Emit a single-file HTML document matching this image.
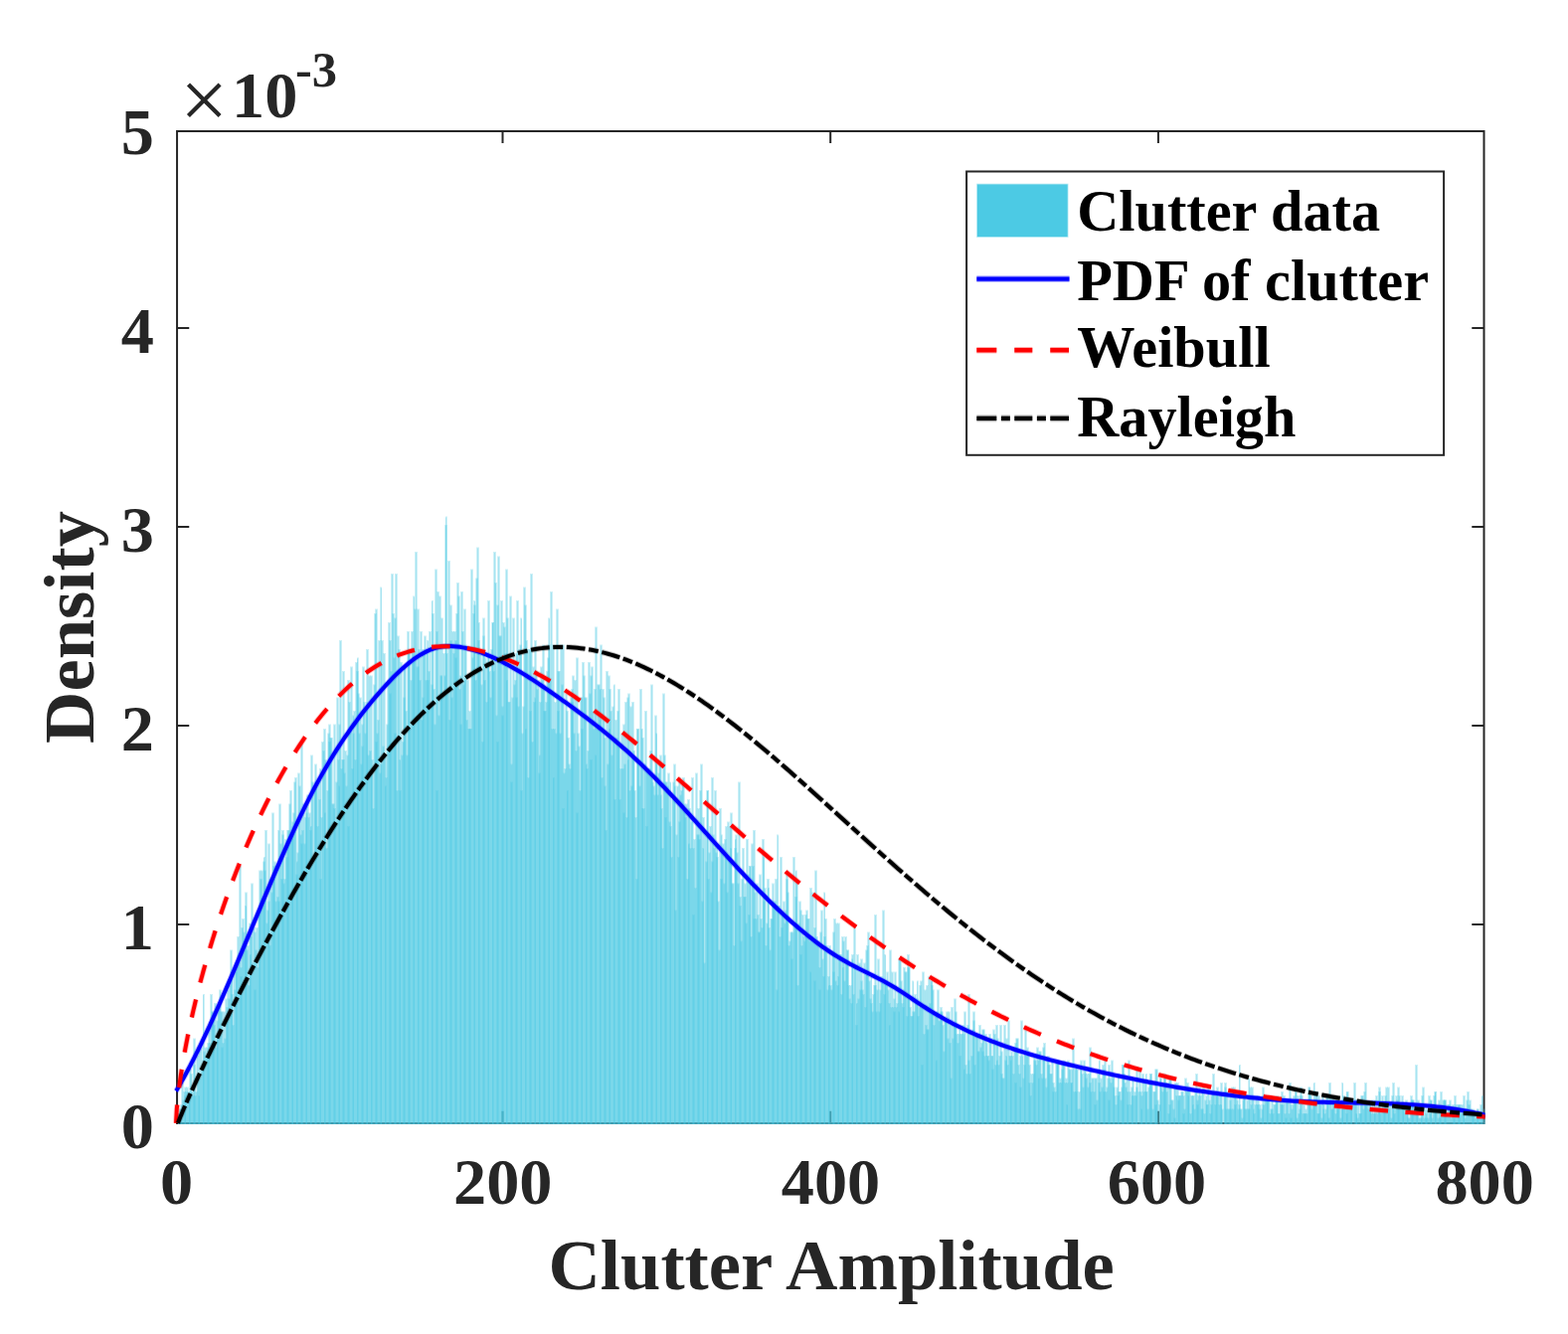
<!DOCTYPE html>
<html lang="en"><head><meta charset="utf-8"><title>Clutter amplitude density: histogram, PDF, Weibull and Rayleigh fits</title>
<style>html,body{margin:0;padding:0;background:#ffffff}svg{display:block}text{font-family:"Liberation Serif",serif;font-weight:bold}</style></head><body>
<svg width="1577" height="1342" viewBox="0 0 1577 1342">
<rect width="1577" height="1342" fill="#ffffff"/>
<g stroke="#262626" stroke-width="2" fill="none">
<path d="M178.05 1130.9V130.9M1492.5 1130.9V130.9M177.05 131.9H1493.5M177.05 1129.9H1493.5"/>
<path d="M505.5 131.9v12.2M505.5 1129.9v-12.2M835.2 131.9v12.2M835.2 1129.9v-12.2M1164.9 131.9v12.2M1164.9 1129.9v-12.2M178.05 329.9h12.2M1492.5 329.9h-12.2M178.05 529.9h12.2M1492.5 529.9h-12.2M178.05 729.9h12.2M1492.5 729.9h-12.2M178.05 929.9h12.2M1492.5 929.9h-12.2"/>
</g>
<clipPath id="c"><rect x="179.0" y="100" width="1314.5" height="1031"/></clipPath>
<g clip-path="url(#c)"><g fill="#4ccae4" fill-opacity="0.28">
<path d="M176 1124.5h2V1134h-2z"/>
<path d="M177 1120h3V1134h-3z"/>
<path d="M178 1120h3V1134h-3z"/>
<path d="M179 1120h3V1134h-3z"/>
<path d="M180 1115.5h3V1134h-3z"/>
<path d="M180 1115.5h3V1134h-3z"/>
<path d="M181 1111h3V1134h-3z"/>
<path d="M182 1089h3V1134h-3z"/>
<path d="M183 1106.5h3V1134h-3z"/>
<path d="M184 1098h3V1134h-3z"/>
<path d="M185 1102h2V1134h-2z"/>
<path d="M185 1093.5h3V1134h-3z"/>
<path d="M186 1098h3V1134h-3z"/>
<path d="M187 1093.5h3V1134h-3z"/>
<path d="M188 1098h3V1134h-3z"/>
<path d="M189 1106.5h3V1134h-3z"/>
<path d="M190 1098h2V1134h-2z"/>
<path d="M190 1075.5h3V1134h-3z"/>
<path d="M191 1080h3V1134h-3z"/>
<path d="M192 1098h3V1134h-3z"/>
<path d="M193 1102h3V1134h-3z"/>
<path d="M194 1071h3V1134h-3z"/>
<path d="M194 1044.5h3V1134h-3z"/>
<path d="M195 1102h3V1134h-3z"/>
<path d="M196 1098h3V1134h-3z"/>
<path d="M197 1062h3V1134h-3z"/>
<path d="M198 1080h3V1134h-3z"/>
<path d="M199 1102h2V1134h-2z"/>
<path d="M199 1053.5h3V1134h-3z"/>
<path d="M200 1084.5h3V1134h-3z"/>
<path d="M201 1053.5h3V1134h-3z"/>
<path d="M202 1071h3V1134h-3z"/>
<path d="M203 1066.5h3V1134h-3z"/>
<path d="M204 1000h2V1134h-2z"/>
<path d="M204 1057.5h3V1134h-3z"/>
<path d="M205 1053.5h3V1134h-3z"/>
<path d="M206 1062h3V1134h-3z"/>
<path d="M207 1053.5h3V1134h-3z"/>
<path d="M208 1062h3V1134h-3z"/>
<path d="M208 1049h3V1134h-3z"/>
<path d="M209 1031h3V1134h-3z"/>
<path d="M210 1049h3V1134h-3z"/>
<path d="M211 1000h3V1134h-3z"/>
<path d="M212 1017.5h3V1134h-3z"/>
<path d="M213 1026.5h3V1134h-3z"/>
<path d="M213 1017.5h3V1134h-3z"/>
<path d="M214 1031h3V1134h-3z"/>
<path d="M215 1009h3V1134h-3z"/>
<path d="M216 1053.5h3V1134h-3z"/>
<path d="M217 1026.5h3V1134h-3z"/>
<path d="M218 1044.5h2V1134h-2z"/>
<path d="M218 1017.5h3V1134h-3z"/>
<path d="M219 1013h3V1134h-3z"/>
<path d="M220 995.5h3V1134h-3z"/>
<path d="M221 1017.5h3V1134h-3z"/>
<path d="M222 1053.5h3V1134h-3z"/>
<path d="M222 1017.5h3V1134h-3z"/>
<path d="M223 1049h3V1134h-3z"/>
<path d="M224 1017.5h3V1134h-3z"/>
<path d="M225 1044.5h3V1134h-3z"/>
<path d="M226 1004.5h3V1134h-3z"/>
<path d="M227 1022h3V1134h-3z"/>
<path d="M227 1013h3V1134h-3z"/>
<path d="M228 995.5h3V1134h-3z"/>
<path d="M229 1004.5h3V1134h-3z"/>
<path d="M230 991h3V1134h-3z"/>
<path d="M231 955.5h3V1134h-3z"/>
<path d="M232 977.5h2V1134h-2z"/>
<path d="M232 1000h3V1134h-3z"/>
<path d="M233 1031h3V1134h-3z"/>
<path d="M234 977.5h3V1134h-3z"/>
<path d="M235 995.5h3V1134h-3z"/>
<path d="M236 968.5h3V1134h-3z"/>
<path d="M237 977.5h2V1134h-2z"/>
<path d="M237 968.5h3V1134h-3z"/>
<path d="M238 942h3V1134h-3z"/>
<path d="M239 968.5h3V1134h-3z"/>
<path d="M240 871h3V1134h-3z"/>
<path d="M241 982h3V1134h-3z"/>
<path d="M241 973h3V1134h-3z"/>
<path d="M242 933h3V1134h-3z"/>
<path d="M243 924h3V1134h-3z"/>
<path d="M244 937.5h3V1134h-3z"/>
<path d="M245 955.5h3V1134h-3z"/>
<path d="M246 911h2V1134h-2z"/>
<path d="M246 897.5h3V1134h-3z"/>
<path d="M247 955.5h3V1134h-3z"/>
<path d="M248 951h3V1134h-3z"/>
<path d="M249 991h3V1134h-3z"/>
<path d="M250 928.5h3V1134h-3z"/>
<path d="M251 960h2V1134h-2z"/>
<path d="M251 942h3V1134h-3z"/>
<path d="M252 888.5h3V1134h-3z"/>
<path d="M253 968.5h3V1134h-3z"/>
<path d="M254 933h3V1134h-3z"/>
<path d="M255 937.5h3V1134h-3z"/>
<path d="M255 995.5h3V1134h-3z"/>
<path d="M256 955.5h3V1134h-3z"/>
<path d="M257 933h3V1134h-3z"/>
<path d="M258 973h3V1134h-3z"/>
<path d="M259 915.5h3V1134h-3z"/>
<path d="M260 920h2V1134h-2z"/>
<path d="M260 875.5h3V1134h-3z"/>
<path d="M261 884h3V1134h-3z"/>
<path d="M262 875.5h3V1134h-3z"/>
<path d="M263 911h3V1134h-3z"/>
<path d="M264 866.5h3V1134h-3z"/>
<path d="M265 862h2V1134h-2z"/>
<path d="M265 875.5h3V1134h-3z"/>
<path d="M266 835h3V1134h-3z"/>
<path d="M267 928.5h3V1134h-3z"/>
<path d="M268 915.5h3V1134h-3z"/>
<path d="M269 848.5h3V1134h-3z"/>
<path d="M269 906.5h3V1134h-3z"/>
<path d="M270 951h3V1134h-3z"/>
<path d="M271 884h3V1134h-3z"/>
<path d="M272 897.5h3V1134h-3z"/>
<path d="M273 817.5h3V1134h-3z"/>
<path d="M274 884h3V1134h-3z"/>
<path d="M274 871h3V1134h-3z"/>
<path d="M275 866.5h3V1134h-3z"/>
<path d="M276 906.5h3V1134h-3z"/>
<path d="M277 871h3V1134h-3z"/>
<path d="M278 902h3V1134h-3z"/>
<path d="M279 835h2V1134h-2z"/>
<path d="M279 906.5h3V1134h-3z"/>
<path d="M280 808.5h3V1134h-3z"/>
<path d="M281 848.5h3V1134h-3z"/>
<path d="M282 884h3V1134h-3z"/>
<path d="M283 835h3V1134h-3z"/>
<path d="M283 839.5h3V1134h-3z"/>
<path d="M284 888.5h3V1134h-3z"/>
<path d="M285 884h3V1134h-3z"/>
<path d="M286 844h3V1134h-3z"/>
<path d="M287 862h3V1134h-3z"/>
<path d="M288 835h3V1134h-3z"/>
<path d="M288 848.5h3V1134h-3z"/>
<path d="M289 835h3V1134h-3z"/>
<path d="M290 808.5h3V1134h-3z"/>
<path d="M291 795h3V1134h-3z"/>
<path d="M292 844h3V1134h-3z"/>
<path d="M293 831h2V1134h-2z"/>
<path d="M293 826.5h3V1134h-3z"/>
<path d="M294 817.5h3V1134h-3z"/>
<path d="M295 786.5h3V1134h-3z"/>
<path d="M296 782h3V1134h-3z"/>
<path d="M297 879.5h3V1134h-3z"/>
<path d="M298 866.5h2V1134h-2z"/>
<path d="M298 857.5h3V1134h-3z"/>
<path d="M299 777.5h3V1134h-3z"/>
<path d="M300 790.5h3V1134h-3z"/>
<path d="M301 839.5h3V1134h-3z"/>
<path d="M302 746h3V1134h-3z"/>
<path d="M302 848.5h3V1134h-3z"/>
<path d="M303 835h3V1134h-3z"/>
<path d="M304 808.5h3V1134h-3z"/>
<path d="M305 848.5h3V1134h-3z"/>
<path d="M306 822h3V1134h-3z"/>
<path d="M307 808.5h2V1134h-2z"/>
<path d="M307 817.5h3V1134h-3z"/>
<path d="M308 799.5h3V1134h-3z"/>
<path d="M309 822h3V1134h-3z"/>
<path d="M310 817.5h3V1134h-3z"/>
<path d="M311 835h3V1134h-3z"/>
<path d="M312 831h2V1134h-2z"/>
<path d="M312 759.5h3V1134h-3z"/>
<path d="M313 786.5h3V1134h-3z"/>
<path d="M314 866.5h3V1134h-3z"/>
<path d="M315 790.5h3V1134h-3z"/>
<path d="M316 768.5h3V1134h-3z"/>
<path d="M316 786.5h3V1134h-3z"/>
<path d="M317 786.5h3V1134h-3z"/>
<path d="M318 831h3V1134h-3z"/>
<path d="M319 786.5h3V1134h-3z"/>
<path d="M320 804h3V1134h-3z"/>
<path d="M321 773h2V1134h-2z"/>
<path d="M321 884h3V1134h-3z"/>
<path d="M322 822h3V1134h-3z"/>
<path d="M323 746h3V1134h-3z"/>
<path d="M324 755h3V1134h-3z"/>
<path d="M325 733h3V1134h-3z"/>
<path d="M326 817.5h2V1134h-2z"/>
<path d="M326 764h3V1134h-3z"/>
<path d="M327 853h3V1134h-3z"/>
<path d="M328 795h3V1134h-3z"/>
<path d="M329 737.5h3V1134h-3z"/>
<path d="M330 728.5h3V1134h-3z"/>
<path d="M330 746h3V1134h-3z"/>
<path d="M331 742h3V1134h-3z"/>
<path d="M332 742h3V1134h-3z"/>
<path d="M333 808.5h3V1134h-3z"/>
<path d="M334 808.5h3V1134h-3z"/>
<path d="M335 813h3V1134h-3z"/>
<path d="M335 728.5h3V1134h-3z"/>
<path d="M336 826.5h3V1134h-3z"/>
<path d="M337 786.5h3V1134h-3z"/>
<path d="M338 701.5h3V1134h-3z"/>
<path d="M339 764h3V1134h-3z"/>
<path d="M340 790.5h2V1134h-2z"/>
<path d="M340 728.5h3V1134h-3z"/>
<path d="M341 644h3V1134h-3z"/>
<path d="M342 773h3V1134h-3z"/>
<path d="M343 764h3V1134h-3z"/>
<path d="M344 764h3V1134h-3z"/>
<path d="M344 675h3V1134h-3z"/>
<path d="M345 777.5h3V1134h-3z"/>
<path d="M346 755h3V1134h-3z"/>
<path d="M347 790.5h3V1134h-3z"/>
<path d="M348 759.5h3V1134h-3z"/>
<path d="M349 684h3V1134h-3z"/>
<path d="M349 831h3V1134h-3z"/>
<path d="M350 706h3V1134h-3z"/>
<path d="M351 733h3V1134h-3z"/>
<path d="M352 670.5h3V1134h-3z"/>
<path d="M353 773h3V1134h-3z"/>
<path d="M354 719.5h2V1134h-2z"/>
<path d="M354 737.5h3V1134h-3z"/>
<path d="M355 715h3V1134h-3z"/>
<path d="M356 764h3V1134h-3z"/>
<path d="M357 666h3V1134h-3z"/>
<path d="M358 675h3V1134h-3z"/>
<path d="M359 661.5h2V1134h-2z"/>
<path d="M359 697.5h3V1134h-3z"/>
<path d="M360 737.5h3V1134h-3z"/>
<path d="M361 701.5h3V1134h-3z"/>
<path d="M362 768.5h3V1134h-3z"/>
<path d="M363 750.5h3V1134h-3z"/>
<path d="M363 728.5h3V1134h-3z"/>
<path d="M364 670.5h3V1134h-3z"/>
<path d="M365 706h3V1134h-3z"/>
<path d="M366 737.5h3V1134h-3z"/>
<path d="M367 710.5h3V1134h-3z"/>
<path d="M368 706h2V1134h-2z"/>
<path d="M368 653h3V1134h-3z"/>
<path d="M369 759.5h3V1134h-3z"/>
<path d="M370 679.5h3V1134h-3z"/>
<path d="M371 755h3V1134h-3z"/>
<path d="M372 679.5h3V1134h-3z"/>
<path d="M373 773h2V1134h-2z"/>
<path d="M373 764h3V1134h-3z"/>
<path d="M374 813h3V1134h-3z"/>
<path d="M375 688.5h3V1134h-3z"/>
<path d="M376 617h3V1134h-3z"/>
<path d="M377 612.5h3V1134h-3z"/>
<path d="M377 746h3V1134h-3z"/>
<path d="M378 737.5h3V1134h-3z"/>
<path d="M379 724h3V1134h-3z"/>
<path d="M380 644h3V1134h-3z"/>
<path d="M381 777.5h3V1134h-3z"/>
<path d="M382 590.5h2V1134h-2z"/>
<path d="M382 768.5h3V1134h-3z"/>
<path d="M383 644h3V1134h-3z"/>
<path d="M384 750.5h3V1134h-3z"/>
<path d="M385 657h3V1134h-3z"/>
<path d="M386 759.5h3V1134h-3z"/>
<path d="M387 790.5h2V1134h-2z"/>
<path d="M387 782h3V1134h-3z"/>
<path d="M388 728.5h3V1134h-3z"/>
<path d="M389 684h3V1134h-3z"/>
<path d="M390 626h3V1134h-3z"/>
<path d="M391 644h3V1134h-3z"/>
<path d="M391 697.5h3V1134h-3z"/>
<path d="M392 675h3V1134h-3z"/>
<path d="M393 577h3V1134h-3z"/>
<path d="M394 617h3V1134h-3z"/>
<path d="M395 661.5h3V1134h-3z"/>
<path d="M396 621.5h3V1134h-3z"/>
<path d="M396 737.5h3V1134h-3z"/>
<path d="M397 577h3V1134h-3z"/>
<path d="M398 795h3V1134h-3z"/>
<path d="M399 639.5h3V1134h-3z"/>
<path d="M400 653h3V1134h-3z"/>
<path d="M401 764h2V1134h-2z"/>
<path d="M401 795h3V1134h-3z"/>
<path d="M402 666h3V1134h-3z"/>
<path d="M403 759.5h3V1134h-3z"/>
<path d="M404 746h3V1134h-3z"/>
<path d="M405 701.5h3V1134h-3z"/>
<path d="M405 670.5h3V1134h-3z"/>
<path d="M406 670.5h3V1134h-3z"/>
<path d="M407 715h3V1134h-3z"/>
<path d="M408 759.5h3V1134h-3z"/>
<path d="M409 635h3V1134h-3z"/>
<path d="M410 653h3V1134h-3z"/>
<path d="M410 653h3V1134h-3z"/>
<path d="M411 733h3V1134h-3z"/>
<path d="M412 684h3V1134h-3z"/>
<path d="M413 635h3V1134h-3z"/>
<path d="M414 657h3V1134h-3z"/>
<path d="M415 599.5h2V1134h-2z"/>
<path d="M415 661.5h3V1134h-3z"/>
<path d="M416 612.5h3V1134h-3z"/>
<path d="M417 555h3V1134h-3z"/>
<path d="M418 670.5h3V1134h-3z"/>
<path d="M419 612.5h3V1134h-3z"/>
<path d="M420 670.5h2V1134h-2z"/>
<path d="M420 653h3V1134h-3z"/>
<path d="M421 684h3V1134h-3z"/>
<path d="M422 635h3V1134h-3z"/>
<path d="M423 724h3V1134h-3z"/>
<path d="M424 701.5h3V1134h-3z"/>
<path d="M424 653h3V1134h-3z"/>
<path d="M425 657h3V1134h-3z"/>
<path d="M426 639.5h3V1134h-3z"/>
<path d="M427 684h3V1134h-3z"/>
<path d="M428 657h3V1134h-3z"/>
<path d="M429 644h2V1134h-2z"/>
<path d="M429 684h3V1134h-3z"/>
<path d="M430 675h3V1134h-3z"/>
<path d="M431 635h3V1134h-3z"/>
<path d="M432 710.5h3V1134h-3z"/>
<path d="M433 688.5h3V1134h-3z"/>
<path d="M434 604h2V1134h-2z"/>
<path d="M434 617h3V1134h-3z"/>
<path d="M435 693h3V1134h-3z"/>
<path d="M436 728.5h3V1134h-3z"/>
<path d="M437 572.5h3V1134h-3z"/>
<path d="M438 795h3V1134h-3z"/>
<path d="M438 635h3V1134h-3z"/>
<path d="M439 595h3V1134h-3z"/>
<path d="M440 719.5h3V1134h-3z"/>
<path d="M441 599.5h3V1134h-3z"/>
<path d="M442 679.5h3V1134h-3z"/>
<path d="M443 679.5h2V1134h-2z"/>
<path d="M443 621.5h3V1134h-3z"/>
<path d="M444 697.5h3V1134h-3z"/>
<path d="M445 657h3V1134h-3z"/>
<path d="M446 679.5h3V1134h-3z"/>
<path d="M447 528h3V1134h-3z"/>
<path d="M448 519.5h2V1134h-2z"/>
<path d="M448 657h3V1134h-3z"/>
<path d="M449 697.5h3V1134h-3z"/>
<path d="M450 564h3V1134h-3z"/>
<path d="M451 724h3V1134h-3z"/>
<path d="M452 644h3V1134h-3z"/>
<path d="M452 608.5h3V1134h-3z"/>
<path d="M453 701.5h3V1134h-3z"/>
<path d="M454 635h3V1134h-3z"/>
<path d="M455 657h3V1134h-3z"/>
<path d="M456 635h3V1134h-3z"/>
<path d="M457 644h3V1134h-3z"/>
<path d="M457 661.5h3V1134h-3z"/>
<path d="M458 617h3V1134h-3z"/>
<path d="M459 586h3V1134h-3z"/>
<path d="M460 599.5h3V1134h-3z"/>
<path d="M461 693h3V1134h-3z"/>
<path d="M462 679.5h2V1134h-2z"/>
<path d="M462 728.5h3V1134h-3z"/>
<path d="M463 595h3V1134h-3z"/>
<path d="M464 635h3V1134h-3z"/>
<path d="M465 688.5h3V1134h-3z"/>
<path d="M466 684h3V1134h-3z"/>
<path d="M466 612.5h3V1134h-3z"/>
<path d="M467 648.5h3V1134h-3z"/>
<path d="M468 724h3V1134h-3z"/>
<path d="M469 684h3V1134h-3z"/>
<path d="M470 733h3V1134h-3z"/>
<path d="M471 715h3V1134h-3z"/>
<path d="M471 733h3V1134h-3z"/>
<path d="M472 733h3V1134h-3z"/>
<path d="M473 572.5h3V1134h-3z"/>
<path d="M474 661.5h3V1134h-3z"/>
<path d="M475 617h3V1134h-3z"/>
<path d="M476 604h2V1134h-2z"/>
<path d="M476 608.5h3V1134h-3z"/>
<path d="M477 684h3V1134h-3z"/>
<path d="M478 581.5h3V1134h-3z"/>
<path d="M479 550.5h3V1134h-3z"/>
<path d="M480 644h3V1134h-3z"/>
<path d="M481 626h2V1134h-2z"/>
<path d="M481 670.5h3V1134h-3z"/>
<path d="M482 657h3V1134h-3z"/>
<path d="M483 688.5h3V1134h-3z"/>
<path d="M484 746h3V1134h-3z"/>
<path d="M485 621.5h3V1134h-3z"/>
<path d="M485 639.5h3V1134h-3z"/>
<path d="M486 684h3V1134h-3z"/>
<path d="M487 661.5h3V1134h-3z"/>
<path d="M488 706h3V1134h-3z"/>
<path d="M489 666h3V1134h-3z"/>
<path d="M490 657h2V1134h-2z"/>
<path d="M490 604h3V1134h-3z"/>
<path d="M491 675h3V1134h-3z"/>
<path d="M492 701.5h3V1134h-3z"/>
<path d="M493 653h3V1134h-3z"/>
<path d="M494 626h3V1134h-3z"/>
<path d="M495 626h2V1134h-2z"/>
<path d="M495 675h3V1134h-3z"/>
<path d="M496 555h3V1134h-3z"/>
<path d="M497 586h3V1134h-3z"/>
<path d="M498 719.5h3V1134h-3z"/>
<path d="M499 746h3V1134h-3z"/>
<path d="M499 608.5h3V1134h-3z"/>
<path d="M500 559.5h3V1134h-3z"/>
<path d="M501 639.5h3V1134h-3z"/>
<path d="M502 639.5h3V1134h-3z"/>
<path d="M503 604h3V1134h-3z"/>
<path d="M504 719.5h3V1134h-3z"/>
<path d="M504 710.5h3V1134h-3z"/>
<path d="M505 626h3V1134h-3z"/>
<path d="M506 630.5h3V1134h-3z"/>
<path d="M507 657h3V1134h-3z"/>
<path d="M508 572.5h3V1134h-3z"/>
<path d="M509 684h2V1134h-2z"/>
<path d="M509 621.5h3V1134h-3z"/>
<path d="M510 706h3V1134h-3z"/>
<path d="M511 706h3V1134h-3z"/>
<path d="M512 599.5h3V1134h-3z"/>
<path d="M513 786.5h3V1134h-3z"/>
<path d="M513 768.5h3V1134h-3z"/>
<path d="M514 701.5h3V1134h-3z"/>
<path d="M515 621.5h3V1134h-3z"/>
<path d="M516 688.5h3V1134h-3z"/>
<path d="M517 684h3V1134h-3z"/>
<path d="M518 657h3V1134h-3z"/>
<path d="M518 701.5h3V1134h-3z"/>
<path d="M519 604h3V1134h-3z"/>
<path d="M520 710.5h3V1134h-3z"/>
<path d="M521 653h3V1134h-3z"/>
<path d="M522 648.5h3V1134h-3z"/>
<path d="M523 621.5h2V1134h-2z"/>
<path d="M523 795h3V1134h-3z"/>
<path d="M524 737.5h3V1134h-3z"/>
<path d="M525 710.5h3V1134h-3z"/>
<path d="M526 590.5h3V1134h-3z"/>
<path d="M527 608.5h3V1134h-3z"/>
<path d="M528 733h2V1134h-2z"/>
<path d="M528 644h3V1134h-3z"/>
<path d="M529 653h3V1134h-3z"/>
<path d="M530 782h3V1134h-3z"/>
<path d="M531 653h3V1134h-3z"/>
<path d="M532 715h3V1134h-3z"/>
<path d="M532 653h3V1134h-3z"/>
<path d="M533 577h3V1134h-3z"/>
<path d="M534 746h3V1134h-3z"/>
<path d="M535 670.5h3V1134h-3z"/>
<path d="M536 706h3V1134h-3z"/>
<path d="M537 701.5h2V1134h-2z"/>
<path d="M537 644h3V1134h-3z"/>
<path d="M538 675h3V1134h-3z"/>
<path d="M539 693h3V1134h-3z"/>
<path d="M540 684h3V1134h-3z"/>
<path d="M541 777.5h3V1134h-3z"/>
<path d="M542 759.5h2V1134h-2z"/>
<path d="M542 706h3V1134h-3z"/>
<path d="M543 670.5h3V1134h-3z"/>
<path d="M544 684h3V1134h-3z"/>
<path d="M545 648.5h3V1134h-3z"/>
<path d="M546 688.5h3V1134h-3z"/>
<path d="M546 715h3V1134h-3z"/>
<path d="M547 715h3V1134h-3z"/>
<path d="M548 706h3V1134h-3z"/>
<path d="M549 675h3V1134h-3z"/>
<path d="M550 661.5h3V1134h-3z"/>
<path d="M551 621.5h2V1134h-2z"/>
<path d="M551 648.5h3V1134h-3z"/>
<path d="M552 684h3V1134h-3z"/>
<path d="M553 595h3V1134h-3z"/>
<path d="M554 733h3V1134h-3z"/>
<path d="M555 648.5h3V1134h-3z"/>
<path d="M556 782h2V1134h-2z"/>
<path d="M556 733h3V1134h-3z"/>
<path d="M557 706h3V1134h-3z"/>
<path d="M558 737.5h3V1134h-3z"/>
<path d="M559 612.5h3V1134h-3z"/>
<path d="M560 715h3V1134h-3z"/>
<path d="M560 675h3V1134h-3z"/>
<path d="M561 675h3V1134h-3z"/>
<path d="M562 737.5h3V1134h-3z"/>
<path d="M563 648.5h3V1134h-3z"/>
<path d="M564 688.5h3V1134h-3z"/>
<path d="M565 813h3V1134h-3z"/>
<path d="M565 648.5h3V1134h-3z"/>
<path d="M566 777.5h3V1134h-3z"/>
<path d="M567 773h3V1134h-3z"/>
<path d="M568 697.5h3V1134h-3z"/>
<path d="M569 715h3V1134h-3z"/>
<path d="M570 795h2V1134h-2z"/>
<path d="M570 742h3V1134h-3z"/>
<path d="M571 768.5h3V1134h-3z"/>
<path d="M572 773h3V1134h-3z"/>
<path d="M573 701.5h3V1134h-3z"/>
<path d="M574 706h3V1134h-3z"/>
<path d="M574 693h3V1134h-3z"/>
<path d="M575 679.5h3V1134h-3z"/>
<path d="M576 737.5h3V1134h-3z"/>
<path d="M577 684h3V1134h-3z"/>
<path d="M578 755h3V1134h-3z"/>
<path d="M579 661.5h3V1134h-3z"/>
<path d="M579 817.5h3V1134h-3z"/>
<path d="M580 737.5h3V1134h-3z"/>
<path d="M581 750.5h3V1134h-3z"/>
<path d="M582 795h3V1134h-3z"/>
<path d="M583 701.5h3V1134h-3z"/>
<path d="M584 701.5h2V1134h-2z"/>
<path d="M584 733h3V1134h-3z"/>
<path d="M585 666h3V1134h-3z"/>
<path d="M586 679.5h3V1134h-3z"/>
<path d="M587 701.5h3V1134h-3z"/>
<path d="M588 701.5h3V1134h-3z"/>
<path d="M589 768.5h2V1134h-2z"/>
<path d="M589 773h3V1134h-3z"/>
<path d="M590 755h3V1134h-3z"/>
<path d="M591 666h3V1134h-3z"/>
<path d="M592 697.5h3V1134h-3z"/>
<path d="M593 679.5h3V1134h-3z"/>
<path d="M593 764h3V1134h-3z"/>
<path d="M594 670.5h3V1134h-3z"/>
<path d="M595 715h3V1134h-3z"/>
<path d="M596 733h3V1134h-3z"/>
<path d="M597 693h3V1134h-3z"/>
<path d="M598 759.5h2V1134h-2z"/>
<path d="M598 630.5h3V1134h-3z"/>
<path d="M599 733h3V1134h-3z"/>
<path d="M600 688.5h3V1134h-3z"/>
<path d="M601 688.5h3V1134h-3z"/>
<path d="M602 724h3V1134h-3z"/>
<path d="M603 693h2V1134h-2z"/>
<path d="M603 648.5h3V1134h-3z"/>
<path d="M604 782h3V1134h-3z"/>
<path d="M605 693h3V1134h-3z"/>
<path d="M606 701.5h3V1134h-3z"/>
<path d="M607 790.5h3V1134h-3z"/>
<path d="M607 742h3V1134h-3z"/>
<path d="M608 835h3V1134h-3z"/>
<path d="M609 675h3V1134h-3z"/>
<path d="M610 768.5h3V1134h-3z"/>
<path d="M611 679.5h3V1134h-3z"/>
<path d="M612 733h2V1134h-2z"/>
<path d="M612 693h3V1134h-3z"/>
<path d="M613 715h3V1134h-3z"/>
<path d="M614 759.5h3V1134h-3z"/>
<path d="M615 710.5h3V1134h-3z"/>
<path d="M616 746h3V1134h-3z"/>
<path d="M617 688.5h2V1134h-2z"/>
<path d="M617 804h3V1134h-3z"/>
<path d="M618 724h3V1134h-3z"/>
<path d="M619 742h3V1134h-3z"/>
<path d="M620 715h3V1134h-3z"/>
<path d="M621 746h3V1134h-3z"/>
<path d="M621 693h3V1134h-3z"/>
<path d="M622 804h3V1134h-3z"/>
<path d="M623 773h3V1134h-3z"/>
<path d="M624 737.5h3V1134h-3z"/>
<path d="M625 773h3V1134h-3z"/>
<path d="M626 817.5h3V1134h-3z"/>
<path d="M626 728.5h3V1134h-3z"/>
<path d="M627 768.5h3V1134h-3z"/>
<path d="M628 706h3V1134h-3z"/>
<path d="M629 822h3V1134h-3z"/>
<path d="M630 701.5h3V1134h-3z"/>
<path d="M631 764h2V1134h-2z"/>
<path d="M631 697.5h3V1134h-3z"/>
<path d="M632 795h3V1134h-3z"/>
<path d="M633 710.5h3V1134h-3z"/>
<path d="M634 790.5h3V1134h-3z"/>
<path d="M635 706h3V1134h-3z"/>
<path d="M635 759.5h3V1134h-3z"/>
<path d="M636 755h3V1134h-3z"/>
<path d="M637 795h3V1134h-3z"/>
<path d="M638 822h3V1134h-3z"/>
<path d="M639 884h3V1134h-3z"/>
<path d="M640 733h3V1134h-3z"/>
<path d="M640 733h3V1134h-3z"/>
<path d="M641 768.5h3V1134h-3z"/>
<path d="M642 790.5h3V1134h-3z"/>
<path d="M643 693h3V1134h-3z"/>
<path d="M644 733h3V1134h-3z"/>
<path d="M645 813h2V1134h-2z"/>
<path d="M645 742h3V1134h-3z"/>
<path d="M646 813h3V1134h-3z"/>
<path d="M647 768.5h3V1134h-3z"/>
<path d="M648 715h3V1134h-3z"/>
<path d="M649 831h3V1134h-3z"/>
<path d="M650 773h2V1134h-2z"/>
<path d="M650 773h3V1134h-3z"/>
<path d="M651 777.5h3V1134h-3z"/>
<path d="M652 773h3V1134h-3z"/>
<path d="M653 755h3V1134h-3z"/>
<path d="M654 688.5h3V1134h-3z"/>
<path d="M654 777.5h3V1134h-3z"/>
<path d="M655 786.5h3V1134h-3z"/>
<path d="M656 790.5h3V1134h-3z"/>
<path d="M657 799.5h3V1134h-3z"/>
<path d="M658 719.5h3V1134h-3z"/>
<path d="M659 737.5h2V1134h-2z"/>
<path d="M659 768.5h3V1134h-3z"/>
<path d="M660 799.5h3V1134h-3z"/>
<path d="M661 777.5h3V1134h-3z"/>
<path d="M662 768.5h3V1134h-3z"/>
<path d="M663 759.5h3V1134h-3z"/>
<path d="M664 799.5h2V1134h-2z"/>
<path d="M664 813h3V1134h-3z"/>
<path d="M665 853h3V1134h-3z"/>
<path d="M666 697.5h3V1134h-3z"/>
<path d="M667 759.5h3V1134h-3z"/>
<path d="M668 786.5h3V1134h-3z"/>
<path d="M668 822h3V1134h-3z"/>
<path d="M669 786.5h3V1134h-3z"/>
<path d="M670 790.5h3V1134h-3z"/>
<path d="M671 777.5h3V1134h-3z"/>
<path d="M672 826.5h3V1134h-3z"/>
<path d="M673 786.5h2V1134h-2z"/>
<path d="M673 831h3V1134h-3z"/>
<path d="M674 862h3V1134h-3z"/>
<path d="M675 804h3V1134h-3z"/>
<path d="M676 786.5h3V1134h-3z"/>
<path d="M677 768.5h3V1134h-3z"/>
<path d="M678 790.5h2V1134h-2z"/>
<path d="M678 915.5h3V1134h-3z"/>
<path d="M679 839.5h3V1134h-3z"/>
<path d="M680 790.5h3V1134h-3z"/>
<path d="M681 862h3V1134h-3z"/>
<path d="M682 782h3V1134h-3z"/>
<path d="M682 826.5h3V1134h-3z"/>
<path d="M683 799.5h3V1134h-3z"/>
<path d="M684 795h3V1134h-3z"/>
<path d="M685 786.5h3V1134h-3z"/>
<path d="M686 782h3V1134h-3z"/>
<path d="M687 808.5h3V1134h-3z"/>
<path d="M687 813h3V1134h-3z"/>
<path d="M688 822h3V1134h-3z"/>
<path d="M689 808.5h3V1134h-3z"/>
<path d="M690 884h3V1134h-3z"/>
<path d="M691 804h3V1134h-3z"/>
<path d="M692 848.5h2V1134h-2z"/>
<path d="M692 813h3V1134h-3z"/>
<path d="M693 853h3V1134h-3z"/>
<path d="M694 826.5h3V1134h-3z"/>
<path d="M695 782h3V1134h-3z"/>
<path d="M696 853h3V1134h-3z"/>
<path d="M696 920h3V1134h-3z"/>
<path d="M697 844h3V1134h-3z"/>
<path d="M698 893h3V1134h-3z"/>
<path d="M699 777.5h3V1134h-3z"/>
<path d="M700 839.5h3V1134h-3z"/>
<path d="M701 839.5h3V1134h-3z"/>
<path d="M701 813h3V1134h-3z"/>
<path d="M702 844h3V1134h-3z"/>
<path d="M703 795h3V1134h-3z"/>
<path d="M704 768.5h3V1134h-3z"/>
<path d="M705 906.5h3V1134h-3z"/>
<path d="M706 853h2V1134h-2z"/>
<path d="M706 822h3V1134h-3z"/>
<path d="M707 968.5h3V1134h-3z"/>
<path d="M708 839.5h3V1134h-3z"/>
<path d="M709 866.5h3V1134h-3z"/>
<path d="M710 795h3V1134h-3z"/>
<path d="M711 795h2V1134h-2z"/>
<path d="M711 884h3V1134h-3z"/>
<path d="M712 857.5h3V1134h-3z"/>
<path d="M713 831h3V1134h-3z"/>
<path d="M714 897.5h3V1134h-3z"/>
<path d="M715 866.5h3V1134h-3z"/>
<path d="M715 782h3V1134h-3z"/>
<path d="M716 839.5h3V1134h-3z"/>
<path d="M717 853h3V1134h-3z"/>
<path d="M718 795h3V1134h-3z"/>
<path d="M719 857.5h3V1134h-3z"/>
<path d="M720 848.5h2V1134h-2z"/>
<path d="M720 862h3V1134h-3z"/>
<path d="M721 906.5h3V1134h-3z"/>
<path d="M722 955.5h3V1134h-3z"/>
<path d="M723 813h3V1134h-3z"/>
<path d="M724 884h3V1134h-3z"/>
<path d="M725 839.5h2V1134h-2z"/>
<path d="M725 857.5h3V1134h-3z"/>
<path d="M726 848.5h3V1134h-3z"/>
<path d="M727 888.5h3V1134h-3z"/>
<path d="M728 844h3V1134h-3z"/>
<path d="M729 831h3V1134h-3z"/>
<path d="M729 857.5h3V1134h-3z"/>
<path d="M730 897.5h3V1134h-3z"/>
<path d="M731 826.5h3V1134h-3z"/>
<path d="M732 862h3V1134h-3z"/>
<path d="M733 831h3V1134h-3z"/>
<path d="M734 853h2V1134h-2z"/>
<path d="M734 817.5h3V1134h-3z"/>
<path d="M735 888.5h3V1134h-3z"/>
<path d="M736 888.5h3V1134h-3z"/>
<path d="M737 951h3V1134h-3z"/>
<path d="M738 853h3V1134h-3z"/>
<path d="M739 844h2V1134h-2z"/>
<path d="M739 839.5h3V1134h-3z"/>
<path d="M740 857.5h3V1134h-3z"/>
<path d="M741 888.5h3V1134h-3z"/>
<path d="M742 786.5h3V1134h-3z"/>
<path d="M743 911h3V1134h-3z"/>
<path d="M743 902h3V1134h-3z"/>
<path d="M744 946.5h3V1134h-3z"/>
<path d="M745 884h3V1134h-3z"/>
<path d="M746 853h3V1134h-3z"/>
<path d="M747 902h3V1134h-3z"/>
<path d="M748 888.5h3V1134h-3z"/>
<path d="M748 902h3V1134h-3z"/>
<path d="M749 928.5h3V1134h-3z"/>
<path d="M750 844h3V1134h-3z"/>
<path d="M751 879.5h3V1134h-3z"/>
<path d="M752 920h3V1134h-3z"/>
<path d="M753 871h2V1134h-2z"/>
<path d="M753 871h3V1134h-3z"/>
<path d="M754 942h3V1134h-3z"/>
<path d="M755 848.5h3V1134h-3z"/>
<path d="M756 871h3V1134h-3z"/>
<path d="M757 924h3V1134h-3z"/>
<path d="M757 835h3V1134h-3z"/>
<path d="M758 897.5h3V1134h-3z"/>
<path d="M759 924h3V1134h-3z"/>
<path d="M760 888.5h3V1134h-3z"/>
<path d="M761 920h3V1134h-3z"/>
<path d="M762 937.5h3V1134h-3z"/>
<path d="M762 937.5h3V1134h-3z"/>
<path d="M763 879.5h3V1134h-3z"/>
<path d="M764 924h3V1134h-3z"/>
<path d="M765 933h3V1134h-3z"/>
<path d="M766 844h3V1134h-3z"/>
<path d="M767 862h2V1134h-2z"/>
<path d="M767 906.5h3V1134h-3z"/>
<path d="M768 893h3V1134h-3z"/>
<path d="M769 951h3V1134h-3z"/>
<path d="M770 928.5h3V1134h-3z"/>
<path d="M771 884h3V1134h-3z"/>
<path d="M772 893h2V1134h-2z"/>
<path d="M772 933h3V1134h-3z"/>
<path d="M773 955.5h3V1134h-3z"/>
<path d="M774 924h3V1134h-3z"/>
<path d="M775 924h3V1134h-3z"/>
<path d="M776 888.5h3V1134h-3z"/>
<path d="M776 906.5h3V1134h-3z"/>
<path d="M777 911h3V1134h-3z"/>
<path d="M778 906.5h3V1134h-3z"/>
<path d="M779 884h3V1134h-3z"/>
<path d="M780 995.5h3V1134h-3z"/>
<path d="M781 839.5h2V1134h-2z"/>
<path d="M781 911h3V1134h-3z"/>
<path d="M782 911h3V1134h-3z"/>
<path d="M783 942h3V1134h-3z"/>
<path d="M784 862h3V1134h-3z"/>
<path d="M785 933h3V1134h-3z"/>
<path d="M786 920h2V1134h-2z"/>
<path d="M786 920h3V1134h-3z"/>
<path d="M787 906.5h3V1134h-3z"/>
<path d="M788 928.5h3V1134h-3z"/>
<path d="M789 915.5h3V1134h-3z"/>
<path d="M790 879.5h3V1134h-3z"/>
<path d="M790 884h3V1134h-3z"/>
<path d="M791 897.5h3V1134h-3z"/>
<path d="M792 951h3V1134h-3z"/>
<path d="M793 946.5h3V1134h-3z"/>
<path d="M794 937.5h3V1134h-3z"/>
<path d="M795 937.5h2V1134h-2z"/>
<path d="M795 964.5h3V1134h-3z"/>
<path d="M796 937.5h3V1134h-3z"/>
<path d="M797 862h3V1134h-3z"/>
<path d="M798 928.5h3V1134h-3z"/>
<path d="M799 902h3V1134h-3z"/>
<path d="M800 875.5h2V1134h-2z"/>
<path d="M800 888.5h3V1134h-3z"/>
<path d="M801 991h3V1134h-3z"/>
<path d="M802 928.5h3V1134h-3z"/>
<path d="M803 906.5h3V1134h-3z"/>
<path d="M804 960h3V1134h-3z"/>
<path d="M804 915.5h3V1134h-3z"/>
<path d="M805 951h3V1134h-3z"/>
<path d="M806 920h3V1134h-3z"/>
<path d="M807 942h3V1134h-3z"/>
<path d="M808 946.5h3V1134h-3z"/>
<path d="M809 920h3V1134h-3z"/>
<path d="M809 937.5h3V1134h-3z"/>
<path d="M810 915.5h3V1134h-3z"/>
<path d="M811 924h3V1134h-3z"/>
<path d="M812 924h3V1134h-3z"/>
<path d="M813 946.5h3V1134h-3z"/>
<path d="M814 977.5h2V1134h-2z"/>
<path d="M814 893h3V1134h-3z"/>
<path d="M815 942h3V1134h-3z"/>
<path d="M816 897.5h3V1134h-3z"/>
<path d="M817 946.5h3V1134h-3z"/>
<path d="M818 986.5h3V1134h-3z"/>
<path d="M818 933h3V1134h-3z"/>
<path d="M819 875.5h3V1134h-3z"/>
<path d="M820 942h3V1134h-3z"/>
<path d="M821 946.5h3V1134h-3z"/>
<path d="M822 946.5h3V1134h-3z"/>
<path d="M823 995.5h3V1134h-3z"/>
<path d="M823 973h3V1134h-3z"/>
<path d="M824 937.5h3V1134h-3z"/>
<path d="M825 915.5h3V1134h-3z"/>
<path d="M826 964.5h3V1134h-3z"/>
<path d="M827 982h3V1134h-3z"/>
<path d="M828 897.5h2V1134h-2z"/>
<path d="M828 942h3V1134h-3z"/>
<path d="M829 924h3V1134h-3z"/>
<path d="M830 951h3V1134h-3z"/>
<path d="M831 995.5h3V1134h-3z"/>
<path d="M832 982h3V1134h-3z"/>
<path d="M833 991h2V1134h-2z"/>
<path d="M833 951h3V1134h-3z"/>
<path d="M834 991h3V1134h-3z"/>
<path d="M835 995.5h3V1134h-3z"/>
<path d="M836 960h3V1134h-3z"/>
<path d="M837 977.5h3V1134h-3z"/>
<path d="M837 937.5h3V1134h-3z"/>
<path d="M838 924h3V1134h-3z"/>
<path d="M839 986.5h3V1134h-3z"/>
<path d="M840 928.5h3V1134h-3z"/>
<path d="M841 991h3V1134h-3z"/>
<path d="M842 982h2V1134h-2z"/>
<path d="M842 928.5h3V1134h-3z"/>
<path d="M843 960h3V1134h-3z"/>
<path d="M844 960h3V1134h-3z"/>
<path d="M845 1000h3V1134h-3z"/>
<path d="M846 942h3V1134h-3z"/>
<path d="M847 973h2V1134h-2z"/>
<path d="M847 946.5h3V1134h-3z"/>
<path d="M848 986.5h3V1134h-3z"/>
<path d="M849 942h3V1134h-3z"/>
<path d="M850 964.5h3V1134h-3z"/>
<path d="M851 955.5h3V1134h-3z"/>
<path d="M851 955.5h3V1134h-3z"/>
<path d="M852 991h3V1134h-3z"/>
<path d="M853 1004.5h3V1134h-3z"/>
<path d="M854 991h3V1134h-3z"/>
<path d="M855 1009h3V1134h-3z"/>
<path d="M856 964.5h2V1134h-2z"/>
<path d="M856 960h3V1134h-3z"/>
<path d="M857 1000h3V1134h-3z"/>
<path d="M858 933h3V1134h-3z"/>
<path d="M859 973h3V1134h-3z"/>
<path d="M860 1031h3V1134h-3z"/>
<path d="M861 1009h2V1134h-2z"/>
<path d="M861 960h3V1134h-3z"/>
<path d="M862 1004.5h3V1134h-3z"/>
<path d="M863 968.5h3V1134h-3z"/>
<path d="M864 995.5h3V1134h-3z"/>
<path d="M865 964.5h3V1134h-3z"/>
<path d="M865 986.5h3V1134h-3z"/>
<path d="M866 995.5h3V1134h-3z"/>
<path d="M867 1000h3V1134h-3z"/>
<path d="M868 968.5h3V1134h-3z"/>
<path d="M869 1013h3V1134h-3z"/>
<path d="M870 977.5h3V1134h-3z"/>
<path d="M870 955.5h3V1134h-3z"/>
<path d="M871 951h3V1134h-3z"/>
<path d="M872 937.5h3V1134h-3z"/>
<path d="M873 986.5h3V1134h-3z"/>
<path d="M874 1004.5h3V1134h-3z"/>
<path d="M875 982h2V1134h-2z"/>
<path d="M875 1009h3V1134h-3z"/>
<path d="M876 1017.5h3V1134h-3z"/>
<path d="M877 1000h3V1134h-3z"/>
<path d="M878 991h3V1134h-3z"/>
<path d="M879 920h3V1134h-3z"/>
<path d="M879 991h3V1134h-3z"/>
<path d="M880 1017.5h3V1134h-3z"/>
<path d="M881 995.5h3V1134h-3z"/>
<path d="M882 964.5h3V1134h-3z"/>
<path d="M883 1017.5h3V1134h-3z"/>
<path d="M884 995.5h3V1134h-3z"/>
<path d="M884 1009h3V1134h-3z"/>
<path d="M885 982h3V1134h-3z"/>
<path d="M886 986.5h3V1134h-3z"/>
<path d="M887 915.5h3V1134h-3z"/>
<path d="M888 1000h3V1134h-3z"/>
<path d="M889 960h2V1134h-2z"/>
<path d="M889 986.5h3V1134h-3z"/>
<path d="M890 986.5h3V1134h-3z"/>
<path d="M891 977.5h3V1134h-3z"/>
<path d="M892 995.5h3V1134h-3z"/>
<path d="M893 1009h3V1134h-3z"/>
<path d="M894 1031h2V1134h-2z"/>
<path d="M894 955.5h3V1134h-3z"/>
<path d="M895 1013h3V1134h-3z"/>
<path d="M896 977.5h3V1134h-3z"/>
<path d="M897 1013h3V1134h-3z"/>
<path d="M898 1017.5h3V1134h-3z"/>
<path d="M898 1004.5h3V1134h-3z"/>
<path d="M899 977.5h3V1134h-3z"/>
<path d="M900 1013h3V1134h-3z"/>
<path d="M901 1009h3V1134h-3z"/>
<path d="M902 995.5h3V1134h-3z"/>
<path d="M903 1017.5h2V1134h-2z"/>
<path d="M903 964.5h3V1134h-3z"/>
<path d="M904 964.5h3V1134h-3z"/>
<path d="M905 986.5h3V1134h-3z"/>
<path d="M906 1009h3V1134h-3z"/>
<path d="M907 1013h3V1134h-3z"/>
<path d="M908 995.5h2V1134h-2z"/>
<path d="M908 973h3V1134h-3z"/>
<path d="M909 977.5h3V1134h-3z"/>
<path d="M910 977.5h3V1134h-3z"/>
<path d="M911 1022h3V1134h-3z"/>
<path d="M912 960h3V1134h-3z"/>
<path d="M912 973h3V1134h-3z"/>
<path d="M913 973h3V1134h-3z"/>
<path d="M914 1013h3V1134h-3z"/>
<path d="M915 1022h3V1134h-3z"/>
<path d="M916 1022h3V1134h-3z"/>
<path d="M917 986.5h2V1134h-2z"/>
<path d="M917 1017.5h3V1134h-3z"/>
<path d="M918 1017.5h3V1134h-3z"/>
<path d="M919 1000h3V1134h-3z"/>
<path d="M920 1009h3V1134h-3z"/>
<path d="M921 1004.5h3V1134h-3z"/>
<path d="M922 986.5h2V1134h-2z"/>
<path d="M922 1022h3V1134h-3z"/>
<path d="M923 1013h3V1134h-3z"/>
<path d="M924 991h3V1134h-3z"/>
<path d="M925 986.5h3V1134h-3z"/>
<path d="M926 1013h3V1134h-3z"/>
<path d="M926 1071h3V1134h-3z"/>
<path d="M927 977.5h3V1134h-3z"/>
<path d="M928 1040h3V1134h-3z"/>
<path d="M929 995.5h3V1134h-3z"/>
<path d="M930 1031h3V1134h-3z"/>
<path d="M931 991h3V1134h-3z"/>
<path d="M931 1035.5h3V1134h-3z"/>
<path d="M932 1035.5h3V1134h-3z"/>
<path d="M933 982h3V1134h-3z"/>
<path d="M934 1009h3V1134h-3z"/>
<path d="M935 986.5h3V1134h-3z"/>
<path d="M936 986.5h2V1134h-2z"/>
<path d="M936 991h3V1134h-3z"/>
<path d="M937 995.5h3V1134h-3z"/>
<path d="M938 1031h3V1134h-3z"/>
<path d="M939 1022h3V1134h-3z"/>
<path d="M940 1022h3V1134h-3z"/>
<path d="M941 1066.5h2V1134h-2z"/>
<path d="M941 1017.5h3V1134h-3z"/>
<path d="M942 995.5h3V1134h-3z"/>
<path d="M943 1026.5h3V1134h-3z"/>
<path d="M944 1026.5h3V1134h-3z"/>
<path d="M945 1013h3V1134h-3z"/>
<path d="M945 1017.5h3V1134h-3z"/>
<path d="M946 1017.5h3V1134h-3z"/>
<path d="M947 1031h3V1134h-3z"/>
<path d="M948 1057.5h3V1134h-3z"/>
<path d="M949 1026.5h3V1134h-3z"/>
<path d="M950 1026.5h2V1134h-2z"/>
<path d="M950 1026.5h3V1134h-3z"/>
<path d="M951 1017.5h3V1134h-3z"/>
<path d="M952 1044.5h3V1134h-3z"/>
<path d="M953 1017.5h3V1134h-3z"/>
<path d="M954 1049h3V1134h-3z"/>
<path d="M955 1031h2V1134h-2z"/>
<path d="M955 1084.5h3V1134h-3z"/>
<path d="M956 1013h3V1134h-3z"/>
<path d="M957 1044.5h3V1134h-3z"/>
<path d="M958 1031h3V1134h-3z"/>
<path d="M959 1031h3V1134h-3z"/>
<path d="M959 1004.5h3V1134h-3z"/>
<path d="M960 1017.5h3V1134h-3z"/>
<path d="M961 1040h3V1134h-3z"/>
<path d="M962 1049h3V1134h-3z"/>
<path d="M963 1040h3V1134h-3z"/>
<path d="M964 1035.5h2V1134h-2z"/>
<path d="M964 1062h3V1134h-3z"/>
<path d="M965 1040h3V1134h-3z"/>
<path d="M966 1040h3V1134h-3z"/>
<path d="M967 1031h3V1134h-3z"/>
<path d="M968 1040h3V1134h-3z"/>
<path d="M969 1075.5h2V1134h-2z"/>
<path d="M969 1017.5h3V1134h-3z"/>
<path d="M970 1071h3V1134h-3z"/>
<path d="M971 1080h3V1134h-3z"/>
<path d="M972 1031h3V1134h-3z"/>
<path d="M973 1066.5h3V1134h-3z"/>
<path d="M973 1000h3V1134h-3z"/>
<path d="M974 1080h3V1134h-3z"/>
<path d="M975 1040h3V1134h-3z"/>
<path d="M976 1062h3V1134h-3z"/>
<path d="M977 1035.5h3V1134h-3z"/>
<path d="M978 1017.5h3V1134h-3z"/>
<path d="M978 1026.5h3V1134h-3z"/>
<path d="M979 1071h3V1134h-3z"/>
<path d="M980 1040h3V1134h-3z"/>
<path d="M981 1040h3V1134h-3z"/>
<path d="M982 1040h3V1134h-3z"/>
<path d="M983 1057.5h2V1134h-2z"/>
<path d="M983 1057.5h3V1134h-3z"/>
<path d="M984 1031h3V1134h-3z"/>
<path d="M985 1053.5h3V1134h-3z"/>
<path d="M986 1049h3V1134h-3z"/>
<path d="M987 1057.5h3V1134h-3z"/>
<path d="M987 1035.5h3V1134h-3z"/>
<path d="M988 1035.5h3V1134h-3z"/>
<path d="M989 1062h3V1134h-3z"/>
<path d="M990 1040h3V1134h-3z"/>
<path d="M991 1049h3V1134h-3z"/>
<path d="M992 1062h3V1134h-3z"/>
<path d="M992 1062h3V1134h-3z"/>
<path d="M993 1066.5h3V1134h-3z"/>
<path d="M994 1040h3V1134h-3z"/>
<path d="M995 1044.5h3V1134h-3z"/>
<path d="M996 1062h3V1134h-3z"/>
<path d="M997 1062h2V1134h-2z"/>
<path d="M997 1075.5h3V1134h-3z"/>
<path d="M998 1035.5h3V1134h-3z"/>
<path d="M999 1040h3V1134h-3z"/>
<path d="M1000 1071h3V1134h-3z"/>
<path d="M1001 1031h3V1134h-3z"/>
<path d="M1002 1066.5h2V1134h-2z"/>
<path d="M1002 1044.5h3V1134h-3z"/>
<path d="M1003 1071h3V1134h-3z"/>
<path d="M1004 1062h3V1134h-3z"/>
<path d="M1005 1031h3V1134h-3z"/>
<path d="M1006 1080h3V1134h-3z"/>
<path d="M1006 1057.5h3V1134h-3z"/>
<path d="M1007 1084.5h3V1134h-3z"/>
<path d="M1008 1084.5h3V1134h-3z"/>
<path d="M1009 1031h3V1134h-3z"/>
<path d="M1010 1066.5h3V1134h-3z"/>
<path d="M1011 1062h2V1134h-2z"/>
<path d="M1011 1044.5h3V1134h-3z"/>
<path d="M1012 1071h3V1134h-3z"/>
<path d="M1013 1026.5h3V1134h-3z"/>
<path d="M1014 1062h3V1134h-3z"/>
<path d="M1015 1062h3V1134h-3z"/>
<path d="M1016 1066.5h2V1134h-2z"/>
<path d="M1016 1057.5h3V1134h-3z"/>
<path d="M1017 1062h3V1134h-3z"/>
<path d="M1018 1080h3V1134h-3z"/>
<path d="M1019 1053.5h3V1134h-3z"/>
<path d="M1020 1089h3V1134h-3z"/>
<path d="M1020 1049h3V1134h-3z"/>
<path d="M1021 1044.5h3V1134h-3z"/>
<path d="M1022 1044.5h3V1134h-3z"/>
<path d="M1023 1071h3V1134h-3z"/>
<path d="M1024 1080h3V1134h-3z"/>
<path d="M1025 1062h2V1134h-2z"/>
<path d="M1025 1093.5h3V1134h-3z"/>
<path d="M1026 1026.5h3V1134h-3z"/>
<path d="M1027 1062h3V1134h-3z"/>
<path d="M1028 1084.5h3V1134h-3z"/>
<path d="M1029 1071h3V1134h-3z"/>
<path d="M1030 1057.5h2V1134h-2z"/>
<path d="M1030 1035.5h3V1134h-3z"/>
<path d="M1031 1062h3V1134h-3z"/>
<path d="M1032 1053.5h3V1134h-3z"/>
<path d="M1033 1057.5h3V1134h-3z"/>
<path d="M1034 1089h3V1134h-3z"/>
<path d="M1034 1071h3V1134h-3z"/>
<path d="M1035 1102h3V1134h-3z"/>
<path d="M1036 1080h3V1134h-3z"/>
<path d="M1037 1089h3V1134h-3z"/>
<path d="M1038 1080h3V1134h-3z"/>
<path d="M1039 1066.5h3V1134h-3z"/>
<path d="M1039 1062h3V1134h-3z"/>
<path d="M1040 1066.5h3V1134h-3z"/>
<path d="M1041 1071h3V1134h-3z"/>
<path d="M1042 1053.5h3V1134h-3z"/>
<path d="M1043 1066.5h3V1134h-3z"/>
<path d="M1044 1084.5h2V1134h-2z"/>
<path d="M1044 1057.5h3V1134h-3z"/>
<path d="M1045 1057.5h3V1134h-3z"/>
<path d="M1046 1080h3V1134h-3z"/>
<path d="M1047 1084.5h3V1134h-3z"/>
<path d="M1048 1066.5h3V1134h-3z"/>
<path d="M1048 1053.5h3V1134h-3z"/>
<path d="M1049 1049h3V1134h-3z"/>
<path d="M1050 1084.5h3V1134h-3z"/>
<path d="M1051 1093.5h3V1134h-3z"/>
<path d="M1052 1066.5h3V1134h-3z"/>
<path d="M1053 1062h3V1134h-3z"/>
<path d="M1053 1071h3V1134h-3z"/>
<path d="M1054 1071h3V1134h-3z"/>
<path d="M1055 1080h3V1134h-3z"/>
<path d="M1056 1080h3V1134h-3z"/>
<path d="M1057 1066.5h3V1134h-3z"/>
<path d="M1058 1098h2V1134h-2z"/>
<path d="M1058 1089h3V1134h-3z"/>
<path d="M1059 1093.5h3V1134h-3z"/>
<path d="M1060 1098h3V1134h-3z"/>
<path d="M1061 1066.5h3V1134h-3z"/>
<path d="M1062 1066.5h3V1134h-3z"/>
<path d="M1063 1071h2V1134h-2z"/>
<path d="M1063 1066.5h3V1134h-3z"/>
<path d="M1064 1089h3V1134h-3z"/>
<path d="M1065 1084.5h3V1134h-3z"/>
<path d="M1066 1089h3V1134h-3z"/>
<path d="M1067 1071h3V1134h-3z"/>
<path d="M1067 1075.5h3V1134h-3z"/>
<path d="M1068 1071h3V1134h-3z"/>
<path d="M1069 1066.5h3V1134h-3z"/>
<path d="M1070 1089h3V1134h-3z"/>
<path d="M1071 1084.5h3V1134h-3z"/>
<path d="M1072 1111h2V1134h-2z"/>
<path d="M1072 1089h3V1134h-3z"/>
<path d="M1073 1066.5h3V1134h-3z"/>
<path d="M1074 1075.5h3V1134h-3z"/>
<path d="M1075 1075.5h3V1134h-3z"/>
<path d="M1076 1089h3V1134h-3z"/>
<path d="M1077 1089h2V1134h-2z"/>
<path d="M1077 1075.5h3V1134h-3z"/>
<path d="M1078 1044.5h3V1134h-3z"/>
<path d="M1079 1098h3V1134h-3z"/>
<path d="M1080 1075.5h3V1134h-3z"/>
<path d="M1081 1098h3V1134h-3z"/>
<path d="M1081 1071h3V1134h-3z"/>
<path d="M1082 1075.5h3V1134h-3z"/>
<path d="M1083 1115.5h3V1134h-3z"/>
<path d="M1084 1098h3V1134h-3z"/>
<path d="M1085 1115.5h3V1134h-3z"/>
<path d="M1086 1075.5h2V1134h-2z"/>
<path d="M1086 1066.5h3V1134h-3z"/>
<path d="M1087 1080h3V1134h-3z"/>
<path d="M1088 1093.5h3V1134h-3z"/>
<path d="M1089 1066.5h3V1134h-3z"/>
<path d="M1090 1080h3V1134h-3z"/>
<path d="M1091 1075.5h2V1134h-2z"/>
<path d="M1091 1084.5h3V1134h-3z"/>
<path d="M1092 1080h3V1134h-3z"/>
<path d="M1093 1093.5h3V1134h-3z"/>
<path d="M1094 1080h3V1134h-3z"/>
<path d="M1095 1053.5h3V1134h-3z"/>
<path d="M1095 1089h3V1134h-3z"/>
<path d="M1096 1098h3V1134h-3z"/>
<path d="M1097 1084.5h3V1134h-3z"/>
<path d="M1098 1084.5h3V1134h-3z"/>
<path d="M1099 1098h3V1134h-3z"/>
<path d="M1100 1111h3V1134h-3z"/>
<path d="M1100 1084.5h3V1134h-3z"/>
<path d="M1101 1084.5h3V1134h-3z"/>
<path d="M1102 1106.5h3V1134h-3z"/>
<path d="M1103 1080h3V1134h-3z"/>
<path d="M1104 1089h3V1134h-3z"/>
<path d="M1105 1066.5h2V1134h-2z"/>
<path d="M1105 1098h3V1134h-3z"/>
<path d="M1106 1084.5h3V1134h-3z"/>
<path d="M1107 1093.5h3V1134h-3z"/>
<path d="M1108 1071h3V1134h-3z"/>
<path d="M1109 1075.5h3V1134h-3z"/>
<path d="M1109 1098h3V1134h-3z"/>
<path d="M1110 1066.5h3V1134h-3z"/>
<path d="M1111 1098h3V1134h-3z"/>
<path d="M1112 1093.5h3V1134h-3z"/>
<path d="M1113 1084.5h3V1134h-3z"/>
<path d="M1114 1071h3V1134h-3z"/>
<path d="M1114 1106.5h3V1134h-3z"/>
<path d="M1115 1084.5h3V1134h-3z"/>
<path d="M1116 1089h3V1134h-3z"/>
<path d="M1117 1066.5h3V1134h-3z"/>
<path d="M1118 1084.5h3V1134h-3z"/>
<path d="M1119 1080h2V1134h-2z"/>
<path d="M1119 1093.5h3V1134h-3z"/>
<path d="M1120 1102h3V1134h-3z"/>
<path d="M1121 1111h3V1134h-3z"/>
<path d="M1122 1093.5h3V1134h-3z"/>
<path d="M1123 1102h3V1134h-3z"/>
<path d="M1124 1080h2V1134h-2z"/>
<path d="M1124 1098h3V1134h-3z"/>
<path d="M1125 1098h3V1134h-3z"/>
<path d="M1126 1106.5h3V1134h-3z"/>
<path d="M1127 1093.5h3V1134h-3z"/>
<path d="M1128 1071h3V1134h-3z"/>
<path d="M1128 1071h3V1134h-3z"/>
<path d="M1129 1080h3V1134h-3z"/>
<path d="M1130 1089h3V1134h-3z"/>
<path d="M1131 1093.5h3V1134h-3z"/>
<path d="M1132 1084.5h3V1134h-3z"/>
<path d="M1133 1098h2V1134h-2z"/>
<path d="M1133 1111h3V1134h-3z"/>
<path d="M1134 1066.5h3V1134h-3z"/>
<path d="M1135 1098h3V1134h-3z"/>
<path d="M1136 1111h3V1134h-3z"/>
<path d="M1137 1093.5h3V1134h-3z"/>
<path d="M1138 1102h2V1134h-2z"/>
<path d="M1138 1084.5h3V1134h-3z"/>
<path d="M1139 1102h3V1134h-3z"/>
<path d="M1140 1098h3V1134h-3z"/>
<path d="M1141 1102h3V1134h-3z"/>
<path d="M1142 1093.5h3V1134h-3z"/>
<path d="M1142 1075.5h3V1134h-3z"/>
<path d="M1144 1098h3V1134h-3z"/>
<path d="M1145 1075.5h3V1134h-3z"/>
<path d="M1146 1098h3V1134h-3z"/>
<path d="M1147 1115.5h2V1134h-2z"/>
<path d="M1147 1102h3V1134h-3z"/>
<path d="M1148 1080h3V1134h-3z"/>
<path d="M1149 1098h3V1134h-3z"/>
<path d="M1150 1089h3V1134h-3z"/>
<path d="M1151 1098h3V1134h-3z"/>
<path d="M1152 1080h2V1134h-2z"/>
<path d="M1152 1098h3V1134h-3z"/>
<path d="M1153 1115.5h3V1134h-3z"/>
<path d="M1154 1093.5h3V1134h-3z"/>
<path d="M1155 1089h3V1134h-3z"/>
<path d="M1156 1080h3V1134h-3z"/>
<path d="M1156 1080h3V1134h-3z"/>
<path d="M1157 1089h3V1134h-3z"/>
<path d="M1158 1115.5h3V1134h-3z"/>
<path d="M1159 1098h3V1134h-3z"/>
<path d="M1160 1098h3V1134h-3z"/>
<path d="M1161 1111h3V1134h-3z"/>
<path d="M1161 1075.5h3V1134h-3z"/>
<path d="M1162 1075.5h3V1134h-3z"/>
<path d="M1163 1106.5h3V1134h-3z"/>
<path d="M1165 1111h3V1134h-3z"/>
<path d="M1166 1084.5h2V1134h-2z"/>
<path d="M1166 1084.5h3V1134h-3z"/>
<path d="M1167 1093.5h3V1134h-3z"/>
<path d="M1168 1098h3V1134h-3z"/>
<path d="M1169 1093.5h3V1134h-3z"/>
<path d="M1170 1080h3V1134h-3z"/>
<path d="M1170 1084.5h3V1134h-3z"/>
<path d="M1171 1089h3V1134h-3z"/>
<path d="M1172 1098h3V1134h-3z"/>
<path d="M1173 1089h3V1134h-3z"/>
<path d="M1174 1120h3V1134h-3z"/>
<path d="M1175 1084.5h3V1134h-3z"/>
<path d="M1175 1111h3V1134h-3z"/>
<path d="M1176 1084.5h3V1134h-3z"/>
<path d="M1177 1106.5h3V1134h-3z"/>
<path d="M1178 1106.5h3V1134h-3z"/>
<path d="M1179 1115.5h3V1134h-3z"/>
<path d="M1180 1093.5h2V1134h-2z"/>
<path d="M1180 1124.5h3V1134h-3z"/>
<path d="M1181 1089h3V1134h-3z"/>
<path d="M1182 1102h3V1134h-3z"/>
<path d="M1183 1089h3V1134h-3z"/>
<path d="M1184 1106.5h3V1134h-3z"/>
<path d="M1185 1102h2V1134h-2z"/>
<path d="M1185 1102h3V1134h-3z"/>
<path d="M1186 1102h3V1134h-3z"/>
<path d="M1187 1098h3V1134h-3z"/>
<path d="M1188 1098h3V1134h-3z"/>
<path d="M1189 1102h3V1134h-3z"/>
<path d="M1189 1120h3V1134h-3z"/>
<path d="M1190 1115.5h3V1134h-3z"/>
<path d="M1191 1084.5h3V1134h-3z"/>
<path d="M1192 1098h3V1134h-3z"/>
<path d="M1193 1089h3V1134h-3z"/>
<path d="M1194 1102h2V1134h-2z"/>
<path d="M1194 1093.5h3V1134h-3z"/>
<path d="M1195 1093.5h3V1134h-3z"/>
<path d="M1196 1120h3V1134h-3z"/>
<path d="M1197 1102h3V1134h-3z"/>
<path d="M1198 1102h3V1134h-3z"/>
<path d="M1199 1111h2V1134h-2z"/>
<path d="M1199 1102h3V1134h-3z"/>
<path d="M1200 1115.5h3V1134h-3z"/>
<path d="M1201 1098h3V1134h-3z"/>
<path d="M1202 1080h3V1134h-3z"/>
<path d="M1203 1106.5h3V1134h-3z"/>
<path d="M1203 1111h3V1134h-3z"/>
<path d="M1204 1102h3V1134h-3z"/>
<path d="M1205 1093.5h3V1134h-3z"/>
<path d="M1206 1102h3V1134h-3z"/>
<path d="M1207 1115.5h3V1134h-3z"/>
<path d="M1208 1098h2V1134h-2z"/>
<path d="M1208 1115.5h3V1134h-3z"/>
<path d="M1209 1093.5h3V1134h-3z"/>
<path d="M1210 1120h3V1134h-3z"/>
<path d="M1211 1106.5h3V1134h-3z"/>
<path d="M1212 1102h3V1134h-3z"/>
<path d="M1213 1111h2V1134h-2z"/>
<path d="M1213 1111h3V1134h-3z"/>
<path d="M1214 1093.5h3V1134h-3z"/>
<path d="M1215 1106.5h3V1134h-3z"/>
<path d="M1216 1120h3V1134h-3z"/>
<path d="M1217 1102h3V1134h-3z"/>
<path d="M1217 1111h3V1134h-3z"/>
<path d="M1218 1098h3V1134h-3z"/>
<path d="M1219 1080h3V1134h-3z"/>
<path d="M1220 1098h3V1134h-3z"/>
<path d="M1221 1111h3V1134h-3z"/>
<path d="M1222 1102h3V1134h-3z"/>
<path d="M1222 1098h3V1134h-3z"/>
<path d="M1223 1093.5h3V1134h-3z"/>
<path d="M1224 1102h3V1134h-3z"/>
<path d="M1225 1111h3V1134h-3z"/>
<path d="M1226 1102h3V1134h-3z"/>
<path d="M1227 1111h2V1134h-2z"/>
<path d="M1227 1089h3V1134h-3z"/>
<path d="M1228 1115.5h3V1134h-3z"/>
<path d="M1230 1098h3V1134h-3z"/>
<path d="M1231 1093.5h3V1134h-3z"/>
<path d="M1231 1089h3V1134h-3z"/>
<path d="M1232 1115.5h3V1134h-3z"/>
<path d="M1233 1098h3V1134h-3z"/>
<path d="M1234 1115.5h3V1134h-3z"/>
<path d="M1235 1115.5h3V1134h-3z"/>
<path d="M1236 1106.5h3V1134h-3z"/>
<path d="M1236 1098h3V1134h-3z"/>
<path d="M1237 1115.5h3V1134h-3z"/>
<path d="M1238 1093.5h3V1134h-3z"/>
<path d="M1239 1115.5h3V1134h-3z"/>
<path d="M1240 1093.5h3V1134h-3z"/>
<path d="M1241 1102h2V1134h-2z"/>
<path d="M1241 1111h3V1134h-3z"/>
<path d="M1242 1102h3V1134h-3z"/>
<path d="M1243 1106.5h3V1134h-3z"/>
<path d="M1244 1115.5h3V1134h-3z"/>
<path d="M1245 1111h3V1134h-3z"/>
<path d="M1246 1071h2V1134h-2z"/>
<path d="M1246 1115.5h3V1134h-3z"/>
<path d="M1247 1115.5h3V1134h-3z"/>
<path d="M1248 1124.5h3V1134h-3z"/>
<path d="M1249 1106.5h3V1134h-3z"/>
<path d="M1250 1102h3V1134h-3z"/>
<path d="M1250 1102h3V1134h-3z"/>
<path d="M1251 1115.5h3V1134h-3z"/>
<path d="M1252 1115.5h3V1134h-3z"/>
<path d="M1253 1106.5h3V1134h-3z"/>
<path d="M1254 1115.5h3V1134h-3z"/>
<path d="M1255 1084.5h2V1134h-2z"/>
<path d="M1255 1115.5h3V1134h-3z"/>
<path d="M1256 1093.5h3V1134h-3z"/>
<path d="M1257 1111h3V1134h-3z"/>
<path d="M1258 1093.5h3V1134h-3z"/>
<path d="M1259 1102h3V1134h-3z"/>
<path d="M1260 1115.5h2V1134h-2z"/>
<path d="M1260 1120h3V1134h-3z"/>
<path d="M1261 1111h3V1134h-3z"/>
<path d="M1262 1102h3V1134h-3z"/>
<path d="M1263 1111h3V1134h-3z"/>
<path d="M1264 1111h3V1134h-3z"/>
<path d="M1264 1102h3V1134h-3z"/>
<path d="M1265 1115.5h3V1134h-3z"/>
<path d="M1266 1111h3V1134h-3z"/>
<path d="M1267 1124.5h3V1134h-3z"/>
<path d="M1268 1115.5h3V1134h-3z"/>
<path d="M1269 1111h2V1134h-2z"/>
<path d="M1269 1093.5h3V1134h-3z"/>
<path d="M1270 1111h3V1134h-3z"/>
<path d="M1271 1102h3V1134h-3z"/>
<path d="M1272 1106.5h3V1134h-3z"/>
<path d="M1273 1102h3V1134h-3z"/>
<path d="M1274 1106.5h2V1134h-2z"/>
<path d="M1274 1102h3V1134h-3z"/>
<path d="M1275 1102h3V1134h-3z"/>
<path d="M1276 1120h3V1134h-3z"/>
<path d="M1277 1115.5h3V1134h-3z"/>
<path d="M1278 1115.5h3V1134h-3z"/>
<path d="M1278 1106.5h3V1134h-3z"/>
<path d="M1279 1120h3V1134h-3z"/>
<path d="M1280 1111h3V1134h-3z"/>
<path d="M1281 1111h3V1134h-3z"/>
<path d="M1282 1106.5h3V1134h-3z"/>
<path d="M1283 1106.5h3V1134h-3z"/>
<path d="M1283 1102h3V1134h-3z"/>
<path d="M1284 1120h3V1134h-3z"/>
<path d="M1285 1120h3V1134h-3z"/>
<path d="M1286 1106.5h3V1134h-3z"/>
<path d="M1287 1111h3V1134h-3z"/>
<path d="M1288 1111h2V1134h-2z"/>
<path d="M1288 1098h3V1134h-3z"/>
<path d="M1289 1111h3V1134h-3z"/>
<path d="M1290 1102h3V1134h-3z"/>
<path d="M1291 1120h3V1134h-3z"/>
<path d="M1292 1124.5h3V1134h-3z"/>
<path d="M1292 1106.5h3V1134h-3z"/>
<path d="M1293 1106.5h3V1134h-3z"/>
<path d="M1294 1106.5h3V1134h-3z"/>
<path d="M1295 1120h3V1134h-3z"/>
<path d="M1296 1089h3V1134h-3z"/>
<path d="M1297 1124.5h3V1134h-3z"/>
<path d="M1297 1111h3V1134h-3z"/>
<path d="M1298 1115.5h3V1134h-3z"/>
<path d="M1299 1111h3V1134h-3z"/>
<path d="M1300 1102h3V1134h-3z"/>
<path d="M1301 1106.5h3V1134h-3z"/>
<path d="M1302 1098h2V1134h-2z"/>
<path d="M1302 1098h3V1134h-3z"/>
<path d="M1303 1124.5h3V1134h-3z"/>
<path d="M1304 1102h3V1134h-3z"/>
<path d="M1305 1120h3V1134h-3z"/>
<path d="M1306 1115.5h3V1134h-3z"/>
<path d="M1307 1102h2V1134h-2z"/>
<path d="M1307 1093.5h3V1134h-3z"/>
<path d="M1308 1102h3V1134h-3z"/>
<path d="M1309 1120h3V1134h-3z"/>
<path d="M1310 1111h3V1134h-3z"/>
<path d="M1311 1120h3V1134h-3z"/>
<path d="M1311 1120h3V1134h-3z"/>
<path d="M1312 1115.5h3V1134h-3z"/>
<path d="M1313 1120h3V1134h-3z"/>
<path d="M1314 1106.5h3V1134h-3z"/>
<path d="M1315 1093.5h3V1134h-3z"/>
<path d="M1316 1093.5h2V1134h-2z"/>
<path d="M1316 1098h3V1134h-3z"/>
<path d="M1317 1102h3V1134h-3z"/>
<path d="M1318 1115.5h3V1134h-3z"/>
<path d="M1319 1111h3V1134h-3z"/>
<path d="M1320 1106.5h3V1134h-3z"/>
<path d="M1321 1089h2V1134h-2z"/>
<path d="M1321 1106.5h3V1134h-3z"/>
<path d="M1322 1098h3V1134h-3z"/>
<path d="M1323 1098h3V1134h-3z"/>
<path d="M1324 1120h3V1134h-3z"/>
<path d="M1325 1102h3V1134h-3z"/>
<path d="M1325 1120h3V1134h-3z"/>
<path d="M1326 1111h3V1134h-3z"/>
<path d="M1327 1111h3V1134h-3z"/>
<path d="M1328 1124.5h3V1134h-3z"/>
<path d="M1329 1102h3V1134h-3z"/>
<path d="M1330 1115.5h2V1134h-2z"/>
<path d="M1330 1111h3V1134h-3z"/>
<path d="M1331 1120h3V1134h-3z"/>
<path d="M1332 1115.5h3V1134h-3z"/>
<path d="M1333 1102h3V1134h-3z"/>
<path d="M1334 1102h3V1134h-3z"/>
<path d="M1335 1111h2V1134h-2z"/>
<path d="M1335 1124.5h3V1134h-3z"/>
<path d="M1336 1089h3V1134h-3z"/>
<path d="M1337 1102h3V1134h-3z"/>
<path d="M1338 1115.5h3V1134h-3z"/>
<path d="M1339 1115.5h3V1134h-3z"/>
<path d="M1339 1102h3V1134h-3z"/>
<path d="M1340 1106.5h3V1134h-3z"/>
<path d="M1341 1106.5h3V1134h-3z"/>
<path d="M1342 1120h3V1134h-3z"/>
<path d="M1343 1106.5h3V1134h-3z"/>
<path d="M1344 1115.5h3V1134h-3z"/>
<path d="M1344 1111h3V1134h-3z"/>
<path d="M1345 1111h3V1134h-3z"/>
<path d="M1346 1111h3V1134h-3z"/>
<path d="M1347 1124.5h3V1134h-3z"/>
<path d="M1348 1115.5h3V1134h-3z"/>
<path d="M1349 1089h2V1134h-2z"/>
<path d="M1349 1111h3V1134h-3z"/>
<path d="M1350 1102h3V1134h-3z"/>
<path d="M1351 1106.5h3V1134h-3z"/>
<path d="M1352 1111h3V1134h-3z"/>
<path d="M1353 1120h3V1134h-3z"/>
<path d="M1354 1098h2V1134h-2z"/>
<path d="M1354 1098h3V1134h-3z"/>
<path d="M1355 1111h3V1134h-3z"/>
<path d="M1356 1111h3V1134h-3z"/>
<path d="M1357 1115.5h3V1134h-3z"/>
<path d="M1358 1106.5h3V1134h-3z"/>
<path d="M1358 1111h3V1134h-3z"/>
<path d="M1360 1106.5h3V1134h-3z"/>
<path d="M1361 1089h3V1134h-3z"/>
<path d="M1362 1106.5h3V1134h-3z"/>
<path d="M1363 1120h2V1134h-2z"/>
<path d="M1363 1106.5h3V1134h-3z"/>
<path d="M1364 1124.5h3V1134h-3z"/>
<path d="M1365 1111h3V1134h-3z"/>
<path d="M1366 1120h3V1134h-3z"/>
<path d="M1367 1120h3V1134h-3z"/>
<path d="M1368 1106.5h2V1134h-2z"/>
<path d="M1368 1102h3V1134h-3z"/>
<path d="M1369 1102h3V1134h-3z"/>
<path d="M1370 1115.5h3V1134h-3z"/>
<path d="M1371 1098h3V1134h-3z"/>
<path d="M1372 1089h3V1134h-3z"/>
<path d="M1372 1111h3V1134h-3z"/>
<path d="M1373 1111h3V1134h-3z"/>
<path d="M1374 1111h3V1134h-3z"/>
<path d="M1375 1115.5h3V1134h-3z"/>
<path d="M1376 1111h3V1134h-3z"/>
<path d="M1377 1111h2V1134h-2z"/>
<path d="M1377 1115.5h3V1134h-3z"/>
<path d="M1378 1120h3V1134h-3z"/>
<path d="M1379 1106.5h3V1134h-3z"/>
<path d="M1380 1120h3V1134h-3z"/>
<path d="M1381 1120h3V1134h-3z"/>
<path d="M1382 1106.5h2V1134h-2z"/>
<path d="M1382 1120h3V1134h-3z"/>
<path d="M1383 1102h3V1134h-3z"/>
<path d="M1384 1120h3V1134h-3z"/>
<path d="M1385 1106.5h3V1134h-3z"/>
<path d="M1386 1098h3V1134h-3z"/>
<path d="M1386 1093.5h3V1134h-3z"/>
<path d="M1387 1120h3V1134h-3z"/>
<path d="M1388 1115.5h3V1134h-3z"/>
<path d="M1389 1102h3V1134h-3z"/>
<path d="M1390 1115.5h3V1134h-3z"/>
<path d="M1391 1111h3V1134h-3z"/>
<path d="M1391 1115.5h3V1134h-3z"/>
<path d="M1392 1102h3V1134h-3z"/>
<path d="M1393 1093.5h3V1134h-3z"/>
<path d="M1394 1115.5h3V1134h-3z"/>
<path d="M1395 1093.5h3V1134h-3z"/>
<path d="M1396 1115.5h2V1134h-2z"/>
<path d="M1396 1115.5h3V1134h-3z"/>
<path d="M1397 1111h3V1134h-3z"/>
<path d="M1398 1124.5h3V1134h-3z"/>
<path d="M1399 1102h3V1134h-3z"/>
<path d="M1400 1089h3V1134h-3z"/>
<path d="M1400 1115.5h3V1134h-3z"/>
<path d="M1401 1120h3V1134h-3z"/>
<path d="M1402 1111h3V1134h-3z"/>
<path d="M1403 1102h3V1134h-3z"/>
<path d="M1404 1106.5h3V1134h-3z"/>
<path d="M1405 1111h3V1134h-3z"/>
<path d="M1405 1093.5h3V1134h-3z"/>
<path d="M1406 1102h3V1134h-3z"/>
<path d="M1407 1111h3V1134h-3z"/>
<path d="M1408 1115.5h3V1134h-3z"/>
<path d="M1409 1102h3V1134h-3z"/>
<path d="M1410 1111h2V1134h-2z"/>
<path d="M1410 1111h3V1134h-3z"/>
<path d="M1411 1111h3V1134h-3z"/>
<path d="M1412 1120h3V1134h-3z"/>
<path d="M1413 1106.5h3V1134h-3z"/>
<path d="M1414 1115.5h3V1134h-3z"/>
<path d="M1415 1120h2V1134h-2z"/>
<path d="M1415 1124.5h3V1134h-3z"/>
<path d="M1416 1124.5h3V1134h-3z"/>
<path d="M1417 1120h3V1134h-3z"/>
<path d="M1418 1102h3V1134h-3z"/>
<path d="M1419 1106.5h3V1134h-3z"/>
<path d="M1419 1106.5h3V1134h-3z"/>
<path d="M1420 1106.5h3V1134h-3z"/>
<path d="M1421 1120h3V1134h-3z"/>
<path d="M1422 1115.5h3V1134h-3z"/>
<path d="M1423 1071h3V1134h-3z"/>
<path d="M1424 1115.5h2V1134h-2z"/>
<path d="M1424 1120h3V1134h-3z"/>
<path d="M1425 1106.5h3V1134h-3z"/>
<path d="M1426 1124.5h3V1134h-3z"/>
<path d="M1427 1124.5h3V1134h-3z"/>
<path d="M1428 1111h3V1134h-3z"/>
<path d="M1429 1124.5h2V1134h-2z"/>
<path d="M1429 1102h3V1134h-3z"/>
<path d="M1430 1093.5h3V1134h-3z"/>
<path d="M1431 1124.5h3V1134h-3z"/>
<path d="M1432 1115.5h3V1134h-3z"/>
<path d="M1433 1120h3V1134h-3z"/>
<path d="M1433 1124.5h3V1134h-3z"/>
<path d="M1434 1115.5h3V1134h-3z"/>
<path d="M1435 1124.5h3V1134h-3z"/>
<path d="M1436 1102h3V1134h-3z"/>
<path d="M1437 1120h3V1134h-3z"/>
<path d="M1438 1106.5h2V1134h-2z"/>
<path d="M1438 1106.5h3V1134h-3z"/>
<path d="M1439 1124.5h3V1134h-3z"/>
<path d="M1440 1115.5h3V1134h-3z"/>
<path d="M1441 1102h3V1134h-3z"/>
<path d="M1442 1098h3V1134h-3z"/>
<path d="M1443 1098h2V1134h-2z"/>
<path d="M1443 1115.5h3V1134h-3z"/>
<path d="M1444 1115.5h3V1134h-3z"/>
<path d="M1445 1124.5h3V1134h-3z"/>
<path d="M1446 1106.5h3V1134h-3z"/>
<path d="M1447 1124.5h3V1134h-3z"/>
<path d="M1447 1120h3V1134h-3z"/>
<path d="M1448 1098h3V1134h-3z"/>
<path d="M1449 1115.5h3V1134h-3z"/>
<path d="M1450 1106.5h3V1134h-3z"/>
<path d="M1451 1106.5h3V1134h-3z"/>
<path d="M1452 1106.5h3V1134h-3z"/>
<path d="M1452 1106.5h3V1134h-3z"/>
<path d="M1453 1120h3V1134h-3z"/>
<path d="M1454 1120h3V1134h-3z"/>
<path d="M1455 1111h3V1134h-3z"/>
<path d="M1456 1111h3V1134h-3z"/>
<path d="M1457 1106.5h3V1134h-3z"/>
<path d="M1458 1124.5h3V1134h-3z"/>
<path d="M1459 1120h3V1134h-3z"/>
<path d="M1460 1111h3V1134h-3z"/>
<path d="M1461 1115.5h3V1134h-3z"/>
<path d="M1461 1124.5h3V1134h-3z"/>
<path d="M1462 1102h3V1134h-3z"/>
<path d="M1463 1111h3V1134h-3z"/>
<path d="M1464 1120h3V1134h-3z"/>
<path d="M1465 1111h3V1134h-3z"/>
<path d="M1466 1115.5h3V1134h-3z"/>
<path d="M1466 1111h3V1134h-3z"/>
<path d="M1467 1111h3V1134h-3z"/>
<path d="M1468 1120h3V1134h-3z"/>
<path d="M1469 1111h3V1134h-3z"/>
<path d="M1470 1120h3V1134h-3z"/>
<path d="M1471 1115.5h2V1134h-2z"/>
<path d="M1471 1102h3V1134h-3z"/>
<path d="M1472 1124.5h3V1134h-3z"/>
<path d="M1473 1115.5h3V1134h-3z"/>
<path d="M1474 1106.5h3V1134h-3z"/>
<path d="M1475 1098h3V1134h-3z"/>
<path d="M1476 1111h3V1134h-3z"/>
<path d="M1477 1106.5h3V1134h-3z"/>
<path d="M1478 1115.5h3V1134h-3z"/>
<path d="M1479 1120h3V1134h-3z"/>
<path d="M1480 1115.5h3V1134h-3z"/>
<path d="M1480 1120h3V1134h-3z"/>
<path d="M1481 1120h3V1134h-3z"/>
<path d="M1482 1124.5h3V1134h-3z"/>
<path d="M1483 1120h3V1134h-3z"/>
<path d="M1484 1124.5h3V1134h-3z"/>
<path d="M1485 1115.5h2V1134h-2z"/>
<path d="M1485 1115.5h3V1134h-3z"/>
<path d="M1486 1124.5h3V1134h-3z"/>
<path d="M1487 1120h3V1134h-3z"/>
<path d="M1488 1111h3V1134h-3z"/>
<path d="M1489 1124.5h3V1134h-3z"/>
<path d="M1490 1102h2V1134h-2z"/>
<path d="M1491 1124.5h3V1134h-3z"/>
<path d="M1492 1115.5h3V1134h-3z"/>
<path d="M1493 1120h3V1134h-3z"/>
</g><g fill="#4ccae4" fill-opacity="0.3">
<path d="M176 1125.5h1V1134h-1z"/>
<path d="M178 1121h1V1134h-1z"/>
<path d="M179 1121h1V1134h-1z"/>
<path d="M180 1121h1V1134h-1z"/>
<path d="M181 1116.5h1V1134h-1z"/>
<path d="M181 1116.5h1V1134h-1z"/>
<path d="M182 1112h1V1134h-1z"/>
<path d="M183 1090h1V1134h-1z"/>
<path d="M184 1107.5h1V1134h-1z"/>
<path d="M185 1099h1V1134h-1z"/>
<path d="M186 1103h1V1134h-1z"/>
<path d="M186 1094.5h1V1134h-1z"/>
<path d="M187 1099h1V1134h-1z"/>
<path d="M188 1094.5h1V1134h-1z"/>
<path d="M189 1099h1V1134h-1z"/>
<path d="M190 1107.5h1V1134h-1z"/>
<path d="M190 1099h1V1134h-1z"/>
<path d="M191 1076.5h1V1134h-1z"/>
<path d="M192 1081h1V1134h-1z"/>
<path d="M193 1099h1V1134h-1z"/>
<path d="M194 1103h1V1134h-1z"/>
<path d="M195 1072h1V1134h-1z"/>
<path d="M195 1045.5h1V1134h-1z"/>
<path d="M196 1103h1V1134h-1z"/>
<path d="M197 1099h1V1134h-1z"/>
<path d="M198 1063h1V1134h-1z"/>
<path d="M199 1081h1V1134h-1z"/>
<path d="M200 1103h1V1134h-1z"/>
<path d="M200 1054.5h1V1134h-1z"/>
<path d="M201 1085.5h1V1134h-1z"/>
<path d="M202 1054.5h1V1134h-1z"/>
<path d="M203 1072h1V1134h-1z"/>
<path d="M204 1067.5h1V1134h-1z"/>
<path d="M204 1001h1V1134h-1z"/>
<path d="M205 1058.5h1V1134h-1z"/>
<path d="M206 1054.5h1V1134h-1z"/>
<path d="M207 1063h1V1134h-1z"/>
<path d="M208 1054.5h1V1134h-1z"/>
<path d="M209 1063h1V1134h-1z"/>
<path d="M209 1050h1V1134h-1z"/>
<path d="M210 1032h1V1134h-1z"/>
<path d="M211 1050h1V1134h-1z"/>
<path d="M212 1001h1V1134h-1z"/>
<path d="M213 1018.5h1V1134h-1z"/>
<path d="M214 1027.5h1V1134h-1z"/>
<path d="M214 1018.5h1V1134h-1z"/>
<path d="M215 1032h1V1134h-1z"/>
<path d="M216 1010h1V1134h-1z"/>
<path d="M217 1054.5h1V1134h-1z"/>
<path d="M218 1027.5h1V1134h-1z"/>
<path d="M218 1045.5h1V1134h-1z"/>
<path d="M219 1018.5h1V1134h-1z"/>
<path d="M220 1014h1V1134h-1z"/>
<path d="M221 996.5h1V1134h-1z"/>
<path d="M222 1018.5h1V1134h-1z"/>
<path d="M223 1054.5h1V1134h-1z"/>
<path d="M223 1018.5h1V1134h-1z"/>
<path d="M224 1050h1V1134h-1z"/>
<path d="M225 1018.5h1V1134h-1z"/>
<path d="M226 1045.5h1V1134h-1z"/>
<path d="M227 1005.5h1V1134h-1z"/>
<path d="M228 1023h1V1134h-1z"/>
<path d="M228 1014h1V1134h-1z"/>
<path d="M229 996.5h1V1134h-1z"/>
<path d="M230 1005.5h1V1134h-1z"/>
<path d="M231 992h1V1134h-1z"/>
<path d="M232 956.5h1V1134h-1z"/>
<path d="M233 978.5h1V1134h-1z"/>
<path d="M233 1001h1V1134h-1z"/>
<path d="M234 1032h1V1134h-1z"/>
<path d="M235 978.5h1V1134h-1z"/>
<path d="M236 996.5h1V1134h-1z"/>
<path d="M237 969.5h1V1134h-1z"/>
<path d="M237 978.5h1V1134h-1z"/>
<path d="M238 969.5h1V1134h-1z"/>
<path d="M239 943h1V1134h-1z"/>
<path d="M240 969.5h1V1134h-1z"/>
<path d="M241 872h1V1134h-1z"/>
<path d="M242 983h1V1134h-1z"/>
<path d="M242 974h1V1134h-1z"/>
<path d="M243 934h1V1134h-1z"/>
<path d="M244 925h1V1134h-1z"/>
<path d="M245 938.5h1V1134h-1z"/>
<path d="M246 956.5h1V1134h-1z"/>
<path d="M247 912h1V1134h-1z"/>
<path d="M247 898.5h1V1134h-1z"/>
<path d="M248 956.5h1V1134h-1z"/>
<path d="M249 952h1V1134h-1z"/>
<path d="M250 992h1V1134h-1z"/>
<path d="M251 929.5h1V1134h-1z"/>
<path d="M251 961h1V1134h-1z"/>
<path d="M252 943h1V1134h-1z"/>
<path d="M253 889.5h1V1134h-1z"/>
<path d="M254 969.5h1V1134h-1z"/>
<path d="M255 934h1V1134h-1z"/>
<path d="M256 938.5h1V1134h-1z"/>
<path d="M256 996.5h1V1134h-1z"/>
<path d="M257 956.5h1V1134h-1z"/>
<path d="M258 934h1V1134h-1z"/>
<path d="M259 974h1V1134h-1z"/>
<path d="M260 916.5h1V1134h-1z"/>
<path d="M261 921h1V1134h-1z"/>
<path d="M261 876.5h1V1134h-1z"/>
<path d="M262 885h1V1134h-1z"/>
<path d="M263 876.5h1V1134h-1z"/>
<path d="M264 912h1V1134h-1z"/>
<path d="M265 867.5h1V1134h-1z"/>
<path d="M265 863h1V1134h-1z"/>
<path d="M266 876.5h1V1134h-1z"/>
<path d="M267 836h1V1134h-1z"/>
<path d="M268 929.5h1V1134h-1z"/>
<path d="M269 916.5h1V1134h-1z"/>
<path d="M270 849.5h1V1134h-1z"/>
<path d="M270 907.5h1V1134h-1z"/>
<path d="M271 952h1V1134h-1z"/>
<path d="M272 885h1V1134h-1z"/>
<path d="M273 898.5h1V1134h-1z"/>
<path d="M274 818.5h1V1134h-1z"/>
<path d="M275 885h1V1134h-1z"/>
<path d="M275 872h1V1134h-1z"/>
<path d="M276 867.5h1V1134h-1z"/>
<path d="M277 907.5h1V1134h-1z"/>
<path d="M278 872h1V1134h-1z"/>
<path d="M279 903h1V1134h-1z"/>
<path d="M280 836h1V1134h-1z"/>
<path d="M280 907.5h1V1134h-1z"/>
<path d="M281 809.5h1V1134h-1z"/>
<path d="M282 849.5h1V1134h-1z"/>
<path d="M283 885h1V1134h-1z"/>
<path d="M284 836h1V1134h-1z"/>
<path d="M284 840.5h1V1134h-1z"/>
<path d="M285 889.5h1V1134h-1z"/>
<path d="M286 885h1V1134h-1z"/>
<path d="M287 845h1V1134h-1z"/>
<path d="M288 863h1V1134h-1z"/>
<path d="M289 836h1V1134h-1z"/>
<path d="M289 849.5h1V1134h-1z"/>
<path d="M290 836h1V1134h-1z"/>
<path d="M291 809.5h1V1134h-1z"/>
<path d="M292 796h1V1134h-1z"/>
<path d="M293 845h1V1134h-1z"/>
<path d="M294 832h1V1134h-1z"/>
<path d="M294 827.5h1V1134h-1z"/>
<path d="M295 818.5h1V1134h-1z"/>
<path d="M296 787.5h1V1134h-1z"/>
<path d="M297 783h1V1134h-1z"/>
<path d="M298 880.5h1V1134h-1z"/>
<path d="M298 867.5h1V1134h-1z"/>
<path d="M299 858.5h1V1134h-1z"/>
<path d="M300 778.5h1V1134h-1z"/>
<path d="M301 791.5h1V1134h-1z"/>
<path d="M302 840.5h1V1134h-1z"/>
<path d="M303 747h1V1134h-1z"/>
<path d="M303 849.5h1V1134h-1z"/>
<path d="M304 836h1V1134h-1z"/>
<path d="M305 809.5h1V1134h-1z"/>
<path d="M306 849.5h1V1134h-1z"/>
<path d="M307 823h1V1134h-1z"/>
<path d="M308 809.5h1V1134h-1z"/>
<path d="M308 818.5h1V1134h-1z"/>
<path d="M309 800.5h1V1134h-1z"/>
<path d="M310 823h1V1134h-1z"/>
<path d="M311 818.5h1V1134h-1z"/>
<path d="M312 836h1V1134h-1z"/>
<path d="M312 832h1V1134h-1z"/>
<path d="M313 760.5h1V1134h-1z"/>
<path d="M314 787.5h1V1134h-1z"/>
<path d="M315 867.5h1V1134h-1z"/>
<path d="M316 791.5h1V1134h-1z"/>
<path d="M317 769.5h1V1134h-1z"/>
<path d="M317 787.5h1V1134h-1z"/>
<path d="M318 787.5h1V1134h-1z"/>
<path d="M319 832h1V1134h-1z"/>
<path d="M320 787.5h1V1134h-1z"/>
<path d="M321 805h1V1134h-1z"/>
<path d="M322 774h1V1134h-1z"/>
<path d="M322 885h1V1134h-1z"/>
<path d="M323 823h1V1134h-1z"/>
<path d="M324 747h1V1134h-1z"/>
<path d="M325 756h1V1134h-1z"/>
<path d="M326 734h1V1134h-1z"/>
<path d="M326 818.5h1V1134h-1z"/>
<path d="M327 765h1V1134h-1z"/>
<path d="M328 854h1V1134h-1z"/>
<path d="M329 796h1V1134h-1z"/>
<path d="M330 738.5h1V1134h-1z"/>
<path d="M331 729.5h1V1134h-1z"/>
<path d="M331 747h1V1134h-1z"/>
<path d="M332 743h1V1134h-1z"/>
<path d="M333 743h1V1134h-1z"/>
<path d="M334 809.5h1V1134h-1z"/>
<path d="M335 809.5h1V1134h-1z"/>
<path d="M336 814h1V1134h-1z"/>
<path d="M336 729.5h1V1134h-1z"/>
<path d="M337 827.5h1V1134h-1z"/>
<path d="M338 787.5h1V1134h-1z"/>
<path d="M339 702.5h1V1134h-1z"/>
<path d="M340 765h1V1134h-1z"/>
<path d="M341 791.5h1V1134h-1z"/>
<path d="M341 729.5h1V1134h-1z"/>
<path d="M342 645h1V1134h-1z"/>
<path d="M343 774h1V1134h-1z"/>
<path d="M344 765h1V1134h-1z"/>
<path d="M345 765h1V1134h-1z"/>
<path d="M345 676h1V1134h-1z"/>
<path d="M346 778.5h1V1134h-1z"/>
<path d="M347 756h1V1134h-1z"/>
<path d="M348 791.5h1V1134h-1z"/>
<path d="M349 760.5h1V1134h-1z"/>
<path d="M350 685h1V1134h-1z"/>
<path d="M350 832h1V1134h-1z"/>
<path d="M351 707h1V1134h-1z"/>
<path d="M352 734h1V1134h-1z"/>
<path d="M353 671.5h1V1134h-1z"/>
<path d="M354 774h1V1134h-1z"/>
<path d="M355 720.5h1V1134h-1z"/>
<path d="M355 738.5h1V1134h-1z"/>
<path d="M356 716h1V1134h-1z"/>
<path d="M357 765h1V1134h-1z"/>
<path d="M358 667h1V1134h-1z"/>
<path d="M359 676h1V1134h-1z"/>
<path d="M359 662.5h1V1134h-1z"/>
<path d="M360 698.5h1V1134h-1z"/>
<path d="M361 738.5h1V1134h-1z"/>
<path d="M362 702.5h1V1134h-1z"/>
<path d="M363 769.5h1V1134h-1z"/>
<path d="M364 751.5h1V1134h-1z"/>
<path d="M364 729.5h1V1134h-1z"/>
<path d="M365 671.5h1V1134h-1z"/>
<path d="M366 707h1V1134h-1z"/>
<path d="M367 738.5h1V1134h-1z"/>
<path d="M368 711.5h1V1134h-1z"/>
<path d="M369 707h1V1134h-1z"/>
<path d="M369 654h1V1134h-1z"/>
<path d="M370 760.5h1V1134h-1z"/>
<path d="M371 680.5h1V1134h-1z"/>
<path d="M372 756h1V1134h-1z"/>
<path d="M373 680.5h1V1134h-1z"/>
<path d="M373 774h1V1134h-1z"/>
<path d="M374 765h1V1134h-1z"/>
<path d="M375 814h1V1134h-1z"/>
<path d="M376 689.5h1V1134h-1z"/>
<path d="M377 618h1V1134h-1z"/>
<path d="M378 613.5h1V1134h-1z"/>
<path d="M378 747h1V1134h-1z"/>
<path d="M379 738.5h1V1134h-1z"/>
<path d="M380 725h1V1134h-1z"/>
<path d="M381 645h1V1134h-1z"/>
<path d="M382 778.5h1V1134h-1z"/>
<path d="M383 591.5h1V1134h-1z"/>
<path d="M383 769.5h1V1134h-1z"/>
<path d="M384 645h1V1134h-1z"/>
<path d="M385 751.5h1V1134h-1z"/>
<path d="M386 658h1V1134h-1z"/>
<path d="M387 760.5h1V1134h-1z"/>
<path d="M387 791.5h1V1134h-1z"/>
<path d="M388 783h1V1134h-1z"/>
<path d="M389 729.5h1V1134h-1z"/>
<path d="M390 685h1V1134h-1z"/>
<path d="M391 627h1V1134h-1z"/>
<path d="M392 645h1V1134h-1z"/>
<path d="M392 698.5h1V1134h-1z"/>
<path d="M393 676h1V1134h-1z"/>
<path d="M394 578h1V1134h-1z"/>
<path d="M395 618h1V1134h-1z"/>
<path d="M396 662.5h1V1134h-1z"/>
<path d="M397 622.5h1V1134h-1z"/>
<path d="M397 738.5h1V1134h-1z"/>
<path d="M398 578h1V1134h-1z"/>
<path d="M399 796h1V1134h-1z"/>
<path d="M400 640.5h1V1134h-1z"/>
<path d="M401 654h1V1134h-1z"/>
<path d="M402 765h1V1134h-1z"/>
<path d="M402 796h1V1134h-1z"/>
<path d="M403 667h1V1134h-1z"/>
<path d="M404 760.5h1V1134h-1z"/>
<path d="M405 747h1V1134h-1z"/>
<path d="M406 702.5h1V1134h-1z"/>
<path d="M406 671.5h1V1134h-1z"/>
<path d="M407 671.5h1V1134h-1z"/>
<path d="M408 716h1V1134h-1z"/>
<path d="M409 760.5h1V1134h-1z"/>
<path d="M410 636h1V1134h-1z"/>
<path d="M411 654h1V1134h-1z"/>
<path d="M411 654h1V1134h-1z"/>
<path d="M412 734h1V1134h-1z"/>
<path d="M413 685h1V1134h-1z"/>
<path d="M414 636h1V1134h-1z"/>
<path d="M415 658h1V1134h-1z"/>
<path d="M416 600.5h1V1134h-1z"/>
<path d="M416 662.5h1V1134h-1z"/>
<path d="M417 613.5h1V1134h-1z"/>
<path d="M418 556h1V1134h-1z"/>
<path d="M419 671.5h1V1134h-1z"/>
<path d="M420 613.5h1V1134h-1z"/>
<path d="M420 671.5h1V1134h-1z"/>
<path d="M421 654h1V1134h-1z"/>
<path d="M422 685h1V1134h-1z"/>
<path d="M423 636h1V1134h-1z"/>
<path d="M424 725h1V1134h-1z"/>
<path d="M425 702.5h1V1134h-1z"/>
<path d="M425 654h1V1134h-1z"/>
<path d="M426 658h1V1134h-1z"/>
<path d="M427 640.5h1V1134h-1z"/>
<path d="M428 685h1V1134h-1z"/>
<path d="M429 658h1V1134h-1z"/>
<path d="M430 645h1V1134h-1z"/>
<path d="M430 685h1V1134h-1z"/>
<path d="M431 676h1V1134h-1z"/>
<path d="M432 636h1V1134h-1z"/>
<path d="M433 711.5h1V1134h-1z"/>
<path d="M434 689.5h1V1134h-1z"/>
<path d="M434 605h1V1134h-1z"/>
<path d="M435 618h1V1134h-1z"/>
<path d="M436 694h1V1134h-1z"/>
<path d="M437 729.5h1V1134h-1z"/>
<path d="M438 573.5h1V1134h-1z"/>
<path d="M439 796h1V1134h-1z"/>
<path d="M439 636h1V1134h-1z"/>
<path d="M440 596h1V1134h-1z"/>
<path d="M441 720.5h1V1134h-1z"/>
<path d="M442 600.5h1V1134h-1z"/>
<path d="M443 680.5h1V1134h-1z"/>
<path d="M444 680.5h1V1134h-1z"/>
<path d="M444 622.5h1V1134h-1z"/>
<path d="M445 698.5h1V1134h-1z"/>
<path d="M446 658h1V1134h-1z"/>
<path d="M447 680.5h1V1134h-1z"/>
<path d="M448 529h1V1134h-1z"/>
<path d="M448 520.5h1V1134h-1z"/>
<path d="M449 658h1V1134h-1z"/>
<path d="M450 698.5h1V1134h-1z"/>
<path d="M451 565h1V1134h-1z"/>
<path d="M452 725h1V1134h-1z"/>
<path d="M453 645h1V1134h-1z"/>
<path d="M453 609.5h1V1134h-1z"/>
<path d="M454 702.5h1V1134h-1z"/>
<path d="M455 636h1V1134h-1z"/>
<path d="M456 658h1V1134h-1z"/>
<path d="M457 636h1V1134h-1z"/>
<path d="M458 645h1V1134h-1z"/>
<path d="M458 662.5h1V1134h-1z"/>
<path d="M459 618h1V1134h-1z"/>
<path d="M460 587h1V1134h-1z"/>
<path d="M461 600.5h1V1134h-1z"/>
<path d="M462 694h1V1134h-1z"/>
<path d="M463 680.5h1V1134h-1z"/>
<path d="M463 729.5h1V1134h-1z"/>
<path d="M464 596h1V1134h-1z"/>
<path d="M465 636h1V1134h-1z"/>
<path d="M466 689.5h1V1134h-1z"/>
<path d="M467 685h1V1134h-1z"/>
<path d="M467 613.5h1V1134h-1z"/>
<path d="M468 649.5h1V1134h-1z"/>
<path d="M469 725h1V1134h-1z"/>
<path d="M470 685h1V1134h-1z"/>
<path d="M471 734h1V1134h-1z"/>
<path d="M472 716h1V1134h-1z"/>
<path d="M472 734h1V1134h-1z"/>
<path d="M473 734h1V1134h-1z"/>
<path d="M474 573.5h1V1134h-1z"/>
<path d="M475 662.5h1V1134h-1z"/>
<path d="M476 618h1V1134h-1z"/>
<path d="M477 605h1V1134h-1z"/>
<path d="M477 609.5h1V1134h-1z"/>
<path d="M478 685h1V1134h-1z"/>
<path d="M479 582.5h1V1134h-1z"/>
<path d="M480 551.5h1V1134h-1z"/>
<path d="M481 645h1V1134h-1z"/>
<path d="M481 627h1V1134h-1z"/>
<path d="M482 671.5h1V1134h-1z"/>
<path d="M483 658h1V1134h-1z"/>
<path d="M484 689.5h1V1134h-1z"/>
<path d="M485 747h1V1134h-1z"/>
<path d="M486 622.5h1V1134h-1z"/>
<path d="M486 640.5h1V1134h-1z"/>
<path d="M487 685h1V1134h-1z"/>
<path d="M488 662.5h1V1134h-1z"/>
<path d="M489 707h1V1134h-1z"/>
<path d="M490 667h1V1134h-1z"/>
<path d="M491 658h1V1134h-1z"/>
<path d="M491 605h1V1134h-1z"/>
<path d="M492 676h1V1134h-1z"/>
<path d="M493 702.5h1V1134h-1z"/>
<path d="M494 654h1V1134h-1z"/>
<path d="M495 627h1V1134h-1z"/>
<path d="M495 627h1V1134h-1z"/>
<path d="M496 676h1V1134h-1z"/>
<path d="M497 556h1V1134h-1z"/>
<path d="M498 587h1V1134h-1z"/>
<path d="M499 720.5h1V1134h-1z"/>
<path d="M500 747h1V1134h-1z"/>
<path d="M500 609.5h1V1134h-1z"/>
<path d="M501 560.5h1V1134h-1z"/>
<path d="M502 640.5h1V1134h-1z"/>
<path d="M503 640.5h1V1134h-1z"/>
<path d="M504 605h1V1134h-1z"/>
<path d="M505 720.5h1V1134h-1z"/>
<path d="M505 711.5h1V1134h-1z"/>
<path d="M506 627h1V1134h-1z"/>
<path d="M507 631.5h1V1134h-1z"/>
<path d="M508 658h1V1134h-1z"/>
<path d="M509 573.5h1V1134h-1z"/>
<path d="M509 685h1V1134h-1z"/>
<path d="M510 622.5h1V1134h-1z"/>
<path d="M511 707h1V1134h-1z"/>
<path d="M512 707h1V1134h-1z"/>
<path d="M513 600.5h1V1134h-1z"/>
<path d="M514 787.5h1V1134h-1z"/>
<path d="M514 769.5h1V1134h-1z"/>
<path d="M515 702.5h1V1134h-1z"/>
<path d="M516 622.5h1V1134h-1z"/>
<path d="M517 689.5h1V1134h-1z"/>
<path d="M518 685h1V1134h-1z"/>
<path d="M519 658h1V1134h-1z"/>
<path d="M519 702.5h1V1134h-1z"/>
<path d="M520 605h1V1134h-1z"/>
<path d="M521 711.5h1V1134h-1z"/>
<path d="M522 654h1V1134h-1z"/>
<path d="M523 649.5h1V1134h-1z"/>
<path d="M524 622.5h1V1134h-1z"/>
<path d="M524 796h1V1134h-1z"/>
<path d="M525 738.5h1V1134h-1z"/>
<path d="M526 711.5h1V1134h-1z"/>
<path d="M527 591.5h1V1134h-1z"/>
<path d="M528 609.5h1V1134h-1z"/>
<path d="M528 734h1V1134h-1z"/>
<path d="M529 645h1V1134h-1z"/>
<path d="M530 654h1V1134h-1z"/>
<path d="M531 783h1V1134h-1z"/>
<path d="M532 654h1V1134h-1z"/>
<path d="M533 716h1V1134h-1z"/>
<path d="M533 654h1V1134h-1z"/>
<path d="M534 578h1V1134h-1z"/>
<path d="M535 747h1V1134h-1z"/>
<path d="M536 671.5h1V1134h-1z"/>
<path d="M537 707h1V1134h-1z"/>
<path d="M538 702.5h1V1134h-1z"/>
<path d="M538 645h1V1134h-1z"/>
<path d="M539 676h1V1134h-1z"/>
<path d="M540 694h1V1134h-1z"/>
<path d="M541 685h1V1134h-1z"/>
<path d="M542 778.5h1V1134h-1z"/>
<path d="M542 760.5h1V1134h-1z"/>
<path d="M543 707h1V1134h-1z"/>
<path d="M544 671.5h1V1134h-1z"/>
<path d="M545 685h1V1134h-1z"/>
<path d="M546 649.5h1V1134h-1z"/>
<path d="M547 689.5h1V1134h-1z"/>
<path d="M547 716h1V1134h-1z"/>
<path d="M548 716h1V1134h-1z"/>
<path d="M549 707h1V1134h-1z"/>
<path d="M550 676h1V1134h-1z"/>
<path d="M551 662.5h1V1134h-1z"/>
<path d="M552 622.5h1V1134h-1z"/>
<path d="M552 649.5h1V1134h-1z"/>
<path d="M553 685h1V1134h-1z"/>
<path d="M554 596h1V1134h-1z"/>
<path d="M555 734h1V1134h-1z"/>
<path d="M556 649.5h1V1134h-1z"/>
<path d="M556 783h1V1134h-1z"/>
<path d="M557 734h1V1134h-1z"/>
<path d="M558 707h1V1134h-1z"/>
<path d="M559 738.5h1V1134h-1z"/>
<path d="M560 613.5h1V1134h-1z"/>
<path d="M561 716h1V1134h-1z"/>
<path d="M561 676h1V1134h-1z"/>
<path d="M562 676h1V1134h-1z"/>
<path d="M563 738.5h1V1134h-1z"/>
<path d="M564 649.5h1V1134h-1z"/>
<path d="M565 689.5h1V1134h-1z"/>
<path d="M566 814h1V1134h-1z"/>
<path d="M566 649.5h1V1134h-1z"/>
<path d="M567 778.5h1V1134h-1z"/>
<path d="M568 774h1V1134h-1z"/>
<path d="M569 698.5h1V1134h-1z"/>
<path d="M570 716h1V1134h-1z"/>
<path d="M570 796h1V1134h-1z"/>
<path d="M571 743h1V1134h-1z"/>
<path d="M572 769.5h1V1134h-1z"/>
<path d="M573 774h1V1134h-1z"/>
<path d="M574 702.5h1V1134h-1z"/>
<path d="M575 707h1V1134h-1z"/>
<path d="M575 694h1V1134h-1z"/>
<path d="M576 680.5h1V1134h-1z"/>
<path d="M577 738.5h1V1134h-1z"/>
<path d="M578 685h1V1134h-1z"/>
<path d="M579 756h1V1134h-1z"/>
<path d="M580 662.5h1V1134h-1z"/>
<path d="M580 818.5h1V1134h-1z"/>
<path d="M581 738.5h1V1134h-1z"/>
<path d="M582 751.5h1V1134h-1z"/>
<path d="M583 796h1V1134h-1z"/>
<path d="M584 702.5h1V1134h-1z"/>
<path d="M585 702.5h1V1134h-1z"/>
<path d="M585 734h1V1134h-1z"/>
<path d="M586 667h1V1134h-1z"/>
<path d="M587 680.5h1V1134h-1z"/>
<path d="M588 702.5h1V1134h-1z"/>
<path d="M589 702.5h1V1134h-1z"/>
<path d="M589 769.5h1V1134h-1z"/>
<path d="M590 774h1V1134h-1z"/>
<path d="M591 756h1V1134h-1z"/>
<path d="M592 667h1V1134h-1z"/>
<path d="M593 698.5h1V1134h-1z"/>
<path d="M594 680.5h1V1134h-1z"/>
<path d="M594 765h1V1134h-1z"/>
<path d="M595 671.5h1V1134h-1z"/>
<path d="M596 716h1V1134h-1z"/>
<path d="M597 734h1V1134h-1z"/>
<path d="M598 694h1V1134h-1z"/>
<path d="M599 760.5h1V1134h-1z"/>
<path d="M599 631.5h1V1134h-1z"/>
<path d="M600 734h1V1134h-1z"/>
<path d="M601 689.5h1V1134h-1z"/>
<path d="M602 689.5h1V1134h-1z"/>
<path d="M603 725h1V1134h-1z"/>
<path d="M603 694h1V1134h-1z"/>
<path d="M604 649.5h1V1134h-1z"/>
<path d="M605 783h1V1134h-1z"/>
<path d="M606 694h1V1134h-1z"/>
<path d="M607 702.5h1V1134h-1z"/>
<path d="M608 791.5h1V1134h-1z"/>
<path d="M608 743h1V1134h-1z"/>
<path d="M609 836h1V1134h-1z"/>
<path d="M610 676h1V1134h-1z"/>
<path d="M611 769.5h1V1134h-1z"/>
<path d="M612 680.5h1V1134h-1z"/>
<path d="M613 734h1V1134h-1z"/>
<path d="M613 694h1V1134h-1z"/>
<path d="M614 716h1V1134h-1z"/>
<path d="M615 760.5h1V1134h-1z"/>
<path d="M616 711.5h1V1134h-1z"/>
<path d="M617 747h1V1134h-1z"/>
<path d="M617 689.5h1V1134h-1z"/>
<path d="M618 805h1V1134h-1z"/>
<path d="M619 725h1V1134h-1z"/>
<path d="M620 743h1V1134h-1z"/>
<path d="M621 716h1V1134h-1z"/>
<path d="M622 747h1V1134h-1z"/>
<path d="M622 694h1V1134h-1z"/>
<path d="M623 805h1V1134h-1z"/>
<path d="M624 774h1V1134h-1z"/>
<path d="M625 738.5h1V1134h-1z"/>
<path d="M626 774h1V1134h-1z"/>
<path d="M627 818.5h1V1134h-1z"/>
<path d="M627 729.5h1V1134h-1z"/>
<path d="M628 769.5h1V1134h-1z"/>
<path d="M629 707h1V1134h-1z"/>
<path d="M630 823h1V1134h-1z"/>
<path d="M631 702.5h1V1134h-1z"/>
<path d="M631 765h1V1134h-1z"/>
<path d="M632 698.5h1V1134h-1z"/>
<path d="M633 796h1V1134h-1z"/>
<path d="M634 711.5h1V1134h-1z"/>
<path d="M635 791.5h1V1134h-1z"/>
<path d="M636 707h1V1134h-1z"/>
<path d="M636 760.5h1V1134h-1z"/>
<path d="M637 756h1V1134h-1z"/>
<path d="M638 796h1V1134h-1z"/>
<path d="M639 823h1V1134h-1z"/>
<path d="M640 885h1V1134h-1z"/>
<path d="M641 734h1V1134h-1z"/>
<path d="M641 734h1V1134h-1z"/>
<path d="M642 769.5h1V1134h-1z"/>
<path d="M643 791.5h1V1134h-1z"/>
<path d="M644 694h1V1134h-1z"/>
<path d="M645 734h1V1134h-1z"/>
<path d="M646 814h1V1134h-1z"/>
<path d="M646 743h1V1134h-1z"/>
<path d="M647 814h1V1134h-1z"/>
<path d="M648 769.5h1V1134h-1z"/>
<path d="M649 716h1V1134h-1z"/>
<path d="M650 832h1V1134h-1z"/>
<path d="M650 774h1V1134h-1z"/>
<path d="M651 774h1V1134h-1z"/>
<path d="M652 778.5h1V1134h-1z"/>
<path d="M653 774h1V1134h-1z"/>
<path d="M654 756h1V1134h-1z"/>
<path d="M655 689.5h1V1134h-1z"/>
<path d="M655 778.5h1V1134h-1z"/>
<path d="M656 787.5h1V1134h-1z"/>
<path d="M657 791.5h1V1134h-1z"/>
<path d="M658 800.5h1V1134h-1z"/>
<path d="M659 720.5h1V1134h-1z"/>
<path d="M660 738.5h1V1134h-1z"/>
<path d="M660 769.5h1V1134h-1z"/>
<path d="M661 800.5h1V1134h-1z"/>
<path d="M662 778.5h1V1134h-1z"/>
<path d="M663 769.5h1V1134h-1z"/>
<path d="M664 760.5h1V1134h-1z"/>
<path d="M664 800.5h1V1134h-1z"/>
<path d="M665 814h1V1134h-1z"/>
<path d="M666 854h1V1134h-1z"/>
<path d="M667 698.5h1V1134h-1z"/>
<path d="M668 760.5h1V1134h-1z"/>
<path d="M669 787.5h1V1134h-1z"/>
<path d="M669 823h1V1134h-1z"/>
<path d="M670 787.5h1V1134h-1z"/>
<path d="M671 791.5h1V1134h-1z"/>
<path d="M672 778.5h1V1134h-1z"/>
<path d="M673 827.5h1V1134h-1z"/>
<path d="M674 787.5h1V1134h-1z"/>
<path d="M674 832h1V1134h-1z"/>
<path d="M675 863h1V1134h-1z"/>
<path d="M676 805h1V1134h-1z"/>
<path d="M677 787.5h1V1134h-1z"/>
<path d="M678 769.5h1V1134h-1z"/>
<path d="M678 791.5h1V1134h-1z"/>
<path d="M679 916.5h1V1134h-1z"/>
<path d="M680 840.5h1V1134h-1z"/>
<path d="M681 791.5h1V1134h-1z"/>
<path d="M682 863h1V1134h-1z"/>
<path d="M683 783h1V1134h-1z"/>
<path d="M683 827.5h1V1134h-1z"/>
<path d="M684 800.5h1V1134h-1z"/>
<path d="M685 796h1V1134h-1z"/>
<path d="M686 787.5h1V1134h-1z"/>
<path d="M687 783h1V1134h-1z"/>
<path d="M688 809.5h1V1134h-1z"/>
<path d="M688 814h1V1134h-1z"/>
<path d="M689 823h1V1134h-1z"/>
<path d="M690 809.5h1V1134h-1z"/>
<path d="M691 885h1V1134h-1z"/>
<path d="M692 805h1V1134h-1z"/>
<path d="M692 849.5h1V1134h-1z"/>
<path d="M693 814h1V1134h-1z"/>
<path d="M694 854h1V1134h-1z"/>
<path d="M695 827.5h1V1134h-1z"/>
<path d="M696 783h1V1134h-1z"/>
<path d="M697 854h1V1134h-1z"/>
<path d="M697 921h1V1134h-1z"/>
<path d="M698 845h1V1134h-1z"/>
<path d="M699 894h1V1134h-1z"/>
<path d="M700 778.5h1V1134h-1z"/>
<path d="M701 840.5h1V1134h-1z"/>
<path d="M702 840.5h1V1134h-1z"/>
<path d="M702 814h1V1134h-1z"/>
<path d="M703 845h1V1134h-1z"/>
<path d="M704 796h1V1134h-1z"/>
<path d="M705 769.5h1V1134h-1z"/>
<path d="M706 907.5h1V1134h-1z"/>
<path d="M707 854h1V1134h-1z"/>
<path d="M707 823h1V1134h-1z"/>
<path d="M708 969.5h1V1134h-1z"/>
<path d="M709 840.5h1V1134h-1z"/>
<path d="M710 867.5h1V1134h-1z"/>
<path d="M711 796h1V1134h-1z"/>
<path d="M711 796h1V1134h-1z"/>
<path d="M712 885h1V1134h-1z"/>
<path d="M713 858.5h1V1134h-1z"/>
<path d="M714 832h1V1134h-1z"/>
<path d="M715 898.5h1V1134h-1z"/>
<path d="M716 867.5h1V1134h-1z"/>
<path d="M716 783h1V1134h-1z"/>
<path d="M717 840.5h1V1134h-1z"/>
<path d="M718 854h1V1134h-1z"/>
<path d="M719 796h1V1134h-1z"/>
<path d="M720 858.5h1V1134h-1z"/>
<path d="M721 849.5h1V1134h-1z"/>
<path d="M721 863h1V1134h-1z"/>
<path d="M722 907.5h1V1134h-1z"/>
<path d="M723 956.5h1V1134h-1z"/>
<path d="M724 814h1V1134h-1z"/>
<path d="M725 885h1V1134h-1z"/>
<path d="M725 840.5h1V1134h-1z"/>
<path d="M726 858.5h1V1134h-1z"/>
<path d="M727 849.5h1V1134h-1z"/>
<path d="M728 889.5h1V1134h-1z"/>
<path d="M729 845h1V1134h-1z"/>
<path d="M730 832h1V1134h-1z"/>
<path d="M730 858.5h1V1134h-1z"/>
<path d="M731 898.5h1V1134h-1z"/>
<path d="M732 827.5h1V1134h-1z"/>
<path d="M733 863h1V1134h-1z"/>
<path d="M734 832h1V1134h-1z"/>
<path d="M735 854h1V1134h-1z"/>
<path d="M735 818.5h1V1134h-1z"/>
<path d="M736 889.5h1V1134h-1z"/>
<path d="M737 889.5h1V1134h-1z"/>
<path d="M738 952h1V1134h-1z"/>
<path d="M739 854h1V1134h-1z"/>
<path d="M739 845h1V1134h-1z"/>
<path d="M740 840.5h1V1134h-1z"/>
<path d="M741 858.5h1V1134h-1z"/>
<path d="M742 889.5h1V1134h-1z"/>
<path d="M743 787.5h1V1134h-1z"/>
<path d="M744 912h1V1134h-1z"/>
<path d="M744 903h1V1134h-1z"/>
<path d="M745 947.5h1V1134h-1z"/>
<path d="M746 885h1V1134h-1z"/>
<path d="M747 854h1V1134h-1z"/>
<path d="M748 903h1V1134h-1z"/>
<path d="M749 889.5h1V1134h-1z"/>
<path d="M749 903h1V1134h-1z"/>
<path d="M750 929.5h1V1134h-1z"/>
<path d="M751 845h1V1134h-1z"/>
<path d="M752 880.5h1V1134h-1z"/>
<path d="M753 921h1V1134h-1z"/>
<path d="M754 872h1V1134h-1z"/>
<path d="M754 872h1V1134h-1z"/>
<path d="M755 943h1V1134h-1z"/>
<path d="M756 849.5h1V1134h-1z"/>
<path d="M757 872h1V1134h-1z"/>
<path d="M758 925h1V1134h-1z"/>
<path d="M758 836h1V1134h-1z"/>
<path d="M759 898.5h1V1134h-1z"/>
<path d="M760 925h1V1134h-1z"/>
<path d="M761 889.5h1V1134h-1z"/>
<path d="M762 921h1V1134h-1z"/>
<path d="M763 938.5h1V1134h-1z"/>
<path d="M763 938.5h1V1134h-1z"/>
<path d="M764 880.5h1V1134h-1z"/>
<path d="M765 925h1V1134h-1z"/>
<path d="M766 934h1V1134h-1z"/>
<path d="M767 845h1V1134h-1z"/>
<path d="M768 863h1V1134h-1z"/>
<path d="M768 907.5h1V1134h-1z"/>
<path d="M769 894h1V1134h-1z"/>
<path d="M770 952h1V1134h-1z"/>
<path d="M771 929.5h1V1134h-1z"/>
<path d="M772 885h1V1134h-1z"/>
<path d="M772 894h1V1134h-1z"/>
<path d="M773 934h1V1134h-1z"/>
<path d="M774 956.5h1V1134h-1z"/>
<path d="M775 925h1V1134h-1z"/>
<path d="M776 925h1V1134h-1z"/>
<path d="M777 889.5h1V1134h-1z"/>
<path d="M777 907.5h1V1134h-1z"/>
<path d="M778 912h1V1134h-1z"/>
<path d="M779 907.5h1V1134h-1z"/>
<path d="M780 885h1V1134h-1z"/>
<path d="M781 996.5h1V1134h-1z"/>
<path d="M782 840.5h1V1134h-1z"/>
<path d="M782 912h1V1134h-1z"/>
<path d="M783 912h1V1134h-1z"/>
<path d="M784 943h1V1134h-1z"/>
<path d="M785 863h1V1134h-1z"/>
<path d="M786 934h1V1134h-1z"/>
<path d="M786 921h1V1134h-1z"/>
<path d="M787 921h1V1134h-1z"/>
<path d="M788 907.5h1V1134h-1z"/>
<path d="M789 929.5h1V1134h-1z"/>
<path d="M790 916.5h1V1134h-1z"/>
<path d="M791 880.5h1V1134h-1z"/>
<path d="M791 885h1V1134h-1z"/>
<path d="M792 898.5h1V1134h-1z"/>
<path d="M793 952h1V1134h-1z"/>
<path d="M794 947.5h1V1134h-1z"/>
<path d="M795 938.5h1V1134h-1z"/>
<path d="M796 938.5h1V1134h-1z"/>
<path d="M796 965.5h1V1134h-1z"/>
<path d="M797 938.5h1V1134h-1z"/>
<path d="M798 863h1V1134h-1z"/>
<path d="M799 929.5h1V1134h-1z"/>
<path d="M800 903h1V1134h-1z"/>
<path d="M800 876.5h1V1134h-1z"/>
<path d="M801 889.5h1V1134h-1z"/>
<path d="M802 992h1V1134h-1z"/>
<path d="M803 929.5h1V1134h-1z"/>
<path d="M804 907.5h1V1134h-1z"/>
<path d="M805 961h1V1134h-1z"/>
<path d="M805 916.5h1V1134h-1z"/>
<path d="M806 952h1V1134h-1z"/>
<path d="M807 921h1V1134h-1z"/>
<path d="M808 943h1V1134h-1z"/>
<path d="M809 947.5h1V1134h-1z"/>
<path d="M810 921h1V1134h-1z"/>
<path d="M810 938.5h1V1134h-1z"/>
<path d="M811 916.5h1V1134h-1z"/>
<path d="M812 925h1V1134h-1z"/>
<path d="M813 925h1V1134h-1z"/>
<path d="M814 947.5h1V1134h-1z"/>
<path d="M815 978.5h1V1134h-1z"/>
<path d="M815 894h1V1134h-1z"/>
<path d="M816 943h1V1134h-1z"/>
<path d="M817 898.5h1V1134h-1z"/>
<path d="M818 947.5h1V1134h-1z"/>
<path d="M819 987.5h1V1134h-1z"/>
<path d="M819 934h1V1134h-1z"/>
<path d="M820 876.5h1V1134h-1z"/>
<path d="M821 943h1V1134h-1z"/>
<path d="M822 947.5h1V1134h-1z"/>
<path d="M823 947.5h1V1134h-1z"/>
<path d="M824 996.5h1V1134h-1z"/>
<path d="M824 974h1V1134h-1z"/>
<path d="M825 938.5h1V1134h-1z"/>
<path d="M826 916.5h1V1134h-1z"/>
<path d="M827 965.5h1V1134h-1z"/>
<path d="M828 983h1V1134h-1z"/>
<path d="M829 898.5h1V1134h-1z"/>
<path d="M829 943h1V1134h-1z"/>
<path d="M830 925h1V1134h-1z"/>
<path d="M831 952h1V1134h-1z"/>
<path d="M832 996.5h1V1134h-1z"/>
<path d="M833 983h1V1134h-1z"/>
<path d="M833 992h1V1134h-1z"/>
<path d="M834 952h1V1134h-1z"/>
<path d="M835 992h1V1134h-1z"/>
<path d="M836 996.5h1V1134h-1z"/>
<path d="M837 961h1V1134h-1z"/>
<path d="M838 978.5h1V1134h-1z"/>
<path d="M838 938.5h1V1134h-1z"/>
<path d="M839 925h1V1134h-1z"/>
<path d="M840 987.5h1V1134h-1z"/>
<path d="M841 929.5h1V1134h-1z"/>
<path d="M842 992h1V1134h-1z"/>
<path d="M843 983h1V1134h-1z"/>
<path d="M843 929.5h1V1134h-1z"/>
<path d="M844 961h1V1134h-1z"/>
<path d="M845 961h1V1134h-1z"/>
<path d="M846 1001h1V1134h-1z"/>
<path d="M847 943h1V1134h-1z"/>
<path d="M847 974h1V1134h-1z"/>
<path d="M848 947.5h1V1134h-1z"/>
<path d="M849 987.5h1V1134h-1z"/>
<path d="M850 943h1V1134h-1z"/>
<path d="M851 965.5h1V1134h-1z"/>
<path d="M852 956.5h1V1134h-1z"/>
<path d="M852 956.5h1V1134h-1z"/>
<path d="M853 992h1V1134h-1z"/>
<path d="M854 1005.5h1V1134h-1z"/>
<path d="M855 992h1V1134h-1z"/>
<path d="M856 1010h1V1134h-1z"/>
<path d="M857 965.5h1V1134h-1z"/>
<path d="M857 961h1V1134h-1z"/>
<path d="M858 1001h1V1134h-1z"/>
<path d="M859 934h1V1134h-1z"/>
<path d="M860 974h1V1134h-1z"/>
<path d="M861 1032h1V1134h-1z"/>
<path d="M861 1010h1V1134h-1z"/>
<path d="M862 961h1V1134h-1z"/>
<path d="M863 1005.5h1V1134h-1z"/>
<path d="M864 969.5h1V1134h-1z"/>
<path d="M865 996.5h1V1134h-1z"/>
<path d="M866 965.5h1V1134h-1z"/>
<path d="M866 987.5h1V1134h-1z"/>
<path d="M867 996.5h1V1134h-1z"/>
<path d="M868 1001h1V1134h-1z"/>
<path d="M869 969.5h1V1134h-1z"/>
<path d="M870 1014h1V1134h-1z"/>
<path d="M871 978.5h1V1134h-1z"/>
<path d="M871 956.5h1V1134h-1z"/>
<path d="M872 952h1V1134h-1z"/>
<path d="M873 938.5h1V1134h-1z"/>
<path d="M874 987.5h1V1134h-1z"/>
<path d="M875 1005.5h1V1134h-1z"/>
<path d="M876 983h1V1134h-1z"/>
<path d="M876 1010h1V1134h-1z"/>
<path d="M877 1018.5h1V1134h-1z"/>
<path d="M878 1001h1V1134h-1z"/>
<path d="M879 992h1V1134h-1z"/>
<path d="M880 921h1V1134h-1z"/>
<path d="M880 992h1V1134h-1z"/>
<path d="M881 1018.5h1V1134h-1z"/>
<path d="M882 996.5h1V1134h-1z"/>
<path d="M883 965.5h1V1134h-1z"/>
<path d="M884 1018.5h1V1134h-1z"/>
<path d="M885 996.5h1V1134h-1z"/>
<path d="M885 1010h1V1134h-1z"/>
<path d="M886 983h1V1134h-1z"/>
<path d="M887 987.5h1V1134h-1z"/>
<path d="M888 916.5h1V1134h-1z"/>
<path d="M889 1001h1V1134h-1z"/>
<path d="M890 961h1V1134h-1z"/>
<path d="M890 987.5h1V1134h-1z"/>
<path d="M891 987.5h1V1134h-1z"/>
<path d="M892 978.5h1V1134h-1z"/>
<path d="M893 996.5h1V1134h-1z"/>
<path d="M894 1010h1V1134h-1z"/>
<path d="M894 1032h1V1134h-1z"/>
<path d="M895 956.5h1V1134h-1z"/>
<path d="M896 1014h1V1134h-1z"/>
<path d="M897 978.5h1V1134h-1z"/>
<path d="M898 1014h1V1134h-1z"/>
<path d="M899 1018.5h1V1134h-1z"/>
<path d="M899 1005.5h1V1134h-1z"/>
<path d="M900 978.5h1V1134h-1z"/>
<path d="M901 1014h1V1134h-1z"/>
<path d="M902 1010h1V1134h-1z"/>
<path d="M903 996.5h1V1134h-1z"/>
<path d="M904 1018.5h1V1134h-1z"/>
<path d="M904 965.5h1V1134h-1z"/>
<path d="M905 965.5h1V1134h-1z"/>
<path d="M906 987.5h1V1134h-1z"/>
<path d="M907 1010h1V1134h-1z"/>
<path d="M908 1014h1V1134h-1z"/>
<path d="M908 996.5h1V1134h-1z"/>
<path d="M909 974h1V1134h-1z"/>
<path d="M910 978.5h1V1134h-1z"/>
<path d="M911 978.5h1V1134h-1z"/>
<path d="M912 1023h1V1134h-1z"/>
<path d="M913 961h1V1134h-1z"/>
<path d="M913 974h1V1134h-1z"/>
<path d="M914 974h1V1134h-1z"/>
<path d="M915 1014h1V1134h-1z"/>
<path d="M916 1023h1V1134h-1z"/>
<path d="M917 1023h1V1134h-1z"/>
<path d="M918 987.5h1V1134h-1z"/>
<path d="M918 1018.5h1V1134h-1z"/>
<path d="M919 1018.5h1V1134h-1z"/>
<path d="M920 1001h1V1134h-1z"/>
<path d="M921 1010h1V1134h-1z"/>
<path d="M922 1005.5h1V1134h-1z"/>
<path d="M922 987.5h1V1134h-1z"/>
<path d="M923 1023h1V1134h-1z"/>
<path d="M924 1014h1V1134h-1z"/>
<path d="M925 992h1V1134h-1z"/>
<path d="M926 987.5h1V1134h-1z"/>
<path d="M927 1014h1V1134h-1z"/>
<path d="M927 1072h1V1134h-1z"/>
<path d="M928 978.5h1V1134h-1z"/>
<path d="M929 1041h1V1134h-1z"/>
<path d="M930 996.5h1V1134h-1z"/>
<path d="M931 1032h1V1134h-1z"/>
<path d="M932 992h1V1134h-1z"/>
<path d="M932 1036.5h1V1134h-1z"/>
<path d="M933 1036.5h1V1134h-1z"/>
<path d="M934 983h1V1134h-1z"/>
<path d="M935 1010h1V1134h-1z"/>
<path d="M936 987.5h1V1134h-1z"/>
<path d="M937 987.5h1V1134h-1z"/>
<path d="M937 992h1V1134h-1z"/>
<path d="M938 996.5h1V1134h-1z"/>
<path d="M939 1032h1V1134h-1z"/>
<path d="M940 1023h1V1134h-1z"/>
<path d="M941 1023h1V1134h-1z"/>
<path d="M941 1067.5h1V1134h-1z"/>
<path d="M942 1018.5h1V1134h-1z"/>
<path d="M943 996.5h1V1134h-1z"/>
<path d="M944 1027.5h1V1134h-1z"/>
<path d="M945 1027.5h1V1134h-1z"/>
<path d="M946 1014h1V1134h-1z"/>
<path d="M946 1018.5h1V1134h-1z"/>
<path d="M947 1018.5h1V1134h-1z"/>
<path d="M948 1032h1V1134h-1z"/>
<path d="M949 1058.5h1V1134h-1z"/>
<path d="M950 1027.5h1V1134h-1z"/>
<path d="M951 1027.5h1V1134h-1z"/>
<path d="M951 1027.5h1V1134h-1z"/>
<path d="M952 1018.5h1V1134h-1z"/>
<path d="M953 1045.5h1V1134h-1z"/>
<path d="M954 1018.5h1V1134h-1z"/>
<path d="M955 1050h1V1134h-1z"/>
<path d="M955 1032h1V1134h-1z"/>
<path d="M956 1085.5h1V1134h-1z"/>
<path d="M957 1014h1V1134h-1z"/>
<path d="M958 1045.5h1V1134h-1z"/>
<path d="M959 1032h1V1134h-1z"/>
<path d="M960 1032h1V1134h-1z"/>
<path d="M960 1005.5h1V1134h-1z"/>
<path d="M961 1018.5h1V1134h-1z"/>
<path d="M962 1041h1V1134h-1z"/>
<path d="M963 1050h1V1134h-1z"/>
<path d="M964 1041h1V1134h-1z"/>
<path d="M965 1036.5h1V1134h-1z"/>
<path d="M965 1063h1V1134h-1z"/>
<path d="M966 1041h1V1134h-1z"/>
<path d="M967 1041h1V1134h-1z"/>
<path d="M968 1032h1V1134h-1z"/>
<path d="M969 1041h1V1134h-1z"/>
<path d="M969 1076.5h1V1134h-1z"/>
<path d="M970 1018.5h1V1134h-1z"/>
<path d="M971 1072h1V1134h-1z"/>
<path d="M972 1081h1V1134h-1z"/>
<path d="M973 1032h1V1134h-1z"/>
<path d="M974 1067.5h1V1134h-1z"/>
<path d="M974 1001h1V1134h-1z"/>
<path d="M975 1081h1V1134h-1z"/>
<path d="M976 1041h1V1134h-1z"/>
<path d="M977 1063h1V1134h-1z"/>
<path d="M978 1036.5h1V1134h-1z"/>
<path d="M979 1018.5h1V1134h-1z"/>
<path d="M979 1027.5h1V1134h-1z"/>
<path d="M980 1072h1V1134h-1z"/>
<path d="M981 1041h1V1134h-1z"/>
<path d="M982 1041h1V1134h-1z"/>
<path d="M983 1041h1V1134h-1z"/>
<path d="M983 1058.5h1V1134h-1z"/>
<path d="M984 1058.5h1V1134h-1z"/>
<path d="M985 1032h1V1134h-1z"/>
<path d="M986 1054.5h1V1134h-1z"/>
<path d="M987 1050h1V1134h-1z"/>
<path d="M988 1058.5h1V1134h-1z"/>
<path d="M988 1036.5h1V1134h-1z"/>
<path d="M989 1036.5h1V1134h-1z"/>
<path d="M990 1063h1V1134h-1z"/>
<path d="M991 1041h1V1134h-1z"/>
<path d="M992 1050h1V1134h-1z"/>
<path d="M993 1063h1V1134h-1z"/>
<path d="M993 1063h1V1134h-1z"/>
<path d="M994 1067.5h1V1134h-1z"/>
<path d="M995 1041h1V1134h-1z"/>
<path d="M996 1045.5h1V1134h-1z"/>
<path d="M997 1063h1V1134h-1z"/>
<path d="M998 1063h1V1134h-1z"/>
<path d="M998 1076.5h1V1134h-1z"/>
<path d="M999 1036.5h1V1134h-1z"/>
<path d="M1000 1041h1V1134h-1z"/>
<path d="M1001 1072h1V1134h-1z"/>
<path d="M1002 1032h1V1134h-1z"/>
<path d="M1002 1067.5h1V1134h-1z"/>
<path d="M1003 1045.5h1V1134h-1z"/>
<path d="M1004 1072h1V1134h-1z"/>
<path d="M1005 1063h1V1134h-1z"/>
<path d="M1006 1032h1V1134h-1z"/>
<path d="M1007 1081h1V1134h-1z"/>
<path d="M1007 1058.5h1V1134h-1z"/>
<path d="M1008 1085.5h1V1134h-1z"/>
<path d="M1009 1085.5h1V1134h-1z"/>
<path d="M1010 1032h1V1134h-1z"/>
<path d="M1011 1067.5h1V1134h-1z"/>
<path d="M1012 1063h1V1134h-1z"/>
<path d="M1012 1045.5h1V1134h-1z"/>
<path d="M1013 1072h1V1134h-1z"/>
<path d="M1014 1027.5h1V1134h-1z"/>
<path d="M1015 1063h1V1134h-1z"/>
<path d="M1016 1063h1V1134h-1z"/>
<path d="M1016 1067.5h1V1134h-1z"/>
<path d="M1017 1058.5h1V1134h-1z"/>
<path d="M1018 1063h1V1134h-1z"/>
<path d="M1019 1081h1V1134h-1z"/>
<path d="M1020 1054.5h1V1134h-1z"/>
<path d="M1021 1090h1V1134h-1z"/>
<path d="M1021 1050h1V1134h-1z"/>
<path d="M1022 1045.5h1V1134h-1z"/>
<path d="M1023 1045.5h1V1134h-1z"/>
<path d="M1024 1072h1V1134h-1z"/>
<path d="M1025 1081h1V1134h-1z"/>
<path d="M1026 1063h1V1134h-1z"/>
<path d="M1026 1094.5h1V1134h-1z"/>
<path d="M1027 1027.5h1V1134h-1z"/>
<path d="M1028 1063h1V1134h-1z"/>
<path d="M1029 1085.5h1V1134h-1z"/>
<path d="M1030 1072h1V1134h-1z"/>
<path d="M1030 1058.5h1V1134h-1z"/>
<path d="M1031 1036.5h1V1134h-1z"/>
<path d="M1032 1063h1V1134h-1z"/>
<path d="M1033 1054.5h1V1134h-1z"/>
<path d="M1034 1058.5h1V1134h-1z"/>
<path d="M1035 1090h1V1134h-1z"/>
<path d="M1035 1072h1V1134h-1z"/>
<path d="M1036 1103h1V1134h-1z"/>
<path d="M1037 1081h1V1134h-1z"/>
<path d="M1038 1090h1V1134h-1z"/>
<path d="M1039 1081h1V1134h-1z"/>
<path d="M1040 1067.5h1V1134h-1z"/>
<path d="M1040 1063h1V1134h-1z"/>
<path d="M1041 1067.5h1V1134h-1z"/>
<path d="M1042 1072h1V1134h-1z"/>
<path d="M1043 1054.5h1V1134h-1z"/>
<path d="M1044 1067.5h1V1134h-1z"/>
<path d="M1044 1085.5h1V1134h-1z"/>
<path d="M1045 1058.5h1V1134h-1z"/>
<path d="M1046 1058.5h1V1134h-1z"/>
<path d="M1047 1081h1V1134h-1z"/>
<path d="M1048 1085.5h1V1134h-1z"/>
<path d="M1049 1067.5h1V1134h-1z"/>
<path d="M1049 1054.5h1V1134h-1z"/>
<path d="M1050 1050h1V1134h-1z"/>
<path d="M1051 1085.5h1V1134h-1z"/>
<path d="M1052 1094.5h1V1134h-1z"/>
<path d="M1053 1067.5h1V1134h-1z"/>
<path d="M1054 1063h1V1134h-1z"/>
<path d="M1054 1072h1V1134h-1z"/>
<path d="M1055 1072h1V1134h-1z"/>
<path d="M1056 1081h1V1134h-1z"/>
<path d="M1057 1081h1V1134h-1z"/>
<path d="M1058 1067.5h1V1134h-1z"/>
<path d="M1059 1099h1V1134h-1z"/>
<path d="M1059 1090h1V1134h-1z"/>
<path d="M1060 1094.5h1V1134h-1z"/>
<path d="M1061 1099h1V1134h-1z"/>
<path d="M1062 1067.5h1V1134h-1z"/>
<path d="M1063 1067.5h1V1134h-1z"/>
<path d="M1063 1072h1V1134h-1z"/>
<path d="M1064 1067.5h1V1134h-1z"/>
<path d="M1065 1090h1V1134h-1z"/>
<path d="M1066 1085.5h1V1134h-1z"/>
<path d="M1067 1090h1V1134h-1z"/>
<path d="M1068 1072h1V1134h-1z"/>
<path d="M1068 1076.5h1V1134h-1z"/>
<path d="M1069 1072h1V1134h-1z"/>
<path d="M1070 1067.5h1V1134h-1z"/>
<path d="M1071 1090h1V1134h-1z"/>
<path d="M1072 1085.5h1V1134h-1z"/>
<path d="M1073 1112h1V1134h-1z"/>
<path d="M1073 1090h1V1134h-1z"/>
<path d="M1074 1067.5h1V1134h-1z"/>
<path d="M1075 1076.5h1V1134h-1z"/>
<path d="M1076 1076.5h1V1134h-1z"/>
<path d="M1077 1090h1V1134h-1z"/>
<path d="M1077 1090h1V1134h-1z"/>
<path d="M1078 1076.5h1V1134h-1z"/>
<path d="M1079 1045.5h1V1134h-1z"/>
<path d="M1080 1099h1V1134h-1z"/>
<path d="M1081 1076.5h1V1134h-1z"/>
<path d="M1082 1099h1V1134h-1z"/>
<path d="M1082 1072h1V1134h-1z"/>
<path d="M1083 1076.5h1V1134h-1z"/>
<path d="M1084 1116.5h1V1134h-1z"/>
<path d="M1085 1099h1V1134h-1z"/>
<path d="M1086 1116.5h1V1134h-1z"/>
<path d="M1087 1076.5h1V1134h-1z"/>
<path d="M1087 1067.5h1V1134h-1z"/>
<path d="M1088 1081h1V1134h-1z"/>
<path d="M1089 1094.5h1V1134h-1z"/>
<path d="M1090 1067.5h1V1134h-1z"/>
<path d="M1091 1081h1V1134h-1z"/>
<path d="M1091 1076.5h1V1134h-1z"/>
<path d="M1092 1085.5h1V1134h-1z"/>
<path d="M1093 1081h1V1134h-1z"/>
<path d="M1094 1094.5h1V1134h-1z"/>
<path d="M1095 1081h1V1134h-1z"/>
<path d="M1096 1054.5h1V1134h-1z"/>
<path d="M1096 1090h1V1134h-1z"/>
<path d="M1097 1099h1V1134h-1z"/>
<path d="M1098 1085.5h1V1134h-1z"/>
<path d="M1099 1085.5h1V1134h-1z"/>
<path d="M1100 1099h1V1134h-1z"/>
<path d="M1101 1112h1V1134h-1z"/>
<path d="M1101 1085.5h1V1134h-1z"/>
<path d="M1102 1085.5h1V1134h-1z"/>
<path d="M1103 1107.5h1V1134h-1z"/>
<path d="M1104 1081h1V1134h-1z"/>
<path d="M1105 1090h1V1134h-1z"/>
<path d="M1105 1067.5h1V1134h-1z"/>
<path d="M1106 1099h1V1134h-1z"/>
<path d="M1107 1085.5h1V1134h-1z"/>
<path d="M1108 1094.5h1V1134h-1z"/>
<path d="M1109 1072h1V1134h-1z"/>
<path d="M1110 1076.5h1V1134h-1z"/>
<path d="M1110 1099h1V1134h-1z"/>
<path d="M1111 1067.5h1V1134h-1z"/>
<path d="M1112 1099h1V1134h-1z"/>
<path d="M1113 1094.5h1V1134h-1z"/>
<path d="M1114 1085.5h1V1134h-1z"/>
<path d="M1115 1072h1V1134h-1z"/>
<path d="M1115 1107.5h1V1134h-1z"/>
<path d="M1116 1085.5h1V1134h-1z"/>
<path d="M1117 1090h1V1134h-1z"/>
<path d="M1118 1067.5h1V1134h-1z"/>
<path d="M1119 1085.5h1V1134h-1z"/>
<path d="M1120 1081h1V1134h-1z"/>
<path d="M1120 1094.5h1V1134h-1z"/>
<path d="M1121 1103h1V1134h-1z"/>
<path d="M1122 1112h1V1134h-1z"/>
<path d="M1123 1094.5h1V1134h-1z"/>
<path d="M1124 1103h1V1134h-1z"/>
<path d="M1124 1081h1V1134h-1z"/>
<path d="M1125 1099h1V1134h-1z"/>
<path d="M1126 1099h1V1134h-1z"/>
<path d="M1127 1107.5h1V1134h-1z"/>
<path d="M1128 1094.5h1V1134h-1z"/>
<path d="M1129 1072h1V1134h-1z"/>
<path d="M1129 1072h1V1134h-1z"/>
<path d="M1130 1081h1V1134h-1z"/>
<path d="M1131 1090h1V1134h-1z"/>
<path d="M1132 1094.5h1V1134h-1z"/>
<path d="M1133 1085.5h1V1134h-1z"/>
<path d="M1134 1099h1V1134h-1z"/>
<path d="M1134 1112h1V1134h-1z"/>
<path d="M1135 1067.5h1V1134h-1z"/>
<path d="M1136 1099h1V1134h-1z"/>
<path d="M1137 1112h1V1134h-1z"/>
<path d="M1138 1094.5h1V1134h-1z"/>
<path d="M1138 1103h1V1134h-1z"/>
<path d="M1139 1085.5h1V1134h-1z"/>
<path d="M1140 1103h1V1134h-1z"/>
<path d="M1141 1099h1V1134h-1z"/>
<path d="M1142 1103h1V1134h-1z"/>
<path d="M1143 1094.5h1V1134h-1z"/>
<path d="M1143 1076.5h1V1134h-1z"/>
<path d="M1145 1099h1V1134h-1z"/>
<path d="M1146 1076.5h1V1134h-1z"/>
<path d="M1147 1099h1V1134h-1z"/>
<path d="M1148 1116.5h1V1134h-1z"/>
<path d="M1148 1103h1V1134h-1z"/>
<path d="M1149 1081h1V1134h-1z"/>
<path d="M1150 1099h1V1134h-1z"/>
<path d="M1151 1090h1V1134h-1z"/>
<path d="M1152 1099h1V1134h-1z"/>
<path d="M1152 1081h1V1134h-1z"/>
<path d="M1153 1099h1V1134h-1z"/>
<path d="M1154 1116.5h1V1134h-1z"/>
<path d="M1155 1094.5h1V1134h-1z"/>
<path d="M1156 1090h1V1134h-1z"/>
<path d="M1157 1081h1V1134h-1z"/>
<path d="M1157 1081h1V1134h-1z"/>
<path d="M1158 1090h1V1134h-1z"/>
<path d="M1159 1116.5h1V1134h-1z"/>
<path d="M1160 1099h1V1134h-1z"/>
<path d="M1161 1099h1V1134h-1z"/>
<path d="M1162 1112h1V1134h-1z"/>
<path d="M1162 1076.5h1V1134h-1z"/>
<path d="M1163 1076.5h1V1134h-1z"/>
<path d="M1164 1107.5h1V1134h-1z"/>
<path d="M1166 1112h1V1134h-1z"/>
<path d="M1167 1085.5h1V1134h-1z"/>
<path d="M1167 1085.5h1V1134h-1z"/>
<path d="M1168 1094.5h1V1134h-1z"/>
<path d="M1169 1099h1V1134h-1z"/>
<path d="M1170 1094.5h1V1134h-1z"/>
<path d="M1171 1081h1V1134h-1z"/>
<path d="M1171 1085.5h1V1134h-1z"/>
<path d="M1172 1090h1V1134h-1z"/>
<path d="M1173 1099h1V1134h-1z"/>
<path d="M1174 1090h1V1134h-1z"/>
<path d="M1175 1121h1V1134h-1z"/>
<path d="M1176 1085.5h1V1134h-1z"/>
<path d="M1176 1112h1V1134h-1z"/>
<path d="M1177 1085.5h1V1134h-1z"/>
<path d="M1178 1107.5h1V1134h-1z"/>
<path d="M1179 1107.5h1V1134h-1z"/>
<path d="M1180 1116.5h1V1134h-1z"/>
<path d="M1181 1094.5h1V1134h-1z"/>
<path d="M1181 1125.5h1V1134h-1z"/>
<path d="M1182 1090h1V1134h-1z"/>
<path d="M1183 1103h1V1134h-1z"/>
<path d="M1184 1090h1V1134h-1z"/>
<path d="M1185 1107.5h1V1134h-1z"/>
<path d="M1185 1103h1V1134h-1z"/>
<path d="M1186 1103h1V1134h-1z"/>
<path d="M1187 1103h1V1134h-1z"/>
<path d="M1188 1099h1V1134h-1z"/>
<path d="M1189 1099h1V1134h-1z"/>
<path d="M1190 1103h1V1134h-1z"/>
<path d="M1190 1121h1V1134h-1z"/>
<path d="M1191 1116.5h1V1134h-1z"/>
<path d="M1192 1085.5h1V1134h-1z"/>
<path d="M1193 1099h1V1134h-1z"/>
<path d="M1194 1090h1V1134h-1z"/>
<path d="M1195 1103h1V1134h-1z"/>
<path d="M1195 1094.5h1V1134h-1z"/>
<path d="M1196 1094.5h1V1134h-1z"/>
<path d="M1197 1121h1V1134h-1z"/>
<path d="M1198 1103h1V1134h-1z"/>
<path d="M1199 1103h1V1134h-1z"/>
<path d="M1199 1112h1V1134h-1z"/>
<path d="M1200 1103h1V1134h-1z"/>
<path d="M1201 1116.5h1V1134h-1z"/>
<path d="M1202 1099h1V1134h-1z"/>
<path d="M1203 1081h1V1134h-1z"/>
<path d="M1204 1107.5h1V1134h-1z"/>
<path d="M1204 1112h1V1134h-1z"/>
<path d="M1205 1103h1V1134h-1z"/>
<path d="M1206 1094.5h1V1134h-1z"/>
<path d="M1207 1103h1V1134h-1z"/>
<path d="M1208 1116.5h1V1134h-1z"/>
<path d="M1209 1099h1V1134h-1z"/>
<path d="M1209 1116.5h1V1134h-1z"/>
<path d="M1210 1094.5h1V1134h-1z"/>
<path d="M1211 1121h1V1134h-1z"/>
<path d="M1212 1107.5h1V1134h-1z"/>
<path d="M1213 1103h1V1134h-1z"/>
<path d="M1213 1112h1V1134h-1z"/>
<path d="M1214 1112h1V1134h-1z"/>
<path d="M1215 1094.5h1V1134h-1z"/>
<path d="M1216 1107.5h1V1134h-1z"/>
<path d="M1217 1121h1V1134h-1z"/>
<path d="M1218 1103h1V1134h-1z"/>
<path d="M1218 1112h1V1134h-1z"/>
<path d="M1219 1099h1V1134h-1z"/>
<path d="M1220 1081h1V1134h-1z"/>
<path d="M1221 1099h1V1134h-1z"/>
<path d="M1222 1112h1V1134h-1z"/>
<path d="M1223 1103h1V1134h-1z"/>
<path d="M1223 1099h1V1134h-1z"/>
<path d="M1224 1094.5h1V1134h-1z"/>
<path d="M1225 1103h1V1134h-1z"/>
<path d="M1226 1112h1V1134h-1z"/>
<path d="M1227 1103h1V1134h-1z"/>
<path d="M1228 1112h1V1134h-1z"/>
<path d="M1228 1090h1V1134h-1z"/>
<path d="M1229 1116.5h1V1134h-1z"/>
<path d="M1231 1099h1V1134h-1z"/>
<path d="M1232 1094.5h1V1134h-1z"/>
<path d="M1232 1090h1V1134h-1z"/>
<path d="M1233 1116.5h1V1134h-1z"/>
<path d="M1234 1099h1V1134h-1z"/>
<path d="M1235 1116.5h1V1134h-1z"/>
<path d="M1236 1116.5h1V1134h-1z"/>
<path d="M1237 1107.5h1V1134h-1z"/>
<path d="M1237 1099h1V1134h-1z"/>
<path d="M1238 1116.5h1V1134h-1z"/>
<path d="M1239 1094.5h1V1134h-1z"/>
<path d="M1240 1116.5h1V1134h-1z"/>
<path d="M1241 1094.5h1V1134h-1z"/>
<path d="M1242 1103h1V1134h-1z"/>
<path d="M1242 1112h1V1134h-1z"/>
<path d="M1243 1103h1V1134h-1z"/>
<path d="M1244 1107.5h1V1134h-1z"/>
<path d="M1245 1116.5h1V1134h-1z"/>
<path d="M1246 1112h1V1134h-1z"/>
<path d="M1246 1072h1V1134h-1z"/>
<path d="M1247 1116.5h1V1134h-1z"/>
<path d="M1248 1116.5h1V1134h-1z"/>
<path d="M1249 1125.5h1V1134h-1z"/>
<path d="M1250 1107.5h1V1134h-1z"/>
<path d="M1251 1103h1V1134h-1z"/>
<path d="M1251 1103h1V1134h-1z"/>
<path d="M1252 1116.5h1V1134h-1z"/>
<path d="M1253 1116.5h1V1134h-1z"/>
<path d="M1254 1107.5h1V1134h-1z"/>
<path d="M1255 1116.5h1V1134h-1z"/>
<path d="M1256 1085.5h1V1134h-1z"/>
<path d="M1256 1116.5h1V1134h-1z"/>
<path d="M1257 1094.5h1V1134h-1z"/>
<path d="M1258 1112h1V1134h-1z"/>
<path d="M1259 1094.5h1V1134h-1z"/>
<path d="M1260 1103h1V1134h-1z"/>
<path d="M1260 1116.5h1V1134h-1z"/>
<path d="M1261 1121h1V1134h-1z"/>
<path d="M1262 1112h1V1134h-1z"/>
<path d="M1263 1103h1V1134h-1z"/>
<path d="M1264 1112h1V1134h-1z"/>
<path d="M1265 1112h1V1134h-1z"/>
<path d="M1265 1103h1V1134h-1z"/>
<path d="M1266 1116.5h1V1134h-1z"/>
<path d="M1267 1112h1V1134h-1z"/>
<path d="M1268 1125.5h1V1134h-1z"/>
<path d="M1269 1116.5h1V1134h-1z"/>
<path d="M1270 1112h1V1134h-1z"/>
<path d="M1270 1094.5h1V1134h-1z"/>
<path d="M1271 1112h1V1134h-1z"/>
<path d="M1272 1103h1V1134h-1z"/>
<path d="M1273 1107.5h1V1134h-1z"/>
<path d="M1274 1103h1V1134h-1z"/>
<path d="M1274 1107.5h1V1134h-1z"/>
<path d="M1275 1103h1V1134h-1z"/>
<path d="M1276 1103h1V1134h-1z"/>
<path d="M1277 1121h1V1134h-1z"/>
<path d="M1278 1116.5h1V1134h-1z"/>
<path d="M1279 1116.5h1V1134h-1z"/>
<path d="M1279 1107.5h1V1134h-1z"/>
<path d="M1280 1121h1V1134h-1z"/>
<path d="M1281 1112h1V1134h-1z"/>
<path d="M1282 1112h1V1134h-1z"/>
<path d="M1283 1107.5h1V1134h-1z"/>
<path d="M1284 1107.5h1V1134h-1z"/>
<path d="M1284 1103h1V1134h-1z"/>
<path d="M1285 1121h1V1134h-1z"/>
<path d="M1286 1121h1V1134h-1z"/>
<path d="M1287 1107.5h1V1134h-1z"/>
<path d="M1288 1112h1V1134h-1z"/>
<path d="M1289 1112h1V1134h-1z"/>
<path d="M1289 1099h1V1134h-1z"/>
<path d="M1290 1112h1V1134h-1z"/>
<path d="M1291 1103h1V1134h-1z"/>
<path d="M1292 1121h1V1134h-1z"/>
<path d="M1293 1125.5h1V1134h-1z"/>
<path d="M1293 1107.5h1V1134h-1z"/>
<path d="M1294 1107.5h1V1134h-1z"/>
<path d="M1295 1107.5h1V1134h-1z"/>
<path d="M1296 1121h1V1134h-1z"/>
<path d="M1297 1090h1V1134h-1z"/>
<path d="M1298 1125.5h1V1134h-1z"/>
<path d="M1298 1112h1V1134h-1z"/>
<path d="M1299 1116.5h1V1134h-1z"/>
<path d="M1300 1112h1V1134h-1z"/>
<path d="M1301 1103h1V1134h-1z"/>
<path d="M1302 1107.5h1V1134h-1z"/>
<path d="M1303 1099h1V1134h-1z"/>
<path d="M1303 1099h1V1134h-1z"/>
<path d="M1304 1125.5h1V1134h-1z"/>
<path d="M1305 1103h1V1134h-1z"/>
<path d="M1306 1121h1V1134h-1z"/>
<path d="M1307 1116.5h1V1134h-1z"/>
<path d="M1307 1103h1V1134h-1z"/>
<path d="M1308 1094.5h1V1134h-1z"/>
<path d="M1309 1103h1V1134h-1z"/>
<path d="M1310 1121h1V1134h-1z"/>
<path d="M1311 1112h1V1134h-1z"/>
<path d="M1312 1121h1V1134h-1z"/>
<path d="M1312 1121h1V1134h-1z"/>
<path d="M1313 1116.5h1V1134h-1z"/>
<path d="M1314 1121h1V1134h-1z"/>
<path d="M1315 1107.5h1V1134h-1z"/>
<path d="M1316 1094.5h1V1134h-1z"/>
<path d="M1317 1094.5h1V1134h-1z"/>
<path d="M1317 1099h1V1134h-1z"/>
<path d="M1318 1103h1V1134h-1z"/>
<path d="M1319 1116.5h1V1134h-1z"/>
<path d="M1320 1112h1V1134h-1z"/>
<path d="M1321 1107.5h1V1134h-1z"/>
<path d="M1321 1090h1V1134h-1z"/>
<path d="M1322 1107.5h1V1134h-1z"/>
<path d="M1323 1099h1V1134h-1z"/>
<path d="M1324 1099h1V1134h-1z"/>
<path d="M1325 1121h1V1134h-1z"/>
<path d="M1326 1103h1V1134h-1z"/>
<path d="M1326 1121h1V1134h-1z"/>
<path d="M1327 1112h1V1134h-1z"/>
<path d="M1328 1112h1V1134h-1z"/>
<path d="M1329 1125.5h1V1134h-1z"/>
<path d="M1330 1103h1V1134h-1z"/>
<path d="M1331 1116.5h1V1134h-1z"/>
<path d="M1331 1112h1V1134h-1z"/>
<path d="M1332 1121h1V1134h-1z"/>
<path d="M1333 1116.5h1V1134h-1z"/>
<path d="M1334 1103h1V1134h-1z"/>
<path d="M1335 1103h1V1134h-1z"/>
<path d="M1335 1112h1V1134h-1z"/>
<path d="M1336 1125.5h1V1134h-1z"/>
<path d="M1337 1090h1V1134h-1z"/>
<path d="M1338 1103h1V1134h-1z"/>
<path d="M1339 1116.5h1V1134h-1z"/>
<path d="M1340 1116.5h1V1134h-1z"/>
<path d="M1340 1103h1V1134h-1z"/>
<path d="M1341 1107.5h1V1134h-1z"/>
<path d="M1342 1107.5h1V1134h-1z"/>
<path d="M1343 1121h1V1134h-1z"/>
<path d="M1344 1107.5h1V1134h-1z"/>
<path d="M1345 1116.5h1V1134h-1z"/>
<path d="M1345 1112h1V1134h-1z"/>
<path d="M1346 1112h1V1134h-1z"/>
<path d="M1347 1112h1V1134h-1z"/>
<path d="M1348 1125.5h1V1134h-1z"/>
<path d="M1349 1116.5h1V1134h-1z"/>
<path d="M1350 1090h1V1134h-1z"/>
<path d="M1350 1112h1V1134h-1z"/>
<path d="M1351 1103h1V1134h-1z"/>
<path d="M1352 1107.5h1V1134h-1z"/>
<path d="M1353 1112h1V1134h-1z"/>
<path d="M1354 1121h1V1134h-1z"/>
<path d="M1354 1099h1V1134h-1z"/>
<path d="M1355 1099h1V1134h-1z"/>
<path d="M1356 1112h1V1134h-1z"/>
<path d="M1357 1112h1V1134h-1z"/>
<path d="M1358 1116.5h1V1134h-1z"/>
<path d="M1359 1107.5h1V1134h-1z"/>
<path d="M1359 1112h1V1134h-1z"/>
<path d="M1361 1107.5h1V1134h-1z"/>
<path d="M1362 1090h1V1134h-1z"/>
<path d="M1363 1107.5h1V1134h-1z"/>
<path d="M1364 1121h1V1134h-1z"/>
<path d="M1364 1107.5h1V1134h-1z"/>
<path d="M1365 1125.5h1V1134h-1z"/>
<path d="M1366 1112h1V1134h-1z"/>
<path d="M1367 1121h1V1134h-1z"/>
<path d="M1368 1121h1V1134h-1z"/>
<path d="M1368 1107.5h1V1134h-1z"/>
<path d="M1369 1103h1V1134h-1z"/>
<path d="M1370 1103h1V1134h-1z"/>
<path d="M1371 1116.5h1V1134h-1z"/>
<path d="M1372 1099h1V1134h-1z"/>
<path d="M1373 1090h1V1134h-1z"/>
<path d="M1373 1112h1V1134h-1z"/>
<path d="M1374 1112h1V1134h-1z"/>
<path d="M1375 1112h1V1134h-1z"/>
<path d="M1376 1116.5h1V1134h-1z"/>
<path d="M1377 1112h1V1134h-1z"/>
<path d="M1378 1112h1V1134h-1z"/>
<path d="M1378 1116.5h1V1134h-1z"/>
<path d="M1379 1121h1V1134h-1z"/>
<path d="M1380 1107.5h1V1134h-1z"/>
<path d="M1381 1121h1V1134h-1z"/>
<path d="M1382 1121h1V1134h-1z"/>
<path d="M1382 1107.5h1V1134h-1z"/>
<path d="M1383 1121h1V1134h-1z"/>
<path d="M1384 1103h1V1134h-1z"/>
<path d="M1385 1121h1V1134h-1z"/>
<path d="M1386 1107.5h1V1134h-1z"/>
<path d="M1387 1099h1V1134h-1z"/>
<path d="M1387 1094.5h1V1134h-1z"/>
<path d="M1388 1121h1V1134h-1z"/>
<path d="M1389 1116.5h1V1134h-1z"/>
<path d="M1390 1103h1V1134h-1z"/>
<path d="M1391 1116.5h1V1134h-1z"/>
<path d="M1392 1112h1V1134h-1z"/>
<path d="M1392 1116.5h1V1134h-1z"/>
<path d="M1393 1103h1V1134h-1z"/>
<path d="M1394 1094.5h1V1134h-1z"/>
<path d="M1395 1116.5h1V1134h-1z"/>
<path d="M1396 1094.5h1V1134h-1z"/>
<path d="M1396 1116.5h1V1134h-1z"/>
<path d="M1397 1116.5h1V1134h-1z"/>
<path d="M1398 1112h1V1134h-1z"/>
<path d="M1399 1125.5h1V1134h-1z"/>
<path d="M1400 1103h1V1134h-1z"/>
<path d="M1401 1090h1V1134h-1z"/>
<path d="M1401 1116.5h1V1134h-1z"/>
<path d="M1402 1121h1V1134h-1z"/>
<path d="M1403 1112h1V1134h-1z"/>
<path d="M1404 1103h1V1134h-1z"/>
<path d="M1405 1107.5h1V1134h-1z"/>
<path d="M1406 1112h1V1134h-1z"/>
<path d="M1406 1094.5h1V1134h-1z"/>
<path d="M1407 1103h1V1134h-1z"/>
<path d="M1408 1112h1V1134h-1z"/>
<path d="M1409 1116.5h1V1134h-1z"/>
<path d="M1410 1103h1V1134h-1z"/>
<path d="M1411 1112h1V1134h-1z"/>
<path d="M1411 1112h1V1134h-1z"/>
<path d="M1412 1112h1V1134h-1z"/>
<path d="M1413 1121h1V1134h-1z"/>
<path d="M1414 1107.5h1V1134h-1z"/>
<path d="M1415 1116.5h1V1134h-1z"/>
<path d="M1415 1121h1V1134h-1z"/>
<path d="M1416 1125.5h1V1134h-1z"/>
<path d="M1417 1125.5h1V1134h-1z"/>
<path d="M1418 1121h1V1134h-1z"/>
<path d="M1419 1103h1V1134h-1z"/>
<path d="M1420 1107.5h1V1134h-1z"/>
<path d="M1420 1107.5h1V1134h-1z"/>
<path d="M1421 1107.5h1V1134h-1z"/>
<path d="M1422 1121h1V1134h-1z"/>
<path d="M1423 1116.5h1V1134h-1z"/>
<path d="M1424 1072h1V1134h-1z"/>
<path d="M1425 1116.5h1V1134h-1z"/>
<path d="M1425 1121h1V1134h-1z"/>
<path d="M1426 1107.5h1V1134h-1z"/>
<path d="M1427 1125.5h1V1134h-1z"/>
<path d="M1428 1125.5h1V1134h-1z"/>
<path d="M1429 1112h1V1134h-1z"/>
<path d="M1429 1125.5h1V1134h-1z"/>
<path d="M1430 1103h1V1134h-1z"/>
<path d="M1431 1094.5h1V1134h-1z"/>
<path d="M1432 1125.5h1V1134h-1z"/>
<path d="M1433 1116.5h1V1134h-1z"/>
<path d="M1434 1121h1V1134h-1z"/>
<path d="M1434 1125.5h1V1134h-1z"/>
<path d="M1435 1116.5h1V1134h-1z"/>
<path d="M1436 1125.5h1V1134h-1z"/>
<path d="M1437 1103h1V1134h-1z"/>
<path d="M1438 1121h1V1134h-1z"/>
<path d="M1439 1107.5h1V1134h-1z"/>
<path d="M1439 1107.5h1V1134h-1z"/>
<path d="M1440 1125.5h1V1134h-1z"/>
<path d="M1441 1116.5h1V1134h-1z"/>
<path d="M1442 1103h1V1134h-1z"/>
<path d="M1443 1099h1V1134h-1z"/>
<path d="M1443 1099h1V1134h-1z"/>
<path d="M1444 1116.5h1V1134h-1z"/>
<path d="M1445 1116.5h1V1134h-1z"/>
<path d="M1446 1125.5h1V1134h-1z"/>
<path d="M1447 1107.5h1V1134h-1z"/>
<path d="M1448 1125.5h1V1134h-1z"/>
<path d="M1448 1121h1V1134h-1z"/>
<path d="M1449 1099h1V1134h-1z"/>
<path d="M1450 1116.5h1V1134h-1z"/>
<path d="M1451 1107.5h1V1134h-1z"/>
<path d="M1452 1107.5h1V1134h-1z"/>
<path d="M1453 1107.5h1V1134h-1z"/>
<path d="M1453 1107.5h1V1134h-1z"/>
<path d="M1454 1121h1V1134h-1z"/>
<path d="M1455 1121h1V1134h-1z"/>
<path d="M1456 1112h1V1134h-1z"/>
<path d="M1457 1112h1V1134h-1z"/>
<path d="M1458 1107.5h1V1134h-1z"/>
<path d="M1459 1125.5h1V1134h-1z"/>
<path d="M1460 1121h1V1134h-1z"/>
<path d="M1461 1112h1V1134h-1z"/>
<path d="M1462 1116.5h1V1134h-1z"/>
<path d="M1462 1125.5h1V1134h-1z"/>
<path d="M1463 1103h1V1134h-1z"/>
<path d="M1464 1112h1V1134h-1z"/>
<path d="M1465 1121h1V1134h-1z"/>
<path d="M1466 1112h1V1134h-1z"/>
<path d="M1467 1116.5h1V1134h-1z"/>
<path d="M1467 1112h1V1134h-1z"/>
<path d="M1468 1112h1V1134h-1z"/>
<path d="M1469 1121h1V1134h-1z"/>
<path d="M1470 1112h1V1134h-1z"/>
<path d="M1471 1121h1V1134h-1z"/>
<path d="M1472 1116.5h1V1134h-1z"/>
<path d="M1472 1103h1V1134h-1z"/>
<path d="M1473 1125.5h1V1134h-1z"/>
<path d="M1474 1116.5h1V1134h-1z"/>
<path d="M1475 1107.5h1V1134h-1z"/>
<path d="M1476 1099h1V1134h-1z"/>
<path d="M1477 1112h1V1134h-1z"/>
<path d="M1478 1107.5h1V1134h-1z"/>
<path d="M1479 1116.5h1V1134h-1z"/>
<path d="M1480 1121h1V1134h-1z"/>
<path d="M1481 1116.5h1V1134h-1z"/>
<path d="M1481 1121h1V1134h-1z"/>
<path d="M1482 1121h1V1134h-1z"/>
<path d="M1483 1125.5h1V1134h-1z"/>
<path d="M1484 1121h1V1134h-1z"/>
<path d="M1485 1125.5h1V1134h-1z"/>
<path d="M1486 1116.5h1V1134h-1z"/>
<path d="M1486 1116.5h1V1134h-1z"/>
<path d="M1487 1125.5h1V1134h-1z"/>
<path d="M1488 1121h1V1134h-1z"/>
<path d="M1489 1112h1V1134h-1z"/>
<path d="M1490 1125.5h1V1134h-1z"/>
<path d="M1490 1103h1V1134h-1z"/>
<path d="M1492 1125.5h1V1134h-1z"/>
<path d="M1493 1116.5h1V1134h-1z"/>
<path d="M1494 1121h1V1134h-1z"/>
</g></g>
<clipPath id="cc"><rect x="173.5" y="100" width="1320.1" height="1031"/></clipPath>
<g fill="none" stroke-linejoin="round" clip-path="url(#cc)">
<path d="M176.92 1097.5 L177.71 1096.61 L178.5 1095.26 L179.29 1093.9 L180.09 1092.52 L180.88 1091.13 L181.68 1089.72 L182.48 1088.31 L183.28 1086.87 L184.08 1085.43 L184.89 1083.97 L185.69 1082.5 L186.5 1081.01 L187.31 1079.51 L188.12 1078 L188.93 1076.48 L189.74 1074.95 L190.56 1073.4 L191.37 1071.84 L192.18 1070.27 L193 1068.69 L193.82 1067.1 L194.64 1065.49 L195.45 1063.87 L196.27 1062.25 L197.09 1060.61 L197.92 1058.96 L198.74 1057.3 L199.56 1055.63 L200.38 1053.95 L201.21 1052.26 L202.03 1050.56 L202.86 1048.85 L203.68 1047.13 L204.51 1045.4 L205.33 1043.67 L206.16 1041.92 L206.99 1040.16 L207.82 1038.4 L208.64 1036.62 L209.47 1034.84 L210.3 1033.05 L211.13 1031.25 L211.96 1029.45 L212.79 1027.63 L213.62 1025.81 L214.45 1023.98 L215.28 1022.14 L216.12 1020.3 L216.95 1018.45 L217.78 1016.59 L218.61 1014.72 L219.45 1012.85 L220.28 1010.97 L221.11 1009.09 L221.94 1007.2 L222.78 1005.3 L223.61 1003.4 L224.45 1001.49 L225.28 999.57 L228.31 992.58 L231.34 985.53 L234.37 978.42 L237.4 971.27 L240.43 964.07 L243.47 956.83 L246.51 949.58 L249.54 942.3 L252.58 935.01 L255.62 927.72 L258.66 920.43 L261.7 913.15 L264.74 905.89 L267.78 898.66 L270.82 891.46 L273.86 884.3 L276.9 877.19 L279.94 870.13 L282.98 863.14 L286.02 856.22 L289.06 849.38 L292.1 842.62 L295.14 835.96 L298.18 829.39 L301.22 822.94 L304.27 816.59 L307.31 810.38 L310.35 804.29 L313.39 798.34 L316.43 792.53 L319.47 786.87 L322.51 781.34 L325.56 775.95 L328.6 770.69 L331.64 765.56 L334.68 760.55 L337.72 755.67 L340.76 750.9 L343.81 746.25 L346.85 741.7 L349.89 737.27 L352.93 732.94 L355.97 728.71 L359.01 724.58 L362.05 720.54 L365.1 716.59 L368.14 712.73 L371.18 708.96 L374.22 705.26 L377.26 701.64 L380.3 698.1 L383.35 694.62 L386.39 691.21 L389.43 687.88 L392.47 684.64 L395.51 681.48 L398.55 678.43 L401.6 675.49 L404.64 672.66 L407.68 669.97 L410.72 667.4 L413.76 664.99 L416.8 662.72 L419.85 660.61 L422.89 658.68 L425.93 656.92 L428.97 655.35 L432.01 653.97 L435.05 652.79 L438.1 651.83 L441.14 651.08 L444.18 650.53 L447.22 650.18 L450.26 650 L453.3 649.99 L456.35 650.14 L459.39 650.42 L462.43 650.84 L465.47 651.37 L468.51 652 L471.55 652.73 L474.6 653.55 L477.64 654.45 L480.68 655.42 L483.72 656.48 L486.76 657.61 L489.8 658.81 L492.84 660.08 L495.89 661.42 L498.93 662.82 L501.97 664.28 L505.01 665.8 L508.05 667.38 L511.09 669.01 L514.14 670.69 L517.18 672.43 L520.22 674.2 L523.26 676.02 L526.3 677.88 L529.34 679.78 L532.39 681.71 L535.43 683.68 L538.47 685.67 L541.51 687.7 L544.55 689.74 L547.59 691.81 L550.64 693.9 L553.68 696.01 L556.72 698.13 L559.76 700.26 L562.8 702.4 L565.84 704.56 L568.89 706.73 L571.93 708.92 L574.97 711.12 L578.01 713.34 L581.05 715.58 L584.09 717.84 L587.14 720.12 L590.18 722.42 L593.22 724.75 L596.26 727.1 L599.3 729.47 L602.34 731.88 L605.39 734.31 L608.43 736.76 L611.47 739.25 L614.51 741.77 L617.55 744.32 L620.59 746.91 L623.64 749.53 L626.68 752.18 L629.72 754.87 L632.76 757.6 L635.8 760.37 L638.84 763.18 L641.89 766.03 L644.93 768.92 L647.97 771.86 L651.01 774.83 L654.05 777.84 L657.09 780.9 L660.13 783.98 L663.18 787.1 L666.22 790.25 L669.26 793.43 L672.3 796.64 L675.34 799.87 L678.38 803.13 L681.43 806.41 L684.47 809.71 L687.51 813.02 L690.55 816.36 L693.59 819.7 L696.63 823.06 L699.68 826.43 L702.72 829.8 L705.76 833.19 L708.8 836.57 L711.84 839.96 L714.88 843.35 L717.93 846.74 L720.97 850.13 L724.01 853.51 L727.05 856.88 L730.09 860.25 L733.13 863.6 L736.18 866.94 L739.22 870.26 L742.26 873.57 L745.3 876.86 L748.34 880.13 L751.38 883.38 L754.43 886.6 L757.47 889.79 L760.51 892.96 L763.55 896.1 L766.59 899.2 L769.63 902.27 L772.68 905.31 L775.72 908.31 L778.76 911.27 L781.8 914.19 L784.84 917.07 L787.88 919.91 L790.93 922.7 L793.97 925.46 L797.01 928.16 L800.05 930.83 L803.09 933.44 L806.13 936.01 L809.17 938.53 L812.22 940.99 L815.26 943.41 L818.3 945.77 L821.34 948.08 L824.38 950.34 L827.42 952.54 L830.47 954.68 L833.51 956.77 L836.55 958.79 L839.59 960.76 L842.63 962.66 L845.67 964.5 L848.72 966.28 L851.76 968 L854.8 969.67 L857.84 971.29 L860.88 972.88 L863.92 974.44 L866.97 975.99 L870.01 977.51 L873.05 979.04 L876.09 980.56 L879.13 982.1 L882.17 983.66 L885.22 985.24 L888.26 986.85 L891.3 988.51 L894.34 990.21 L897.38 991.97 L900.42 993.79 L903.47 995.68 L906.51 997.63 L909.55 999.62 L912.59 1001.65 L915.63 1003.69 L918.67 1005.75 L921.72 1007.8 L924.76 1009.83 L927.8 1011.84 L930.84 1013.8 L933.88 1015.72 L936.92 1017.61 L939.97 1019.45 L943.01 1021.25 L946.05 1023.01 L949.09 1024.73 L952.13 1026.41 L955.17 1028.06 L958.22 1029.67 L961.26 1031.24 L964.3 1032.78 L967.34 1034.28 L970.38 1035.75 L973.42 1037.19 L976.46 1038.59 L979.51 1039.96 L982.55 1041.3 L985.59 1042.61 L988.63 1043.89 L991.67 1045.15 L994.71 1046.37 L997.76 1047.57 L1000.8 1048.74 L1003.84 1049.88 L1006.88 1051 L1009.92 1052.09 L1012.96 1053.17 L1016.01 1054.21 L1019.05 1055.24 L1022.09 1056.24 L1025.13 1057.23 L1028.17 1058.19 L1031.21 1059.13 L1034.26 1060.06 L1037.3 1060.96 L1040.34 1061.85 L1043.38 1062.73 L1046.42 1063.58 L1049.46 1064.43 L1052.51 1065.25 L1055.55 1066.07 L1058.59 1066.87 L1061.63 1067.66 L1064.67 1068.44 L1067.71 1069.2 L1070.76 1069.96 L1073.8 1070.71 L1076.84 1071.45 L1079.88 1072.18 L1082.92 1072.9 L1085.96 1073.62 L1089.01 1074.33 L1092.05 1075.04 L1095.09 1075.74 L1098.13 1076.44 L1101.17 1077.13 L1104.21 1077.82 L1107.26 1078.5 L1110.3 1079.18 L1113.34 1079.85 L1116.38 1080.52 L1119.42 1081.18 L1122.46 1081.84 L1125.5 1082.49 L1128.55 1083.13 L1131.59 1083.77 L1134.63 1084.41 L1137.67 1085.03 L1140.71 1085.65 L1143.75 1086.27 L1146.8 1086.88 L1149.84 1087.48 L1152.88 1088.08 L1155.92 1088.67 L1158.96 1089.25 L1162 1089.83 L1165.05 1090.4 L1168.09 1090.96 L1171.13 1091.52 L1174.17 1092.07 L1177.21 1092.61 L1180.25 1093.14 L1183.3 1093.67 L1186.34 1094.19 L1189.38 1094.7 L1192.42 1095.21 L1195.46 1095.71 L1198.5 1096.2 L1201.55 1096.68 L1204.59 1097.15 L1207.63 1097.62 L1210.67 1098.08 L1213.71 1098.53 L1216.75 1098.97 L1219.8 1099.4 L1222.84 1099.83 L1225.88 1100.24 L1228.92 1100.65 L1231.96 1101.05 L1235 1101.44 L1238.05 1101.83 L1241.09 1102.2 L1244.13 1102.56 L1247.17 1102.92 L1250.21 1103.26 L1253.25 1103.6 L1256.3 1103.93 L1259.34 1104.24 L1262.38 1104.55 L1265.42 1104.85 L1268.46 1105.14 L1271.5 1105.42 L1274.55 1105.69 L1277.59 1105.95 L1280.63 1106.19 L1283.67 1106.43 L1286.71 1106.66 L1289.75 1106.88 L1292.79 1107.09 L1295.84 1107.28 L1298.88 1107.47 L1301.92 1107.65 L1304.96 1107.81 L1308 1107.97 L1311.04 1108.11 L1314.09 1108.24 L1317.13 1108.36 L1320.17 1108.48 L1323.21 1108.58 L1326.25 1108.67 L1329.29 1108.76 L1332.34 1108.84 L1335.38 1108.91 L1338.42 1108.98 L1341.46 1109.05 L1344.5 1109.1 L1347.54 1109.16 L1350.59 1109.21 L1353.63 1109.26 L1356.67 1109.31 L1359.71 1109.36 L1362.75 1109.41 L1365.79 1109.46 L1368.84 1109.51 L1371.88 1109.57 L1374.92 1109.62 L1377.96 1109.68 L1381 1109.75 L1384.04 1109.82 L1387.09 1109.9 L1390.13 1109.98 L1393.17 1110.07 L1396.21 1110.17 L1399.25 1110.27 L1402.29 1110.39 L1405.34 1110.51 L1408.38 1110.65 L1411.42 1110.8 L1414.46 1110.96 L1417.5 1111.13 L1420.54 1111.32 L1423.59 1111.52 L1426.63 1111.74 L1429.67 1111.97 L1432.71 1112.22 L1435.75 1112.48 L1438.79 1112.77 L1441.84 1113.07 L1444.88 1113.39 L1447.92 1113.73 L1450.96 1114.1 L1454 1114.48 L1457.04 1114.89 L1460.08 1115.31 L1463.13 1115.77 L1466.17 1116.24 L1469.21 1116.75 L1472.25 1117.27 L1475.29 1117.83 L1478.33 1118.41 L1481.38 1119.02 L1484.42 1119.66 L1487.46 1120.32 L1490.5 1121.02 L1493.54 1121.75 L1496.58 1122.51 L1499.63 1123.3" stroke="#0000ff" stroke-width="5.8" stroke-opacity="0.25"/>
<path d="M176.92 1097.5 L177.71 1096.61 L178.5 1095.26 L179.29 1093.9 L180.09 1092.52 L180.88 1091.13 L181.68 1089.72 L182.48 1088.31 L183.28 1086.87 L184.08 1085.43 L184.89 1083.97 L185.69 1082.5 L186.5 1081.01 L187.31 1079.51 L188.12 1078 L188.93 1076.48 L189.74 1074.95 L190.56 1073.4 L191.37 1071.84 L192.18 1070.27 L193 1068.69 L193.82 1067.1 L194.64 1065.49 L195.45 1063.87 L196.27 1062.25 L197.09 1060.61 L197.92 1058.96 L198.74 1057.3 L199.56 1055.63 L200.38 1053.95 L201.21 1052.26 L202.03 1050.56 L202.86 1048.85 L203.68 1047.13 L204.51 1045.4 L205.33 1043.67 L206.16 1041.92 L206.99 1040.16 L207.82 1038.4 L208.64 1036.62 L209.47 1034.84 L210.3 1033.05 L211.13 1031.25 L211.96 1029.45 L212.79 1027.63 L213.62 1025.81 L214.45 1023.98 L215.28 1022.14 L216.12 1020.3 L216.95 1018.45 L217.78 1016.59 L218.61 1014.72 L219.45 1012.85 L220.28 1010.97 L221.11 1009.09 L221.94 1007.2 L222.78 1005.3 L223.61 1003.4 L224.45 1001.49 L225.28 999.57 L228.31 992.58 L231.34 985.53 L234.37 978.42 L237.4 971.27 L240.43 964.07 L243.47 956.83 L246.51 949.58 L249.54 942.3 L252.58 935.01 L255.62 927.72 L258.66 920.43 L261.7 913.15 L264.74 905.89 L267.78 898.66 L270.82 891.46 L273.86 884.3 L276.9 877.19 L279.94 870.13 L282.98 863.14 L286.02 856.22 L289.06 849.38 L292.1 842.62 L295.14 835.96 L298.18 829.39 L301.22 822.94 L304.27 816.59 L307.31 810.38 L310.35 804.29 L313.39 798.34 L316.43 792.53 L319.47 786.87 L322.51 781.34 L325.56 775.95 L328.6 770.69 L331.64 765.56 L334.68 760.55 L337.72 755.67 L340.76 750.9 L343.81 746.25 L346.85 741.7 L349.89 737.27 L352.93 732.94 L355.97 728.71 L359.01 724.58 L362.05 720.54 L365.1 716.59 L368.14 712.73 L371.18 708.96 L374.22 705.26 L377.26 701.64 L380.3 698.1 L383.35 694.62 L386.39 691.21 L389.43 687.88 L392.47 684.64 L395.51 681.48 L398.55 678.43 L401.6 675.49 L404.64 672.66 L407.68 669.97 L410.72 667.4 L413.76 664.99 L416.8 662.72 L419.85 660.61 L422.89 658.68 L425.93 656.92 L428.97 655.35 L432.01 653.97 L435.05 652.79 L438.1 651.83 L441.14 651.08 L444.18 650.53 L447.22 650.18 L450.26 650 L453.3 649.99 L456.35 650.14 L459.39 650.42 L462.43 650.84 L465.47 651.37 L468.51 652 L471.55 652.73 L474.6 653.55 L477.64 654.45 L480.68 655.42 L483.72 656.48 L486.76 657.61 L489.8 658.81 L492.84 660.08 L495.89 661.42 L498.93 662.82 L501.97 664.28 L505.01 665.8 L508.05 667.38 L511.09 669.01 L514.14 670.69 L517.18 672.43 L520.22 674.2 L523.26 676.02 L526.3 677.88 L529.34 679.78 L532.39 681.71 L535.43 683.68 L538.47 685.67 L541.51 687.7 L544.55 689.74 L547.59 691.81 L550.64 693.9 L553.68 696.01 L556.72 698.13 L559.76 700.26 L562.8 702.4 L565.84 704.56 L568.89 706.73 L571.93 708.92 L574.97 711.12 L578.01 713.34 L581.05 715.58 L584.09 717.84 L587.14 720.12 L590.18 722.42 L593.22 724.75 L596.26 727.1 L599.3 729.47 L602.34 731.88 L605.39 734.31 L608.43 736.76 L611.47 739.25 L614.51 741.77 L617.55 744.32 L620.59 746.91 L623.64 749.53 L626.68 752.18 L629.72 754.87 L632.76 757.6 L635.8 760.37 L638.84 763.18 L641.89 766.03 L644.93 768.92 L647.97 771.86 L651.01 774.83 L654.05 777.84 L657.09 780.9 L660.13 783.98 L663.18 787.1 L666.22 790.25 L669.26 793.43 L672.3 796.64 L675.34 799.87 L678.38 803.13 L681.43 806.41 L684.47 809.71 L687.51 813.02 L690.55 816.36 L693.59 819.7 L696.63 823.06 L699.68 826.43 L702.72 829.8 L705.76 833.19 L708.8 836.57 L711.84 839.96 L714.88 843.35 L717.93 846.74 L720.97 850.13 L724.01 853.51 L727.05 856.88 L730.09 860.25 L733.13 863.6 L736.18 866.94 L739.22 870.26 L742.26 873.57 L745.3 876.86 L748.34 880.13 L751.38 883.38 L754.43 886.6 L757.47 889.79 L760.51 892.96 L763.55 896.1 L766.59 899.2 L769.63 902.27 L772.68 905.31 L775.72 908.31 L778.76 911.27 L781.8 914.19 L784.84 917.07 L787.88 919.91 L790.93 922.7 L793.97 925.46 L797.01 928.16 L800.05 930.83 L803.09 933.44 L806.13 936.01 L809.17 938.53 L812.22 940.99 L815.26 943.41 L818.3 945.77 L821.34 948.08 L824.38 950.34 L827.42 952.54 L830.47 954.68 L833.51 956.77 L836.55 958.79 L839.59 960.76 L842.63 962.66 L845.67 964.5 L848.72 966.28 L851.76 968 L854.8 969.67 L857.84 971.29 L860.88 972.88 L863.92 974.44 L866.97 975.99 L870.01 977.51 L873.05 979.04 L876.09 980.56 L879.13 982.1 L882.17 983.66 L885.22 985.24 L888.26 986.85 L891.3 988.51 L894.34 990.21 L897.38 991.97 L900.42 993.79 L903.47 995.68 L906.51 997.63 L909.55 999.62 L912.59 1001.65 L915.63 1003.69 L918.67 1005.75 L921.72 1007.8 L924.76 1009.83 L927.8 1011.84 L930.84 1013.8 L933.88 1015.72 L936.92 1017.61 L939.97 1019.45 L943.01 1021.25 L946.05 1023.01 L949.09 1024.73 L952.13 1026.41 L955.17 1028.06 L958.22 1029.67 L961.26 1031.24 L964.3 1032.78 L967.34 1034.28 L970.38 1035.75 L973.42 1037.19 L976.46 1038.59 L979.51 1039.96 L982.55 1041.3 L985.59 1042.61 L988.63 1043.89 L991.67 1045.15 L994.71 1046.37 L997.76 1047.57 L1000.8 1048.74 L1003.84 1049.88 L1006.88 1051 L1009.92 1052.09 L1012.96 1053.17 L1016.01 1054.21 L1019.05 1055.24 L1022.09 1056.24 L1025.13 1057.23 L1028.17 1058.19 L1031.21 1059.13 L1034.26 1060.06 L1037.3 1060.96 L1040.34 1061.85 L1043.38 1062.73 L1046.42 1063.58 L1049.46 1064.43 L1052.51 1065.25 L1055.55 1066.07 L1058.59 1066.87 L1061.63 1067.66 L1064.67 1068.44 L1067.71 1069.2 L1070.76 1069.96 L1073.8 1070.71 L1076.84 1071.45 L1079.88 1072.18 L1082.92 1072.9 L1085.96 1073.62 L1089.01 1074.33 L1092.05 1075.04 L1095.09 1075.74 L1098.13 1076.44 L1101.17 1077.13 L1104.21 1077.82 L1107.26 1078.5 L1110.3 1079.18 L1113.34 1079.85 L1116.38 1080.52 L1119.42 1081.18 L1122.46 1081.84 L1125.5 1082.49 L1128.55 1083.13 L1131.59 1083.77 L1134.63 1084.41 L1137.67 1085.03 L1140.71 1085.65 L1143.75 1086.27 L1146.8 1086.88 L1149.84 1087.48 L1152.88 1088.08 L1155.92 1088.67 L1158.96 1089.25 L1162 1089.83 L1165.05 1090.4 L1168.09 1090.96 L1171.13 1091.52 L1174.17 1092.07 L1177.21 1092.61 L1180.25 1093.14 L1183.3 1093.67 L1186.34 1094.19 L1189.38 1094.7 L1192.42 1095.21 L1195.46 1095.71 L1198.5 1096.2 L1201.55 1096.68 L1204.59 1097.15 L1207.63 1097.62 L1210.67 1098.08 L1213.71 1098.53 L1216.75 1098.97 L1219.8 1099.4 L1222.84 1099.83 L1225.88 1100.24 L1228.92 1100.65 L1231.96 1101.05 L1235 1101.44 L1238.05 1101.83 L1241.09 1102.2 L1244.13 1102.56 L1247.17 1102.92 L1250.21 1103.26 L1253.25 1103.6 L1256.3 1103.93 L1259.34 1104.24 L1262.38 1104.55 L1265.42 1104.85 L1268.46 1105.14 L1271.5 1105.42 L1274.55 1105.69 L1277.59 1105.95 L1280.63 1106.19 L1283.67 1106.43 L1286.71 1106.66 L1289.75 1106.88 L1292.79 1107.09 L1295.84 1107.28 L1298.88 1107.47 L1301.92 1107.65 L1304.96 1107.81 L1308 1107.97 L1311.04 1108.11 L1314.09 1108.24 L1317.13 1108.36 L1320.17 1108.48 L1323.21 1108.58 L1326.25 1108.67 L1329.29 1108.76 L1332.34 1108.84 L1335.38 1108.91 L1338.42 1108.98 L1341.46 1109.05 L1344.5 1109.1 L1347.54 1109.16 L1350.59 1109.21 L1353.63 1109.26 L1356.67 1109.31 L1359.71 1109.36 L1362.75 1109.41 L1365.79 1109.46 L1368.84 1109.51 L1371.88 1109.57 L1374.92 1109.62 L1377.96 1109.68 L1381 1109.75 L1384.04 1109.82 L1387.09 1109.9 L1390.13 1109.98 L1393.17 1110.07 L1396.21 1110.17 L1399.25 1110.27 L1402.29 1110.39 L1405.34 1110.51 L1408.38 1110.65 L1411.42 1110.8 L1414.46 1110.96 L1417.5 1111.13 L1420.54 1111.32 L1423.59 1111.52 L1426.63 1111.74 L1429.67 1111.97 L1432.71 1112.22 L1435.75 1112.48 L1438.79 1112.77 L1441.84 1113.07 L1444.88 1113.39 L1447.92 1113.73 L1450.96 1114.1 L1454 1114.48 L1457.04 1114.89 L1460.08 1115.31 L1463.13 1115.77 L1466.17 1116.24 L1469.21 1116.75 L1472.25 1117.27 L1475.29 1117.83 L1478.33 1118.41 L1481.38 1119.02 L1484.42 1119.66 L1487.46 1120.32 L1490.5 1121.02 L1493.54 1121.75 L1496.58 1122.51 L1499.63 1123.3" stroke="#0000ff" stroke-width="4.0"/>
<path d="M177.02 1129.9 L177.79 1116.05 L178.57 1107.67 L179.35 1100.57 L180.13 1094.2 L180.92 1088.32 L181.71 1082.81 L182.5 1077.59 L183.29 1072.6 L184.09 1067.81 L184.89 1063.18 L185.68 1058.71 L186.49 1054.36 L187.29 1050.13 L188.09 1046.01 L188.9 1041.98 L189.71 1038.04 L190.52 1034.18 L191.33 1030.4 L192.14 1026.68 L192.96 1023.03 L193.77 1019.45 L194.59 1015.92 L195.41 1012.44 L196.22 1009.02 L197.04 1005.64 L197.86 1002.31 L198.68 999.03 L199.51 995.79 L200.33 992.59 L201.15 989.43 L201.98 986.3 L202.8 983.22 L203.63 980.16 L204.45 977.15 L205.28 974.16 L206.11 971.21 L206.94 968.28 L207.76 965.39 L208.59 962.53 L209.42 959.69 L210.25 956.88 L211.08 954.1 L211.91 951.34 L212.74 948.61 L213.58 945.91 L214.41 943.23 L215.24 940.57 L216.07 937.93 L216.91 935.32 L217.74 932.73 L218.57 930.16 L219.41 927.62 L220.24 925.09 L221.07 922.58 L221.91 920.1 L222.74 917.63 L223.58 915.19 L224.41 912.76 L225.25 910.35 L228.28 901.77 L231.31 893.42 L234.34 885.29 L237.38 877.37 L240.41 869.65 L243.45 862.13 L246.49 854.79 L249.53 847.64 L252.57 840.66 L255.61 833.85 L258.65 827.21 L261.69 820.73 L264.73 814.41 L267.77 808.25 L270.81 802.23 L273.85 796.36 L276.89 790.64 L279.93 785.06 L282.97 779.63 L286.02 774.32 L289.06 769.16 L292.1 764.13 L295.14 759.23 L298.18 754.45 L301.22 749.81 L304.26 745.29 L307.31 740.9 L310.35 736.63 L313.39 732.48 L316.43 728.44 L319.47 724.53 L322.51 720.73 L325.56 717.05 L328.6 713.48 L331.64 710.03 L334.68 706.68 L337.72 703.44 L340.76 700.32 L343.8 697.3 L346.85 694.38 L349.89 691.57 L352.93 688.87 L355.97 686.26 L359.01 683.76 L362.05 681.36 L365.1 679.06 L368.14 676.85 L371.18 674.74 L374.22 672.73 L377.26 670.81 L380.3 668.98 L383.35 667.25 L386.39 665.61 L389.43 664.05 L392.47 662.59 L395.51 661.22 L398.55 659.93 L401.6 658.72 L404.64 657.61 L407.68 656.57 L410.72 655.62 L413.76 654.75 L416.8 653.96 L419.85 653.25 L422.89 652.62 L425.93 652.07 L428.97 651.59 L432.01 651.19 L435.05 650.86 L438.1 650.61 L441.14 650.42 L444.18 650.31 L447.22 650.27 L450.26 650.3 L453.3 650.4 L456.35 650.56 L459.39 650.79 L462.43 651.09 L465.47 651.45 L468.51 651.87 L471.55 652.36 L474.6 652.9 L477.64 653.51 L480.68 654.17 L483.72 654.9 L486.76 655.68 L489.8 656.51 L492.84 657.41 L495.89 658.35 L498.93 659.35 L501.97 660.4 L505.01 661.51 L508.05 662.66 L511.09 663.86 L514.14 665.11 L517.18 666.41 L520.22 667.76 L523.26 669.15 L526.3 670.59 L529.34 672.06 L532.39 673.59 L535.43 675.15 L538.47 676.76 L541.51 678.4 L544.55 680.09 L547.59 681.81 L550.64 683.57 L553.68 685.37 L556.72 687.2 L559.76 689.07 L562.8 690.97 L565.84 692.91 L568.89 694.87 L571.93 696.87 L574.97 698.9 L578.01 700.96 L581.05 703.05 L584.09 705.16 L587.14 707.31 L590.18 709.48 L593.22 711.67 L596.26 713.89 L599.3 716.14 L602.34 718.4 L605.39 720.69 L608.43 723.01 L611.47 725.34 L614.51 727.69 L617.55 730.06 L620.59 732.46 L623.64 734.87 L626.68 737.29 L629.72 739.74 L632.76 742.2 L635.8 744.67 L638.84 747.16 L641.89 749.66 L644.93 752.18 L647.97 754.71 L651.01 757.25 L654.05 759.8 L657.09 762.37 L660.13 764.94 L663.18 767.52 L666.22 770.11 L669.26 772.71 L672.3 775.32 L675.34 777.93 L678.38 780.55 L681.43 783.18 L684.47 785.81 L687.51 788.45 L690.55 791.09 L693.59 793.73 L696.63 796.38 L699.68 799.03 L702.72 801.68 L705.76 804.34 L708.8 806.99 L711.84 809.65 L714.88 812.3 L717.93 814.96 L720.97 817.61 L724.01 820.27 L727.05 822.92 L730.09 825.57 L733.13 828.21 L736.18 830.86 L739.22 833.5 L742.26 836.13 L745.3 838.77 L748.34 841.39 L751.38 844.02 L754.43 846.64 L757.47 849.25 L760.51 851.85 L763.55 854.45 L766.59 857.04 L769.63 859.63 L772.68 862.21 L775.72 864.78 L778.76 867.34 L781.8 869.89 L784.84 872.44 L787.88 874.97 L790.93 877.5 L793.97 880.02 L797.01 882.52 L800.05 885.02 L803.09 887.51 L806.13 889.98 L809.17 892.45 L812.22 894.9 L815.26 897.34 L818.3 899.77 L821.34 902.19 L824.38 904.6 L827.42 907 L830.47 909.38 L833.51 911.75 L836.55 914.11 L839.59 916.45 L842.63 918.78 L845.67 921.1 L848.72 923.4 L851.76 925.69 L854.8 927.97 L857.84 930.23 L860.88 932.48 L863.92 934.72 L866.97 936.94 L870.01 939.15 L873.05 941.34 L876.09 943.51 L879.13 945.68 L882.17 947.82 L885.22 949.96 L888.26 952.07 L891.3 954.18 L894.34 956.26 L897.38 958.33 L900.42 960.39 L903.47 962.43 L906.51 964.46 L909.55 966.47 L912.59 968.46 L915.63 970.44 L918.67 972.4 L921.72 974.35 L924.76 976.28 L927.8 978.19 L930.84 980.09 L933.88 981.98 L936.92 983.85 L939.97 985.7 L943.01 987.53 L946.05 989.35 L949.09 991.16 L952.13 992.94 L955.17 994.72 L958.22 996.47 L961.26 998.21 L964.3 999.94 L967.34 1001.65 L970.38 1003.34 L973.42 1005.01 L976.46 1006.68 L979.51 1008.32 L982.55 1009.95 L985.59 1011.56 L988.63 1013.16 L991.67 1014.74 L994.71 1016.31 L997.76 1017.86 L1000.8 1019.39 L1003.84 1020.91 L1006.88 1022.42 L1009.92 1023.91 L1012.96 1025.38 L1016.01 1026.84 L1019.05 1028.28 L1022.09 1029.71 L1025.13 1031.12 L1028.17 1032.52 L1031.21 1033.9 L1034.26 1035.26 L1037.3 1036.62 L1040.34 1037.95 L1043.38 1039.28 L1046.42 1040.59 L1049.46 1041.88 L1052.51 1043.16 L1055.55 1044.42 L1058.59 1045.67 L1061.63 1046.91 L1064.67 1048.13 L1067.71 1049.34 L1070.76 1050.53 L1073.8 1051.71 L1076.84 1052.88 L1079.88 1054.03 L1082.92 1055.17 L1085.96 1056.29 L1089.01 1057.4 L1092.05 1058.5 L1095.09 1059.59 L1098.13 1060.66 L1101.17 1061.72 L1104.21 1062.76 L1107.26 1063.79 L1110.3 1064.81 L1113.34 1065.82 L1116.38 1066.82 L1119.42 1067.8 L1122.46 1068.77 L1125.5 1069.72 L1128.55 1070.67 L1131.59 1071.6 L1134.63 1072.52 L1137.67 1073.43 L1140.71 1074.33 L1143.75 1075.21 L1146.8 1076.09 L1149.84 1076.95 L1152.88 1077.8 L1155.92 1078.64 L1158.96 1079.46 L1162 1080.28 L1165.05 1081.09 L1168.09 1081.88 L1171.13 1082.67 L1174.17 1083.44 L1177.21 1084.2 L1180.25 1084.95 L1183.3 1085.7 L1186.34 1086.43 L1189.38 1087.15 L1192.42 1087.86 L1195.46 1088.56 L1198.5 1089.25 L1201.55 1089.94 L1204.59 1090.61 L1207.63 1091.27 L1210.67 1091.92 L1213.71 1092.57 L1216.75 1093.2 L1219.8 1093.83 L1222.84 1094.44 L1225.88 1095.05 L1228.92 1095.65 L1231.96 1096.24 L1235 1096.82 L1238.05 1097.39 L1241.09 1097.95 L1244.13 1098.51 L1247.17 1099.05 L1250.21 1099.59 L1253.25 1100.12 L1256.3 1100.65 L1259.34 1101.16 L1262.38 1101.67 L1265.42 1102.17 L1268.46 1102.66 L1271.5 1103.14 L1274.55 1103.62 L1277.59 1104.09 L1280.63 1104.55 L1283.67 1105 L1286.71 1105.45 L1289.75 1105.89 L1292.79 1106.32 L1295.84 1106.75 L1298.88 1107.17 L1301.92 1107.58 L1304.96 1107.99 L1308 1108.39 L1311.04 1108.78 L1314.09 1109.17 L1317.13 1109.55 L1320.17 1109.93 L1323.21 1110.3 L1326.25 1110.66 L1329.29 1111.02 L1332.34 1111.37 L1335.38 1111.71 L1338.42 1112.05 L1341.46 1112.39 L1344.5 1112.71 L1347.54 1113.04 L1350.59 1113.35 L1353.63 1113.67 L1356.67 1113.97 L1359.71 1114.28 L1362.75 1114.57 L1365.79 1114.86 L1368.84 1115.15 L1371.88 1115.43 L1374.92 1115.71 L1377.96 1115.98 L1381 1116.25 L1384.04 1116.51 L1387.09 1116.77 L1390.13 1117.03 L1393.17 1117.28 L1396.21 1117.52 L1399.25 1117.76 L1402.29 1118 L1405.34 1118.23 L1408.38 1118.46 L1411.42 1118.69 L1414.46 1118.91 L1417.5 1119.12 L1420.54 1119.34 L1423.59 1119.54 L1426.63 1119.75 L1429.67 1119.95 L1432.71 1120.15 L1435.75 1120.34 L1438.79 1120.54 L1441.84 1120.72 L1444.88 1120.91 L1447.92 1121.09 L1450.96 1121.27 L1454 1121.44 L1457.04 1121.61 L1460.08 1121.78 L1463.13 1121.94 L1466.17 1122.11 L1469.21 1122.26 L1472.25 1122.42 L1475.29 1122.57 L1478.33 1122.72 L1481.38 1122.87 L1484.42 1123.02 L1487.46 1123.16 L1490.5 1123.3 L1493.54 1123.43 L1496.58 1123.57 L1499.63 1123.7" stroke="#ff0000" stroke-width="5.8" stroke-opacity="0.25" stroke-dasharray="18.5 17.42" stroke-dashoffset="0"/>
<path d="M177.02 1129.9 L177.79 1116.05 L178.57 1107.67 L179.35 1100.57 L180.13 1094.2 L180.92 1088.32 L181.71 1082.81 L182.5 1077.59 L183.29 1072.6 L184.09 1067.81 L184.89 1063.18 L185.68 1058.71 L186.49 1054.36 L187.29 1050.13 L188.09 1046.01 L188.9 1041.98 L189.71 1038.04 L190.52 1034.18 L191.33 1030.4 L192.14 1026.68 L192.96 1023.03 L193.77 1019.45 L194.59 1015.92 L195.41 1012.44 L196.22 1009.02 L197.04 1005.64 L197.86 1002.31 L198.68 999.03 L199.51 995.79 L200.33 992.59 L201.15 989.43 L201.98 986.3 L202.8 983.22 L203.63 980.16 L204.45 977.15 L205.28 974.16 L206.11 971.21 L206.94 968.28 L207.76 965.39 L208.59 962.53 L209.42 959.69 L210.25 956.88 L211.08 954.1 L211.91 951.34 L212.74 948.61 L213.58 945.91 L214.41 943.23 L215.24 940.57 L216.07 937.93 L216.91 935.32 L217.74 932.73 L218.57 930.16 L219.41 927.62 L220.24 925.09 L221.07 922.58 L221.91 920.1 L222.74 917.63 L223.58 915.19 L224.41 912.76 L225.25 910.35 L228.28 901.77 L231.31 893.42 L234.34 885.29 L237.38 877.37 L240.41 869.65 L243.45 862.13 L246.49 854.79 L249.53 847.64 L252.57 840.66 L255.61 833.85 L258.65 827.21 L261.69 820.73 L264.73 814.41 L267.77 808.25 L270.81 802.23 L273.85 796.36 L276.89 790.64 L279.93 785.06 L282.97 779.63 L286.02 774.32 L289.06 769.16 L292.1 764.13 L295.14 759.23 L298.18 754.45 L301.22 749.81 L304.26 745.29 L307.31 740.9 L310.35 736.63 L313.39 732.48 L316.43 728.44 L319.47 724.53 L322.51 720.73 L325.56 717.05 L328.6 713.48 L331.64 710.03 L334.68 706.68 L337.72 703.44 L340.76 700.32 L343.8 697.3 L346.85 694.38 L349.89 691.57 L352.93 688.87 L355.97 686.26 L359.01 683.76 L362.05 681.36 L365.1 679.06 L368.14 676.85 L371.18 674.74 L374.22 672.73 L377.26 670.81 L380.3 668.98 L383.35 667.25 L386.39 665.61 L389.43 664.05 L392.47 662.59 L395.51 661.22 L398.55 659.93 L401.6 658.72 L404.64 657.61 L407.68 656.57 L410.72 655.62 L413.76 654.75 L416.8 653.96 L419.85 653.25 L422.89 652.62 L425.93 652.07 L428.97 651.59 L432.01 651.19 L435.05 650.86 L438.1 650.61 L441.14 650.42 L444.18 650.31 L447.22 650.27 L450.26 650.3 L453.3 650.4 L456.35 650.56 L459.39 650.79 L462.43 651.09 L465.47 651.45 L468.51 651.87 L471.55 652.36 L474.6 652.9 L477.64 653.51 L480.68 654.17 L483.72 654.9 L486.76 655.68 L489.8 656.51 L492.84 657.41 L495.89 658.35 L498.93 659.35 L501.97 660.4 L505.01 661.51 L508.05 662.66 L511.09 663.86 L514.14 665.11 L517.18 666.41 L520.22 667.76 L523.26 669.15 L526.3 670.59 L529.34 672.06 L532.39 673.59 L535.43 675.15 L538.47 676.76 L541.51 678.4 L544.55 680.09 L547.59 681.81 L550.64 683.57 L553.68 685.37 L556.72 687.2 L559.76 689.07 L562.8 690.97 L565.84 692.91 L568.89 694.87 L571.93 696.87 L574.97 698.9 L578.01 700.96 L581.05 703.05 L584.09 705.16 L587.14 707.31 L590.18 709.48 L593.22 711.67 L596.26 713.89 L599.3 716.14 L602.34 718.4 L605.39 720.69 L608.43 723.01 L611.47 725.34 L614.51 727.69 L617.55 730.06 L620.59 732.46 L623.64 734.87 L626.68 737.29 L629.72 739.74 L632.76 742.2 L635.8 744.67 L638.84 747.16 L641.89 749.66 L644.93 752.18 L647.97 754.71 L651.01 757.25 L654.05 759.8 L657.09 762.37 L660.13 764.94 L663.18 767.52 L666.22 770.11 L669.26 772.71 L672.3 775.32 L675.34 777.93 L678.38 780.55 L681.43 783.18 L684.47 785.81 L687.51 788.45 L690.55 791.09 L693.59 793.73 L696.63 796.38 L699.68 799.03 L702.72 801.68 L705.76 804.34 L708.8 806.99 L711.84 809.65 L714.88 812.3 L717.93 814.96 L720.97 817.61 L724.01 820.27 L727.05 822.92 L730.09 825.57 L733.13 828.21 L736.18 830.86 L739.22 833.5 L742.26 836.13 L745.3 838.77 L748.34 841.39 L751.38 844.02 L754.43 846.64 L757.47 849.25 L760.51 851.85 L763.55 854.45 L766.59 857.04 L769.63 859.63 L772.68 862.21 L775.72 864.78 L778.76 867.34 L781.8 869.89 L784.84 872.44 L787.88 874.97 L790.93 877.5 L793.97 880.02 L797.01 882.52 L800.05 885.02 L803.09 887.51 L806.13 889.98 L809.17 892.45 L812.22 894.9 L815.26 897.34 L818.3 899.77 L821.34 902.19 L824.38 904.6 L827.42 907 L830.47 909.38 L833.51 911.75 L836.55 914.11 L839.59 916.45 L842.63 918.78 L845.67 921.1 L848.72 923.4 L851.76 925.69 L854.8 927.97 L857.84 930.23 L860.88 932.48 L863.92 934.72 L866.97 936.94 L870.01 939.15 L873.05 941.34 L876.09 943.51 L879.13 945.68 L882.17 947.82 L885.22 949.96 L888.26 952.07 L891.3 954.18 L894.34 956.26 L897.38 958.33 L900.42 960.39 L903.47 962.43 L906.51 964.46 L909.55 966.47 L912.59 968.46 L915.63 970.44 L918.67 972.4 L921.72 974.35 L924.76 976.28 L927.8 978.19 L930.84 980.09 L933.88 981.98 L936.92 983.85 L939.97 985.7 L943.01 987.53 L946.05 989.35 L949.09 991.16 L952.13 992.94 L955.17 994.72 L958.22 996.47 L961.26 998.21 L964.3 999.94 L967.34 1001.65 L970.38 1003.34 L973.42 1005.01 L976.46 1006.68 L979.51 1008.32 L982.55 1009.95 L985.59 1011.56 L988.63 1013.16 L991.67 1014.74 L994.71 1016.31 L997.76 1017.86 L1000.8 1019.39 L1003.84 1020.91 L1006.88 1022.42 L1009.92 1023.91 L1012.96 1025.38 L1016.01 1026.84 L1019.05 1028.28 L1022.09 1029.71 L1025.13 1031.12 L1028.17 1032.52 L1031.21 1033.9 L1034.26 1035.26 L1037.3 1036.62 L1040.34 1037.95 L1043.38 1039.28 L1046.42 1040.59 L1049.46 1041.88 L1052.51 1043.16 L1055.55 1044.42 L1058.59 1045.67 L1061.63 1046.91 L1064.67 1048.13 L1067.71 1049.34 L1070.76 1050.53 L1073.8 1051.71 L1076.84 1052.88 L1079.88 1054.03 L1082.92 1055.17 L1085.96 1056.29 L1089.01 1057.4 L1092.05 1058.5 L1095.09 1059.59 L1098.13 1060.66 L1101.17 1061.72 L1104.21 1062.76 L1107.26 1063.79 L1110.3 1064.81 L1113.34 1065.82 L1116.38 1066.82 L1119.42 1067.8 L1122.46 1068.77 L1125.5 1069.72 L1128.55 1070.67 L1131.59 1071.6 L1134.63 1072.52 L1137.67 1073.43 L1140.71 1074.33 L1143.75 1075.21 L1146.8 1076.09 L1149.84 1076.95 L1152.88 1077.8 L1155.92 1078.64 L1158.96 1079.46 L1162 1080.28 L1165.05 1081.09 L1168.09 1081.88 L1171.13 1082.67 L1174.17 1083.44 L1177.21 1084.2 L1180.25 1084.95 L1183.3 1085.7 L1186.34 1086.43 L1189.38 1087.15 L1192.42 1087.86 L1195.46 1088.56 L1198.5 1089.25 L1201.55 1089.94 L1204.59 1090.61 L1207.63 1091.27 L1210.67 1091.92 L1213.71 1092.57 L1216.75 1093.2 L1219.8 1093.83 L1222.84 1094.44 L1225.88 1095.05 L1228.92 1095.65 L1231.96 1096.24 L1235 1096.82 L1238.05 1097.39 L1241.09 1097.95 L1244.13 1098.51 L1247.17 1099.05 L1250.21 1099.59 L1253.25 1100.12 L1256.3 1100.65 L1259.34 1101.16 L1262.38 1101.67 L1265.42 1102.17 L1268.46 1102.66 L1271.5 1103.14 L1274.55 1103.62 L1277.59 1104.09 L1280.63 1104.55 L1283.67 1105 L1286.71 1105.45 L1289.75 1105.89 L1292.79 1106.32 L1295.84 1106.75 L1298.88 1107.17 L1301.92 1107.58 L1304.96 1107.99 L1308 1108.39 L1311.04 1108.78 L1314.09 1109.17 L1317.13 1109.55 L1320.17 1109.93 L1323.21 1110.3 L1326.25 1110.66 L1329.29 1111.02 L1332.34 1111.37 L1335.38 1111.71 L1338.42 1112.05 L1341.46 1112.39 L1344.5 1112.71 L1347.54 1113.04 L1350.59 1113.35 L1353.63 1113.67 L1356.67 1113.97 L1359.71 1114.28 L1362.75 1114.57 L1365.79 1114.86 L1368.84 1115.15 L1371.88 1115.43 L1374.92 1115.71 L1377.96 1115.98 L1381 1116.25 L1384.04 1116.51 L1387.09 1116.77 L1390.13 1117.03 L1393.17 1117.28 L1396.21 1117.52 L1399.25 1117.76 L1402.29 1118 L1405.34 1118.23 L1408.38 1118.46 L1411.42 1118.69 L1414.46 1118.91 L1417.5 1119.12 L1420.54 1119.34 L1423.59 1119.54 L1426.63 1119.75 L1429.67 1119.95 L1432.71 1120.15 L1435.75 1120.34 L1438.79 1120.54 L1441.84 1120.72 L1444.88 1120.91 L1447.92 1121.09 L1450.96 1121.27 L1454 1121.44 L1457.04 1121.61 L1460.08 1121.78 L1463.13 1121.94 L1466.17 1122.11 L1469.21 1122.26 L1472.25 1122.42 L1475.29 1122.57 L1478.33 1122.72 L1481.38 1122.87 L1484.42 1123.02 L1487.46 1123.16 L1490.5 1123.3 L1493.54 1123.43 L1496.58 1123.57 L1499.63 1123.7" stroke="#ff0000" stroke-width="4.0" stroke-dasharray="18.5 17.42" stroke-dashoffset="0"/>
<path d="M178.92 1129.9 L179.58 1128.2 L180.25 1126.49 L180.94 1124.79 L181.63 1123.08 L182.32 1121.38 L183.03 1119.67 L183.74 1117.97 L184.46 1116.27 L185.19 1114.56 L185.92 1112.86 L186.66 1111.15 L187.4 1109.45 L188.15 1107.75 L188.91 1106.05 L189.67 1104.34 L190.43 1102.64 L191.2 1100.94 L191.97 1099.24 L192.74 1097.54 L193.52 1095.84 L194.3 1094.14 L195.09 1092.44 L195.87 1090.74 L196.66 1089.04 L197.46 1087.35 L198.25 1085.65 L199.05 1083.95 L199.85 1082.26 L200.65 1080.56 L201.46 1078.87 L202.26 1077.18 L203.07 1075.48 L203.88 1073.79 L204.69 1072.1 L205.5 1070.41 L206.32 1068.72 L207.13 1067.03 L207.95 1065.34 L208.77 1063.66 L209.59 1061.97 L210.41 1060.28 L211.23 1058.6 L212.05 1056.92 L212.87 1055.24 L213.7 1053.55 L214.52 1051.87 L215.35 1050.19 L216.17 1048.52 L217 1046.84 L217.83 1045.16 L218.65 1043.49 L219.48 1041.82 L220.31 1040.15 L221.14 1038.47 L221.97 1036.81 L222.8 1035.14 L223.63 1033.47 L224.46 1031.8 L225.3 1030.14 L228.32 1024.11 L231.34 1018.11 L234.37 1012.12 L237.4 1006.16 L240.43 1000.22 L243.46 994.3 L246.5 988.4 L249.54 982.53 L252.57 976.69 L255.61 970.88 L258.65 965.1 L261.69 959.34 L264.73 953.62 L267.77 947.93 L270.81 942.27 L273.85 936.64 L276.89 931.05 L279.93 925.5 L282.97 919.98 L286.02 914.5 L289.06 909.06 L292.1 903.65 L295.14 898.29 L298.18 892.97 L301.22 887.69 L304.26 882.46 L307.31 877.26 L310.35 872.12 L313.39 867.02 L316.43 861.96 L319.47 856.95 L322.51 851.99 L325.56 847.08 L328.6 842.22 L331.64 837.41 L334.68 832.65 L337.72 827.94 L340.76 823.28 L343.8 818.68 L346.85 814.13 L349.89 809.63 L352.93 805.19 L355.97 800.81 L359.01 796.48 L362.05 792.21 L365.1 787.99 L368.14 783.83 L371.18 779.74 L374.22 775.7 L377.26 771.72 L380.3 767.8 L383.35 763.94 L386.39 760.14 L389.43 756.4 L392.47 752.73 L395.51 749.11 L398.55 745.56 L401.6 742.07 L404.64 738.65 L407.68 735.29 L410.72 731.99 L413.76 728.76 L416.8 725.59 L419.85 722.49 L422.89 719.45 L425.93 716.48 L428.97 713.57 L432.01 710.73 L435.05 707.95 L438.1 705.24 L441.14 702.6 L444.18 700.02 L447.22 697.51 L450.26 695.07 L453.3 692.69 L456.35 690.38 L459.39 688.14 L462.43 685.96 L465.47 683.85 L468.51 681.81 L471.55 679.83 L474.6 677.92 L477.64 676.08 L480.68 674.31 L483.72 672.6 L486.76 670.95 L489.8 669.38 L492.84 667.87 L495.89 666.42 L498.93 665.05 L501.97 663.73 L505.01 662.49 L508.05 661.31 L511.09 660.19 L514.14 659.14 L517.18 658.15 L520.22 657.23 L523.26 656.37 L526.3 655.58 L529.34 654.85 L532.39 654.18 L535.43 653.58 L538.47 653.03 L541.51 652.55 L544.55 652.14 L547.59 651.78 L550.64 651.49 L553.68 651.25 L556.72 651.08 L559.76 650.96 L562.8 650.91 L565.84 650.91 L568.89 650.98 L571.93 651.1 L574.97 651.27 L578.01 651.51 L581.05 651.8 L584.09 652.15 L587.14 652.55 L590.18 653.01 L593.22 653.52 L596.26 654.09 L599.3 654.71 L602.34 655.38 L605.39 656.11 L608.43 656.88 L611.47 657.71 L614.51 658.59 L617.55 659.52 L620.59 660.49 L623.64 661.52 L626.68 662.59 L629.72 663.71 L632.76 664.88 L635.8 666.09 L638.84 667.35 L641.89 668.66 L644.93 670.01 L647.97 671.4 L651.01 672.83 L654.05 674.31 L657.09 675.82 L660.13 677.38 L663.18 678.98 L666.22 680.62 L669.26 682.3 L672.3 684.01 L675.34 685.76 L678.38 687.55 L681.43 689.38 L684.47 691.24 L687.51 693.13 L690.55 695.06 L693.59 697.02 L696.63 699.01 L699.68 701.04 L702.72 703.1 L705.76 705.18 L708.8 707.3 L711.84 709.45 L714.88 711.62 L717.93 713.82 L720.97 716.05 L724.01 718.3 L727.05 720.58 L730.09 722.89 L733.13 725.22 L736.18 727.57 L739.22 729.94 L742.26 732.34 L745.3 734.76 L748.34 737.2 L751.38 739.65 L754.43 742.13 L757.47 744.63 L760.51 747.14 L763.55 749.67 L766.59 752.22 L769.63 754.78 L772.68 757.36 L775.72 759.95 L778.76 762.56 L781.8 765.18 L784.84 767.81 L787.88 770.46 L790.93 773.12 L793.97 775.78 L797.01 778.46 L800.05 781.15 L803.09 783.84 L806.13 786.55 L809.17 789.26 L812.22 791.98 L815.26 794.7 L818.3 797.43 L821.34 800.17 L824.38 802.91 L827.42 805.66 L830.47 808.41 L833.51 811.16 L836.55 813.91 L839.59 816.67 L842.63 819.43 L845.67 822.19 L848.72 824.95 L851.76 827.71 L854.8 830.47 L857.84 833.23 L860.88 835.98 L863.92 838.74 L866.97 841.49 L870.01 844.24 L873.05 846.98 L876.09 849.73 L879.13 852.46 L882.17 855.2 L885.22 857.93 L888.26 860.65 L891.3 863.36 L894.34 866.07 L897.38 868.78 L900.42 871.47 L903.47 874.16 L906.51 876.84 L909.55 879.51 L912.59 882.17 L915.63 884.83 L918.67 887.47 L921.72 890.1 L924.76 892.73 L927.8 895.34 L930.84 897.95 L933.88 900.54 L936.92 903.12 L939.97 905.69 L943.01 908.24 L946.05 910.79 L949.09 913.32 L952.13 915.84 L955.17 918.34 L958.22 920.84 L961.26 923.32 L964.3 925.78 L967.34 928.23 L970.38 930.67 L973.42 933.09 L976.46 935.5 L979.51 937.89 L982.55 940.27 L985.59 942.63 L988.63 944.98 L991.67 947.31 L994.71 949.63 L997.76 951.93 L1000.8 954.21 L1003.84 956.48 L1006.88 958.73 L1009.92 960.96 L1012.96 963.18 L1016.01 965.38 L1019.05 967.56 L1022.09 969.73 L1025.13 971.88 L1028.17 974.01 L1031.21 976.13 L1034.26 978.22 L1037.3 980.3 L1040.34 982.36 L1043.38 984.41 L1046.42 986.43 L1049.46 988.44 L1052.51 990.43 L1055.55 992.41 L1058.59 994.36 L1061.63 996.3 L1064.67 998.22 L1067.71 1000.12 L1070.76 1002 L1073.8 1003.87 L1076.84 1005.71 L1079.88 1007.54 L1082.92 1009.35 L1085.96 1011.14 L1089.01 1012.92 L1092.05 1014.67 L1095.09 1016.41 L1098.13 1018.13 L1101.17 1019.83 L1104.21 1021.51 L1107.26 1023.18 L1110.3 1024.82 L1113.34 1026.45 L1116.38 1028.07 L1119.42 1029.66 L1122.46 1031.23 L1125.5 1032.79 L1128.55 1034.33 L1131.59 1035.85 L1134.63 1037.36 L1137.67 1038.85 L1140.71 1040.31 L1143.75 1041.77 L1146.8 1043.2 L1149.84 1044.62 L1152.88 1046.02 L1155.92 1047.4 L1158.96 1048.77 L1162 1050.12 L1165.05 1051.45 L1168.09 1052.76 L1171.13 1054.06 L1174.17 1055.35 L1177.21 1056.61 L1180.25 1057.86 L1183.3 1059.09 L1186.34 1060.31 L1189.38 1061.51 L1192.42 1062.7 L1195.46 1063.86 L1198.5 1065.02 L1201.55 1066.15 L1204.59 1067.28 L1207.63 1068.38 L1210.67 1069.47 L1213.71 1070.55 L1216.75 1071.61 L1219.8 1072.66 L1222.84 1073.69 L1225.88 1074.7 L1228.92 1075.7 L1231.96 1076.69 L1235 1077.66 L1238.05 1078.62 L1241.09 1079.57 L1244.13 1080.5 L1247.17 1081.42 L1250.21 1082.32 L1253.25 1083.21 L1256.3 1084.08 L1259.34 1084.95 L1262.38 1085.8 L1265.42 1086.63 L1268.46 1087.46 L1271.5 1088.27 L1274.55 1089.06 L1277.59 1089.85 L1280.63 1090.62 L1283.67 1091.38 L1286.71 1092.13 L1289.75 1092.87 L1292.79 1093.59 L1295.84 1094.31 L1298.88 1095.01 L1301.92 1095.7 L1304.96 1096.38 L1308 1097.04 L1311.04 1097.7 L1314.09 1098.35 L1317.13 1098.98 L1320.17 1099.6 L1323.21 1100.22 L1326.25 1100.82 L1329.29 1101.41 L1332.34 1102 L1335.38 1102.57 L1338.42 1103.13 L1341.46 1103.68 L1344.5 1104.23 L1347.54 1104.76 L1350.59 1105.28 L1353.63 1105.8 L1356.67 1106.3 L1359.71 1106.8 L1362.75 1107.29 L1365.79 1107.77 L1368.84 1108.24 L1371.88 1108.7 L1374.92 1109.15 L1377.96 1109.6 L1381 1110.03 L1384.04 1110.46 L1387.09 1110.88 L1390.13 1111.3 L1393.17 1111.7 L1396.21 1112.1 L1399.25 1112.49 L1402.29 1112.87 L1405.34 1113.25 L1408.38 1113.62 L1411.42 1113.98 L1414.46 1114.33 L1417.5 1114.68 L1420.54 1115.02 L1423.59 1115.35 L1426.63 1115.68 L1429.67 1116 L1432.71 1116.31 L1435.75 1116.62 L1438.79 1116.93 L1441.84 1117.22 L1444.88 1117.51 L1447.92 1117.8 L1450.96 1118.08 L1454 1118.35 L1457.04 1118.62 L1460.08 1118.88 L1463.13 1119.13 L1466.17 1119.39 L1469.21 1119.63 L1472.25 1119.87 L1475.29 1120.11 L1478.33 1120.34 L1481.38 1120.57 L1484.42 1120.79 L1487.46 1121.01 L1490.5 1121.22 L1493.54 1121.43 L1496.58 1121.63 L1499.63 1121.83" stroke="#000" stroke-width="5.8" stroke-opacity="0.25" stroke-dasharray="18.8 3.6 9.9 3.62" stroke-dashoffset="0"/>
<path d="M178.92 1129.9 L179.58 1128.2 L180.25 1126.49 L180.94 1124.79 L181.63 1123.08 L182.32 1121.38 L183.03 1119.67 L183.74 1117.97 L184.46 1116.27 L185.19 1114.56 L185.92 1112.86 L186.66 1111.15 L187.4 1109.45 L188.15 1107.75 L188.91 1106.05 L189.67 1104.34 L190.43 1102.64 L191.2 1100.94 L191.97 1099.24 L192.74 1097.54 L193.52 1095.84 L194.3 1094.14 L195.09 1092.44 L195.87 1090.74 L196.66 1089.04 L197.46 1087.35 L198.25 1085.65 L199.05 1083.95 L199.85 1082.26 L200.65 1080.56 L201.46 1078.87 L202.26 1077.18 L203.07 1075.48 L203.88 1073.79 L204.69 1072.1 L205.5 1070.41 L206.32 1068.72 L207.13 1067.03 L207.95 1065.34 L208.77 1063.66 L209.59 1061.97 L210.41 1060.28 L211.23 1058.6 L212.05 1056.92 L212.87 1055.24 L213.7 1053.55 L214.52 1051.87 L215.35 1050.19 L216.17 1048.52 L217 1046.84 L217.83 1045.16 L218.65 1043.49 L219.48 1041.82 L220.31 1040.15 L221.14 1038.47 L221.97 1036.81 L222.8 1035.14 L223.63 1033.47 L224.46 1031.8 L225.3 1030.14 L228.32 1024.11 L231.34 1018.11 L234.37 1012.12 L237.4 1006.16 L240.43 1000.22 L243.46 994.3 L246.5 988.4 L249.54 982.53 L252.57 976.69 L255.61 970.88 L258.65 965.1 L261.69 959.34 L264.73 953.62 L267.77 947.93 L270.81 942.27 L273.85 936.64 L276.89 931.05 L279.93 925.5 L282.97 919.98 L286.02 914.5 L289.06 909.06 L292.1 903.65 L295.14 898.29 L298.18 892.97 L301.22 887.69 L304.26 882.46 L307.31 877.26 L310.35 872.12 L313.39 867.02 L316.43 861.96 L319.47 856.95 L322.51 851.99 L325.56 847.08 L328.6 842.22 L331.64 837.41 L334.68 832.65 L337.72 827.94 L340.76 823.28 L343.8 818.68 L346.85 814.13 L349.89 809.63 L352.93 805.19 L355.97 800.81 L359.01 796.48 L362.05 792.21 L365.1 787.99 L368.14 783.83 L371.18 779.74 L374.22 775.7 L377.26 771.72 L380.3 767.8 L383.35 763.94 L386.39 760.14 L389.43 756.4 L392.47 752.73 L395.51 749.11 L398.55 745.56 L401.6 742.07 L404.64 738.65 L407.68 735.29 L410.72 731.99 L413.76 728.76 L416.8 725.59 L419.85 722.49 L422.89 719.45 L425.93 716.48 L428.97 713.57 L432.01 710.73 L435.05 707.95 L438.1 705.24 L441.14 702.6 L444.18 700.02 L447.22 697.51 L450.26 695.07 L453.3 692.69 L456.35 690.38 L459.39 688.14 L462.43 685.96 L465.47 683.85 L468.51 681.81 L471.55 679.83 L474.6 677.92 L477.64 676.08 L480.68 674.31 L483.72 672.6 L486.76 670.95 L489.8 669.38 L492.84 667.87 L495.89 666.42 L498.93 665.05 L501.97 663.73 L505.01 662.49 L508.05 661.31 L511.09 660.19 L514.14 659.14 L517.18 658.15 L520.22 657.23 L523.26 656.37 L526.3 655.58 L529.34 654.85 L532.39 654.18 L535.43 653.58 L538.47 653.03 L541.51 652.55 L544.55 652.14 L547.59 651.78 L550.64 651.49 L553.68 651.25 L556.72 651.08 L559.76 650.96 L562.8 650.91 L565.84 650.91 L568.89 650.98 L571.93 651.1 L574.97 651.27 L578.01 651.51 L581.05 651.8 L584.09 652.15 L587.14 652.55 L590.18 653.01 L593.22 653.52 L596.26 654.09 L599.3 654.71 L602.34 655.38 L605.39 656.11 L608.43 656.88 L611.47 657.71 L614.51 658.59 L617.55 659.52 L620.59 660.49 L623.64 661.52 L626.68 662.59 L629.72 663.71 L632.76 664.88 L635.8 666.09 L638.84 667.35 L641.89 668.66 L644.93 670.01 L647.97 671.4 L651.01 672.83 L654.05 674.31 L657.09 675.82 L660.13 677.38 L663.18 678.98 L666.22 680.62 L669.26 682.3 L672.3 684.01 L675.34 685.76 L678.38 687.55 L681.43 689.38 L684.47 691.24 L687.51 693.13 L690.55 695.06 L693.59 697.02 L696.63 699.01 L699.68 701.04 L702.72 703.1 L705.76 705.18 L708.8 707.3 L711.84 709.45 L714.88 711.62 L717.93 713.82 L720.97 716.05 L724.01 718.3 L727.05 720.58 L730.09 722.89 L733.13 725.22 L736.18 727.57 L739.22 729.94 L742.26 732.34 L745.3 734.76 L748.34 737.2 L751.38 739.65 L754.43 742.13 L757.47 744.63 L760.51 747.14 L763.55 749.67 L766.59 752.22 L769.63 754.78 L772.68 757.36 L775.72 759.95 L778.76 762.56 L781.8 765.18 L784.84 767.81 L787.88 770.46 L790.93 773.12 L793.97 775.78 L797.01 778.46 L800.05 781.15 L803.09 783.84 L806.13 786.55 L809.17 789.26 L812.22 791.98 L815.26 794.7 L818.3 797.43 L821.34 800.17 L824.38 802.91 L827.42 805.66 L830.47 808.41 L833.51 811.16 L836.55 813.91 L839.59 816.67 L842.63 819.43 L845.67 822.19 L848.72 824.95 L851.76 827.71 L854.8 830.47 L857.84 833.23 L860.88 835.98 L863.92 838.74 L866.97 841.49 L870.01 844.24 L873.05 846.98 L876.09 849.73 L879.13 852.46 L882.17 855.2 L885.22 857.93 L888.26 860.65 L891.3 863.36 L894.34 866.07 L897.38 868.78 L900.42 871.47 L903.47 874.16 L906.51 876.84 L909.55 879.51 L912.59 882.17 L915.63 884.83 L918.67 887.47 L921.72 890.1 L924.76 892.73 L927.8 895.34 L930.84 897.95 L933.88 900.54 L936.92 903.12 L939.97 905.69 L943.01 908.24 L946.05 910.79 L949.09 913.32 L952.13 915.84 L955.17 918.34 L958.22 920.84 L961.26 923.32 L964.3 925.78 L967.34 928.23 L970.38 930.67 L973.42 933.09 L976.46 935.5 L979.51 937.89 L982.55 940.27 L985.59 942.63 L988.63 944.98 L991.67 947.31 L994.71 949.63 L997.76 951.93 L1000.8 954.21 L1003.84 956.48 L1006.88 958.73 L1009.92 960.96 L1012.96 963.18 L1016.01 965.38 L1019.05 967.56 L1022.09 969.73 L1025.13 971.88 L1028.17 974.01 L1031.21 976.13 L1034.26 978.22 L1037.3 980.3 L1040.34 982.36 L1043.38 984.41 L1046.42 986.43 L1049.46 988.44 L1052.51 990.43 L1055.55 992.41 L1058.59 994.36 L1061.63 996.3 L1064.67 998.22 L1067.71 1000.12 L1070.76 1002 L1073.8 1003.87 L1076.84 1005.71 L1079.88 1007.54 L1082.92 1009.35 L1085.96 1011.14 L1089.01 1012.92 L1092.05 1014.67 L1095.09 1016.41 L1098.13 1018.13 L1101.17 1019.83 L1104.21 1021.51 L1107.26 1023.18 L1110.3 1024.82 L1113.34 1026.45 L1116.38 1028.07 L1119.42 1029.66 L1122.46 1031.23 L1125.5 1032.79 L1128.55 1034.33 L1131.59 1035.85 L1134.63 1037.36 L1137.67 1038.85 L1140.71 1040.31 L1143.75 1041.77 L1146.8 1043.2 L1149.84 1044.62 L1152.88 1046.02 L1155.92 1047.4 L1158.96 1048.77 L1162 1050.12 L1165.05 1051.45 L1168.09 1052.76 L1171.13 1054.06 L1174.17 1055.35 L1177.21 1056.61 L1180.25 1057.86 L1183.3 1059.09 L1186.34 1060.31 L1189.38 1061.51 L1192.42 1062.7 L1195.46 1063.86 L1198.5 1065.02 L1201.55 1066.15 L1204.59 1067.28 L1207.63 1068.38 L1210.67 1069.47 L1213.71 1070.55 L1216.75 1071.61 L1219.8 1072.66 L1222.84 1073.69 L1225.88 1074.7 L1228.92 1075.7 L1231.96 1076.69 L1235 1077.66 L1238.05 1078.62 L1241.09 1079.57 L1244.13 1080.5 L1247.17 1081.42 L1250.21 1082.32 L1253.25 1083.21 L1256.3 1084.08 L1259.34 1084.95 L1262.38 1085.8 L1265.42 1086.63 L1268.46 1087.46 L1271.5 1088.27 L1274.55 1089.06 L1277.59 1089.85 L1280.63 1090.62 L1283.67 1091.38 L1286.71 1092.13 L1289.75 1092.87 L1292.79 1093.59 L1295.84 1094.31 L1298.88 1095.01 L1301.92 1095.7 L1304.96 1096.38 L1308 1097.04 L1311.04 1097.7 L1314.09 1098.35 L1317.13 1098.98 L1320.17 1099.6 L1323.21 1100.22 L1326.25 1100.82 L1329.29 1101.41 L1332.34 1102 L1335.38 1102.57 L1338.42 1103.13 L1341.46 1103.68 L1344.5 1104.23 L1347.54 1104.76 L1350.59 1105.28 L1353.63 1105.8 L1356.67 1106.3 L1359.71 1106.8 L1362.75 1107.29 L1365.79 1107.77 L1368.84 1108.24 L1371.88 1108.7 L1374.92 1109.15 L1377.96 1109.6 L1381 1110.03 L1384.04 1110.46 L1387.09 1110.88 L1390.13 1111.3 L1393.17 1111.7 L1396.21 1112.1 L1399.25 1112.49 L1402.29 1112.87 L1405.34 1113.25 L1408.38 1113.62 L1411.42 1113.98 L1414.46 1114.33 L1417.5 1114.68 L1420.54 1115.02 L1423.59 1115.35 L1426.63 1115.68 L1429.67 1116 L1432.71 1116.31 L1435.75 1116.62 L1438.79 1116.93 L1441.84 1117.22 L1444.88 1117.51 L1447.92 1117.8 L1450.96 1118.08 L1454 1118.35 L1457.04 1118.62 L1460.08 1118.88 L1463.13 1119.13 L1466.17 1119.39 L1469.21 1119.63 L1472.25 1119.87 L1475.29 1120.11 L1478.33 1120.34 L1481.38 1120.57 L1484.42 1120.79 L1487.46 1121.01 L1490.5 1121.22 L1493.54 1121.43 L1496.58 1121.63 L1499.63 1121.83" stroke="#000" stroke-width="4.0" stroke-dasharray="18.8 3.6 9.9 3.62" stroke-dashoffset="0"/>
</g>
<g font-size="66.3" fill="#262626">
<text x="177.5" y="1211.3" text-anchor="middle">0</text>
<text x="505.8" y="1211.3" text-anchor="middle">200</text>
<text x="835.5" y="1211.3" text-anchor="middle">400</text>
<text x="1163.5" y="1211.3" text-anchor="middle">600</text>
<text x="1493.2" y="1211.3" text-anchor="middle">800</text>
<text x="155" y="1154.5" text-anchor="end">0</text>
<text x="155" y="954.5" text-anchor="end">1</text>
<text x="155" y="754.5" text-anchor="end">2</text>
<text x="155" y="554.5" text-anchor="end">3</text>
<text x="155" y="354.5" text-anchor="end">4</text>
<text x="155" y="154.5" text-anchor="end">5</text>
</g>
<text x="181.2" y="128.6" font-size="85" font-weight="normal" fill="#262626" style="font-weight:normal">×</text>
<text x="233" y="118" font-size="66.3" fill="#262626">10</text>
<text x="297" y="87" font-size="50.5" fill="#262626">-3</text>
<text x="836.1" y="1297.4" font-size="72.6" fill="#262626" text-anchor="middle">Clutter Amplitude</text>
<text transform="translate(93.7 631) rotate(-90)" font-size="72.6" fill="#262626" text-anchor="middle">Density</text>
<rect x="972.1" y="172.5" width="480" height="285.3" fill="#fff" stroke="#262626" stroke-width="2"/>
<rect x="982.9" y="185.5" width="90.8" height="52.6" fill="#4ccae4" stroke="#4ccae4" stroke-opacity="0.4" stroke-width="1.6"/>
<g fill="none">
<path d="M982.3 280.6H1075.5" stroke="#0000ff" stroke-width="6.6" stroke-opacity="0.3"/>
<path d="M982.3 280.6H1075.5" stroke="#0000ff" stroke-width="4.4"/>
<path d="M982.3 352.3H1075" stroke="#ff0000" stroke-width="6.6" stroke-opacity="0.3" stroke-dasharray="20 18 18 18"/>
<path d="M982.3 352.3H1075" stroke="#ff0000" stroke-width="4.4" stroke-dasharray="20 18 18 18"/>
<path d="M982.3 420.9H1075" stroke="#000" stroke-width="6.6" stroke-opacity="0.3" stroke-dasharray="20 4.6 9 4.4 18 4.6 9 4.4"/>
<path d="M982.3 420.9H1075" stroke="#000" stroke-width="4.4" stroke-dasharray="20 4.6 9 4.4 18 4.6 9 4.4"/>
</g>
<g font-size="58.3" fill="#000">
<text x="1083.2" y="232.1">Clutter data</text>
<text x="1083.2" y="302.2">PDF of clutter</text>
<text x="1083.2" y="368.8">Weibull</text>
<text x="1083.2" y="438.6">Rayleigh</text>
</g>
</svg></body></html>
